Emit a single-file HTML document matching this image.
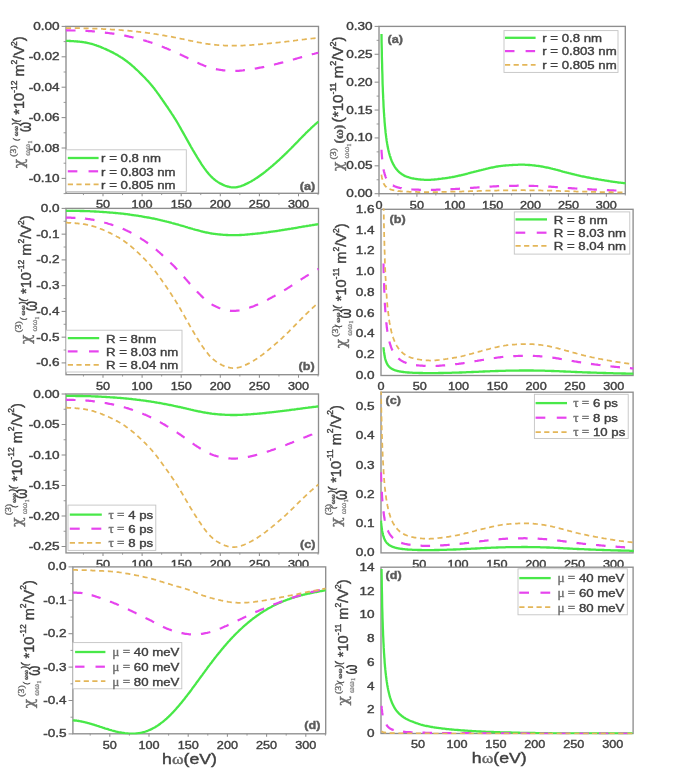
<!DOCTYPE html>
<html lang="en"><head><meta charset="utf-8"><title>Third-order susceptibility plots</title>
<style>html,body{margin:0;padding:0;background:#fff}body{width:685px;height:773px;overflow:hidden}svg{display:block;filter:blur(0.55px)}text{white-space:pre;stroke-width:.4px}</style></head>
<body>
<svg width="685" height="773" viewBox="0 0 685 773">
<rect width="685" height="773" fill="#fff"/>
<g>
<rect x="66" y="26.4" width="252.5" height="166.9" fill="#fff"/>
<clipPath id="c1"><rect x="65.3" y="25.7" width="253.9" height="168.3"/></clipPath>
<rect x="66" y="26.4" width="252.5" height="166.9" fill="none" stroke="#8e8e8e" stroke-width="1.35"/>
<g clip-path="url(#c1)" fill="none" stroke-linejoin="round">
<path d="M66.0 40.7 L66.1 40.8 L66.3 40.8 L66.4 40.8 L66.6 40.8 L66.7 40.8 L66.9 40.8 L67.0 40.8 L67.2 40.8 L67.3 40.8 L67.5 40.9 L67.6 40.9 L67.8 40.9 L67.9 40.9 L68.1 40.9 L68.2 40.9 L68.4 40.9 L68.5 40.9 L68.7 40.9 L68.8 40.9 L69.0 40.9 L69.1 41.0 L69.2 41.0 L69.4 41.0 L69.5 41.0 L69.7 41.0 L69.8 41.0 L70.0 41.0 L70.1 41.0 L70.3 41.0 L70.4 41.0 L70.6 41.0 L70.7 41.1 L70.9 41.1 L71.0 41.1 L71.2 41.1 L71.3 41.1 L71.5 41.1 L71.6 41.1 L71.8 41.1 L71.9 41.1 L72.0 41.1 L72.2 41.1 L72.3 41.2 L72.5 41.2 L72.6 41.2 L72.8 41.2 L72.9 41.2 L73.1 41.2 L73.2 41.2 L73.4 41.2 L73.5 41.2 L73.7 41.2 L73.8 41.2 L74.0 41.3 L74.1 41.3 L74.3 41.3 L74.4 41.3 L74.6 41.3 L74.7 41.3 L74.9 41.3 L75.0 41.3 L75.1 41.3 L75.3 41.3 L75.4 41.4 L75.6 41.4 L75.7 41.4 L75.9 41.4 L76.0 41.4 L76.2 41.4 L76.3 41.4 L76.5 41.4 L76.6 41.4 L76.8 41.5 L76.9 41.5 L77.1 41.5 L77.2 41.5 L77.4 41.5 L77.5 41.5 L77.7 41.5 L77.8 41.5 L78.0 41.6 L78.1 41.6 L78.2 41.6 L78.4 41.6 L78.5 41.6 L78.7 41.6 L78.8 41.6 L79.0 41.7 L79.1 41.7 L79.3 41.7 L79.4 41.7 L79.6 41.7 L79.7 41.7 L79.9 41.7 L80.0 41.8 L80.2 41.8 L80.3 41.8 L80.5 41.8 L80.6 41.8 L80.8 41.8 L80.9 41.9 L81.0 41.9 L81.2 41.9 L81.3 41.9 L81.5 41.9 L81.6 41.9 L81.8 42.0 L81.9 42.0 L82.1 42.0 L82.2 42.0 L82.4 42.0 L82.5 42.1 L82.7 42.1 L82.8 42.1 L83.0 42.1 L83.1 42.1 L83.3 42.2 L83.4 42.2 L83.6 42.2 L83.7 42.2 L83.9 42.3 L84.0 42.3 L84.1 42.3 L84.3 42.3 L84.4 42.4 L84.6 42.4 L84.7 42.4 L84.9 42.4 L85.0 42.5 L85.2 42.5 L85.3 42.5 L85.5 42.5 L85.6 42.6 L85.8 42.6 L85.9 42.6 L86.1 42.6 L86.2 42.7 L86.4 42.7 L86.5 42.7 L86.7 42.8 L86.8 42.8 L87.0 42.8 L87.1 42.9 L87.2 42.9 L87.4 42.9 L87.5 42.9 L87.7 43.0 L87.8 43.0 L88.0 43.0 L88.1 43.1 L88.3 43.1 L88.4 43.1 L88.6 43.2 L88.7 43.2 L88.9 43.2 L89.0 43.3 L89.2 43.3 L89.3 43.3 L89.5 43.4 L90.5 43.6 L91.6 43.9 L92.6 44.2 L93.6 44.5 L94.7 44.9 L95.7 45.2 L96.8 45.6 L97.8 45.9 L98.9 46.3 L99.9 46.7 L101.0 47.1 L102.0 47.6 L103.0 48.0 L104.1 48.5 L105.1 48.9 L106.2 49.4 L107.2 49.9 L108.3 50.4 L109.3 50.8 L110.4 51.4 L111.4 51.9 L112.5 52.4 L113.5 52.9 L114.5 53.5 L115.6 54.1 L116.6 54.6 L117.7 55.2 L118.7 55.9 L119.8 56.5 L120.8 57.2 L121.9 57.8 L122.9 58.5 L124.0 59.3 L125.0 60.0 L126.0 60.7 L127.1 61.5 L128.1 62.3 L129.2 63.2 L130.2 64.0 L131.3 64.9 L132.3 65.8 L133.4 66.7 L134.4 67.6 L135.4 68.6 L136.5 69.6 L137.5 70.5 L138.6 71.5 L139.6 72.6 L140.7 73.6 L141.7 74.6 L142.8 75.7 L143.8 76.7 L144.9 77.8 L145.9 78.9 L146.9 80.0 L148.0 81.1 L149.0 82.3 L150.1 83.5 L151.1 84.7 L152.2 86.0 L153.2 87.3 L154.3 88.6 L155.3 90.0 L156.4 91.4 L157.4 92.8 L158.4 94.2 L159.5 95.7 L160.5 97.2 L161.6 98.7 L162.6 100.2 L163.7 101.7 L164.7 103.3 L165.8 104.8 L166.8 106.3 L167.9 107.8 L168.9 109.4 L169.9 110.9 L171.0 112.5 L172.0 114.1 L173.1 115.7 L174.1 117.4 L175.2 119.0 L176.2 120.7 L177.3 122.5 L178.3 124.2 L179.3 126.0 L180.4 127.9 L181.4 129.7 L182.5 131.6 L183.5 133.4 L184.6 135.3 L185.6 137.2 L186.7 139.1 L187.7 140.9 L188.8 142.8 L189.8 144.6 L190.8 146.5 L191.9 148.3 L192.9 150.1 L194.0 151.9 L195.0 153.6 L196.1 155.4 L197.1 157.1 L198.2 158.8 L199.2 160.5 L200.3 162.1 L201.3 163.8 L202.3 165.3 L203.4 166.9 L204.4 168.4 L205.5 169.8 L206.5 171.2 L207.6 172.5 L208.6 173.8 L209.7 175.0 L210.7 176.1 L211.8 177.1 L212.8 178.1 L213.8 179.0 L214.9 179.9 L215.9 180.7 L217.0 181.4 L218.0 182.1 L219.1 182.8 L220.1 183.4 L221.2 183.9 L222.2 184.4 L223.2 184.9 L224.3 185.4 L225.3 185.8 L226.4 186.1 L227.4 186.5 L228.5 186.7 L229.5 187.0 L230.6 187.2 L231.6 187.3 L232.7 187.4 L233.7 187.4 L234.7 187.4 L235.8 187.3 L236.8 187.1 L237.9 187.0 L238.9 186.7 L240.0 186.4 L241.0 186.1 L242.1 185.7 L243.1 185.3 L244.2 184.9 L245.2 184.4 L246.2 183.9 L247.3 183.4 L248.3 182.9 L249.4 182.3 L250.4 181.8 L251.5 181.2 L252.5 180.6 L253.6 179.9 L254.6 179.3 L255.6 178.6 L256.7 178.0 L257.7 177.3 L258.8 176.5 L259.8 175.8 L260.9 175.0 L261.9 174.3 L263.0 173.5 L264.0 172.7 L265.1 171.9 L266.1 171.0 L267.1 170.2 L268.2 169.3 L269.2 168.4 L270.3 167.6 L271.3 166.7 L272.4 165.8 L273.4 164.9 L274.5 164.0 L275.5 163.1 L276.6 162.1 L277.6 161.2 L278.6 160.3 L279.7 159.3 L280.7 158.3 L281.8 157.4 L282.8 156.4 L283.9 155.4 L284.9 154.4 L286.0 153.4 L287.0 152.4 L288.1 151.3 L289.1 150.3 L290.1 149.3 L291.2 148.2 L292.2 147.1 L293.3 146.1 L294.3 145.0 L295.4 143.9 L296.4 142.8 L297.5 141.8 L298.5 140.7 L299.5 139.6 L300.6 138.5 L301.6 137.5 L302.7 136.4 L303.7 135.3 L304.8 134.3 L305.8 133.2 L306.9 132.2 L307.9 131.2 L309.0 130.2 L310.0 129.2 L311.0 128.2 L312.1 127.2 L313.1 126.2 L314.2 125.3 L315.2 124.3 L316.3 123.4 L317.3 122.5 L318.4 121.5" stroke="#48e848" stroke-width="2.3"/>
<path d="M66.0 30.4 L66.1 30.4 L66.3 30.4 L66.4 30.4 L66.6 30.4 L66.7 30.4 L66.9 30.4 L67.0 30.4 L67.2 30.4 L67.3 30.4 L67.5 30.4 L67.6 30.4 L67.8 30.4 L67.9 30.4 L68.1 30.4 L68.2 30.4 L68.4 30.4 L68.5 30.4 L68.7 30.4 L68.8 30.4 L69.0 30.4 L69.1 30.4 L69.2 30.4 L69.4 30.4 L69.5 30.4 L69.7 30.4 L69.8 30.4 L70.0 30.4 L70.1 30.4 L70.3 30.4 L70.4 30.5 L70.6 30.5 L70.7 30.5 L70.9 30.5 L71.0 30.5 L71.2 30.5 L71.3 30.5 L71.5 30.5 L71.6 30.5 L71.8 30.5 L71.9 30.5 L72.0 30.5 L72.2 30.5 L72.3 30.5 L72.5 30.5 L72.6 30.5 L72.8 30.5 L72.9 30.5 L73.1 30.5 L73.2 30.5 L73.4 30.5 L73.5 30.5 L73.7 30.5 L73.8 30.5 L74.0 30.5 L74.1 30.5 L74.3 30.5 L74.4 30.5 L74.6 30.5 L74.7 30.5 L74.9 30.5 L75.0 30.5 L75.1 30.5 L75.3 30.5 L75.4 30.5 L75.6 30.5 L75.7 30.5 L75.9 30.5 L76.0 30.6 L76.2 30.6 L76.3 30.6 L76.5 30.6 L76.6 30.6 L76.8 30.6 L76.9 30.6 L77.1 30.6 L77.2 30.6 L77.4 30.6 L77.5 30.6 L77.7 30.6 L77.8 30.6 L78.0 30.6 L78.1 30.6 L78.2 30.6 L78.4 30.6 L78.5 30.6 L78.7 30.6 L78.8 30.6 L79.0 30.6 L79.1 30.6 L79.3 30.6 L79.4 30.6 L79.6 30.6 L79.7 30.6 L79.9 30.6 L80.0 30.6 L80.2 30.7 L80.3 30.7 L80.5 30.7 L80.6 30.7 L80.8 30.7 L80.9 30.7 L81.0 30.7 L81.2 30.7 L81.3 30.7 L81.5 30.7 L81.6 30.7 L81.8 30.7 L81.9 30.7 L82.1 30.7 L82.2 30.7 L82.4 30.7 L82.5 30.7 L82.7 30.7 L82.8 30.7 L83.0 30.8 L83.1 30.8 L83.3 30.8 L83.4 30.8 L83.6 30.8 L83.7 30.8 L83.9 30.8 L84.0 30.8 L84.1 30.8 L84.3 30.8 L84.4 30.8 L84.6 30.8 L84.7 30.8 L84.9 30.8 L85.0 30.8 L85.2 30.8 L85.3 30.9 L85.5 30.9 L85.6 30.9 L85.8 30.9 L85.9 30.9 L86.1 30.9 L86.2 30.9 L86.4 30.9 L86.5 30.9 L86.7 30.9 L86.8 30.9 L87.0 30.9 L87.1 31.0 L87.2 31.0 L87.4 31.0 L87.5 31.0 L87.7 31.0 L87.8 31.0 L88.0 31.0 L88.1 31.0 L88.3 31.0 L88.4 31.0 L88.6 31.0 L88.7 31.1 L88.9 31.1 L89.0 31.1 L89.2 31.1 L89.3 31.1 L89.5 31.1 L90.5 31.2 L91.6 31.2 L92.6 31.3 L93.6 31.4 L94.7 31.5 L95.7 31.6 L96.8 31.7 L97.8 31.8 L98.9 31.9 L99.9 32.0 L101.0 32.1 L102.0 32.3 L103.0 32.4 L104.1 32.5 L105.1 32.6 L106.2 32.8 L107.2 32.9 L108.3 33.0 L109.3 33.2 L110.4 33.3 L111.4 33.4 L112.5 33.6 L113.5 33.7 L114.5 33.9 L115.6 34.1 L116.6 34.2 L117.7 34.4 L118.7 34.6 L119.8 34.7 L120.8 34.9 L121.9 35.1 L122.9 35.3 L124.0 35.5 L125.0 35.7 L126.0 35.9 L127.1 36.1 L128.1 36.3 L129.2 36.6 L130.2 36.8 L131.3 37.0 L132.3 37.3 L133.4 37.5 L134.4 37.8 L135.4 38.1 L136.5 38.3 L137.5 38.6 L138.6 38.9 L139.6 39.2 L140.7 39.5 L141.7 39.7 L142.8 40.0 L143.8 40.3 L144.9 40.6 L145.9 40.9 L146.9 41.2 L148.0 41.5 L149.0 41.9 L150.1 42.2 L151.1 42.5 L152.2 42.9 L153.2 43.2 L154.3 43.6 L155.3 44.0 L156.4 44.4 L157.4 44.8 L158.4 45.2 L159.5 45.6 L160.5 46.0 L161.6 46.4 L162.6 46.8 L163.7 47.2 L164.7 47.7 L165.8 48.1 L166.8 48.5 L167.9 48.9 L168.9 49.4 L169.9 49.8 L171.0 50.2 L172.0 50.7 L173.1 51.1 L174.1 51.6 L175.2 52.0 L176.2 52.5 L177.3 53.0 L178.3 53.5 L179.3 54.0 L180.4 54.5 L181.4 55.0 L182.5 55.5 L183.5 56.0 L184.6 56.5 L185.6 57.1 L186.7 57.6 L187.7 58.1 L188.8 58.6 L189.8 59.1 L190.8 59.6 L191.9 60.1 L192.9 60.6 L194.0 61.1 L195.0 61.6 L196.1 62.1 L197.1 62.6 L198.2 63.0 L199.2 63.5 L200.3 64.0 L201.3 64.4 L202.3 64.8 L203.4 65.3 L204.4 65.7 L205.5 66.1 L206.5 66.5 L207.6 66.8 L208.6 67.2 L209.7 67.5 L210.7 67.8 L211.8 68.1 L212.8 68.4 L213.8 68.6 L214.9 68.9 L215.9 69.1 L217.0 69.3 L218.0 69.5 L219.1 69.7 L220.1 69.8 L221.2 70.0 L222.2 70.1 L223.2 70.3 L224.3 70.4 L225.3 70.5 L226.4 70.6 L227.4 70.7 L228.5 70.8 L229.5 70.8 L230.6 70.9 L231.6 70.9 L232.7 70.9 L233.7 70.9 L234.7 70.9 L235.8 70.9 L236.8 70.9 L237.9 70.8 L238.9 70.8 L240.0 70.7 L241.0 70.6 L242.1 70.5 L243.1 70.4 L244.2 70.2 L245.2 70.1 L246.2 70.0 L247.3 69.8 L248.3 69.7 L249.4 69.5 L250.4 69.4 L251.5 69.2 L252.5 69.1 L253.6 68.9 L254.6 68.7 L255.6 68.5 L256.7 68.3 L257.7 68.1 L258.8 67.9 L259.8 67.7 L260.9 67.5 L261.9 67.3 L263.0 67.1 L264.0 66.9 L265.1 66.6 L266.1 66.4 L267.1 66.2 L268.2 65.9 L269.2 65.7 L270.3 65.5 L271.3 65.2 L272.4 65.0 L273.4 64.7 L274.5 64.5 L275.5 64.2 L276.6 64.0 L277.6 63.7 L278.6 63.4 L279.7 63.2 L280.7 62.9 L281.8 62.6 L282.8 62.4 L283.9 62.1 L284.9 61.8 L286.0 61.5 L287.0 61.3 L288.1 61.0 L289.1 60.7 L290.1 60.4 L291.2 60.1 L292.2 59.8 L293.3 59.5 L294.3 59.2 L295.4 58.9 L296.4 58.6 L297.5 58.3 L298.5 58.0 L299.5 57.7 L300.6 57.4 L301.6 57.1 L302.7 56.8 L303.7 56.5 L304.8 56.2 L305.8 56.0 L306.9 55.7 L307.9 55.4 L309.0 55.1 L310.0 54.8 L311.0 54.6 L312.1 54.3 L313.1 54.0 L314.2 53.8 L315.2 53.5 L316.3 53.2 L317.3 53.0 L318.4 52.7" stroke="#e644ee" stroke-width="2.2" stroke-dasharray="9.6 10"/>
<path d="M66.0 28.1 L66.1 28.1 L66.3 28.1 L66.4 28.1 L66.6 28.1 L66.7 28.1 L66.9 28.1 L67.0 28.1 L67.2 28.1 L67.3 28.1 L67.5 28.1 L67.6 28.1 L67.8 28.1 L67.9 28.1 L68.1 28.1 L68.2 28.1 L68.4 28.1 L68.5 28.1 L68.7 28.1 L68.8 28.1 L69.0 28.1 L69.1 28.1 L69.2 28.1 L69.4 28.1 L69.5 28.1 L69.7 28.2 L69.8 28.2 L70.0 28.2 L70.1 28.2 L70.3 28.2 L70.4 28.2 L70.6 28.2 L70.7 28.2 L70.9 28.2 L71.0 28.2 L71.2 28.2 L71.3 28.2 L71.5 28.2 L71.6 28.2 L71.8 28.2 L71.9 28.2 L72.0 28.2 L72.2 28.2 L72.3 28.2 L72.5 28.2 L72.6 28.2 L72.8 28.2 L72.9 28.2 L73.1 28.2 L73.2 28.2 L73.4 28.2 L73.5 28.2 L73.7 28.2 L73.8 28.2 L74.0 28.2 L74.1 28.2 L74.3 28.2 L74.4 28.2 L74.6 28.2 L74.7 28.2 L74.9 28.2 L75.0 28.2 L75.1 28.2 L75.3 28.2 L75.4 28.2 L75.6 28.2 L75.7 28.2 L75.9 28.2 L76.0 28.2 L76.2 28.2 L76.3 28.2 L76.5 28.2 L76.6 28.2 L76.8 28.2 L76.9 28.2 L77.1 28.2 L77.2 28.2 L77.4 28.2 L77.5 28.2 L77.7 28.2 L77.8 28.2 L78.0 28.2 L78.1 28.2 L78.2 28.2 L78.4 28.2 L78.5 28.2 L78.7 28.2 L78.8 28.2 L79.0 28.2 L79.1 28.2 L79.3 28.2 L79.4 28.2 L79.6 28.2 L79.7 28.2 L79.9 28.2 L80.0 28.2 L80.2 28.2 L80.3 28.2 L80.5 28.2 L80.6 28.2 L80.8 28.3 L80.9 28.3 L81.0 28.3 L81.2 28.3 L81.3 28.3 L81.5 28.3 L81.6 28.3 L81.8 28.3 L81.9 28.3 L82.1 28.3 L82.2 28.3 L82.4 28.3 L82.5 28.3 L82.7 28.3 L82.8 28.3 L83.0 28.3 L83.1 28.3 L83.3 28.3 L83.4 28.3 L83.6 28.3 L83.7 28.3 L83.9 28.3 L84.0 28.3 L84.1 28.3 L84.3 28.3 L84.4 28.3 L84.6 28.3 L84.7 28.3 L84.9 28.3 L85.0 28.3 L85.2 28.3 L85.3 28.3 L85.5 28.3 L85.6 28.3 L85.8 28.3 L85.9 28.3 L86.1 28.3 L86.2 28.4 L86.4 28.4 L86.5 28.4 L86.7 28.4 L86.8 28.4 L87.0 28.4 L87.1 28.4 L87.2 28.4 L87.4 28.4 L87.5 28.4 L87.7 28.4 L87.8 28.4 L88.0 28.4 L88.1 28.4 L88.3 28.4 L88.4 28.4 L88.6 28.4 L88.7 28.4 L88.9 28.4 L89.0 28.4 L89.2 28.4 L89.3 28.4 L89.5 28.4 L90.5 28.5 L91.6 28.5 L92.6 28.5 L93.6 28.6 L94.7 28.6 L95.7 28.7 L96.8 28.7 L97.8 28.7 L98.9 28.8 L99.9 28.8 L101.0 28.9 L102.0 28.9 L103.0 29.0 L104.1 29.0 L105.1 29.1 L106.2 29.2 L107.2 29.2 L108.3 29.3 L109.3 29.3 L110.4 29.4 L111.4 29.5 L112.5 29.5 L113.5 29.6 L114.5 29.6 L115.6 29.7 L116.6 29.8 L117.7 29.9 L118.7 29.9 L119.8 30.0 L120.8 30.1 L121.9 30.2 L122.9 30.3 L124.0 30.3 L125.0 30.4 L126.0 30.5 L127.1 30.6 L128.1 30.7 L129.2 30.8 L130.2 30.9 L131.3 31.0 L132.3 31.1 L133.4 31.2 L134.4 31.3 L135.4 31.5 L136.5 31.6 L137.5 31.7 L138.6 31.8 L139.6 31.9 L140.7 32.1 L141.7 32.2 L142.8 32.3 L143.8 32.4 L144.9 32.6 L145.9 32.7 L146.9 32.8 L148.0 33.0 L149.0 33.1 L150.1 33.2 L151.1 33.4 L152.2 33.5 L153.2 33.7 L154.3 33.9 L155.3 34.0 L156.4 34.2 L157.4 34.4 L158.4 34.5 L159.5 34.7 L160.5 34.9 L161.6 35.1 L162.6 35.3 L163.7 35.4 L164.7 35.6 L165.8 35.8 L166.8 36.0 L167.9 36.2 L168.9 36.4 L169.9 36.5 L171.0 36.7 L172.0 36.9 L173.1 37.1 L174.1 37.3 L175.2 37.5 L176.2 37.7 L177.3 37.9 L178.3 38.1 L179.3 38.3 L180.4 38.6 L181.4 38.8 L182.5 39.0 L183.5 39.2 L184.6 39.5 L185.6 39.7 L186.7 39.9 L187.7 40.1 L188.8 40.4 L189.8 40.6 L190.8 40.8 L191.9 41.0 L192.9 41.2 L194.0 41.4 L195.0 41.7 L196.1 41.9 L197.1 42.1 L198.2 42.3 L199.2 42.5 L200.3 42.7 L201.3 42.9 L202.3 43.1 L203.4 43.2 L204.4 43.4 L205.5 43.6 L206.5 43.8 L207.6 43.9 L208.6 44.1 L209.7 44.2 L210.7 44.4 L211.8 44.5 L212.8 44.6 L213.8 44.7 L214.9 44.8 L215.9 44.9 L217.0 45.0 L218.0 45.1 L219.1 45.2 L220.1 45.2 L221.2 45.3 L222.2 45.4 L223.2 45.4 L224.3 45.5 L225.3 45.5 L226.4 45.6 L227.4 45.6 L228.5 45.6 L229.5 45.7 L230.6 45.7 L231.6 45.7 L232.7 45.7 L233.7 45.7 L234.7 45.7 L235.8 45.7 L236.8 45.7 L237.9 45.7 L238.9 45.6 L240.0 45.6 L241.0 45.6 L242.1 45.5 L243.1 45.5 L244.2 45.4 L245.2 45.4 L246.2 45.3 L247.3 45.2 L248.3 45.2 L249.4 45.1 L250.4 45.0 L251.5 45.0 L252.5 44.9 L253.6 44.8 L254.6 44.7 L255.6 44.7 L256.7 44.6 L257.7 44.5 L258.8 44.4 L259.8 44.3 L260.9 44.2 L261.9 44.1 L263.0 44.0 L264.0 43.9 L265.1 43.8 L266.1 43.7 L267.1 43.6 L268.2 43.5 L269.2 43.4 L270.3 43.3 L271.3 43.2 L272.4 43.1 L273.4 43.0 L274.5 42.9 L275.5 42.8 L276.6 42.7 L277.6 42.6 L278.6 42.5 L279.7 42.3 L280.7 42.2 L281.8 42.1 L282.8 42.0 L283.9 41.9 L284.9 41.8 L286.0 41.6 L287.0 41.5 L288.1 41.4 L289.1 41.3 L290.1 41.1 L291.2 41.0 L292.2 40.9 L293.3 40.8 L294.3 40.6 L295.4 40.5 L296.4 40.4 L297.5 40.2 L298.5 40.1 L299.5 40.0 L300.6 39.8 L301.6 39.7 L302.7 39.6 L303.7 39.5 L304.8 39.3 L305.8 39.2 L306.9 39.1 L307.9 39.0 L309.0 38.8 L310.0 38.7 L311.0 38.6 L312.1 38.5 L313.1 38.4 L314.2 38.3 L315.2 38.1 L316.3 38.0 L317.3 37.9 L318.4 37.8" stroke="#e4b658" stroke-width="1.75" stroke-dasharray="5.1 3.7"/>
</g>
<rect x="66" y="149.8" width="120.3" height="41.7" fill="#fff" stroke="#c4c4c4" stroke-width="0.9"/>
<line x1="67.8" y1="158" x2="98.6" y2="158" stroke="#48e848" stroke-width="2.3"/>
<text x="0" y="0" transform="translate(101.1 162.3) scale(1.13 1)" font-family="'Liberation Sans', Arial, Helvetica, sans-serif" font-size="11.7" text-anchor="start" fill="#404040" stroke="#404040">r = 0.8 nm</text>
<line x1="67.8" y1="171.3" x2="77.35" y2="171.3" stroke="#e644ee" stroke-width="2.2"/>
<line x1="88.55" y1="171.3" x2="98.1" y2="171.3" stroke="#e644ee" stroke-width="2.2"/>
<text x="0" y="0" transform="translate(101.1 175.6) scale(1.13 1)" font-family="'Liberation Sans', Arial, Helvetica, sans-serif" font-size="11.7" text-anchor="start" fill="#404040" stroke="#404040">r = 0.803 nm</text>
<line x1="67.8" y1="184.4" x2="98.6" y2="184.4" stroke="#e4b658" stroke-width="1.75" stroke-dasharray="5.2 3.4"/>
<text x="0" y="0" transform="translate(101.1 188.7) scale(1.13 1)" font-family="'Liberation Sans', Arial, Helvetica, sans-serif" font-size="11.7" text-anchor="start" fill="#404040" stroke="#404040">r = 0.805 nm</text>
<line x1="103" y1="193.3" x2="103" y2="196.3" stroke="#8e8e8e" stroke-width="1.05"/>
<text x="0" y="0" transform="translate(103 208.1) scale(1.1 1)" font-family="'Liberation Sans', Arial, Helvetica, sans-serif" font-size="11.5" text-anchor="middle" fill="#404040" stroke="#404040">50</text>
<line x1="142.1" y1="193.3" x2="142.1" y2="196.3" stroke="#8e8e8e" stroke-width="1.05"/>
<text x="0" y="0" transform="translate(142.1 208.1) scale(1.1 1)" font-family="'Liberation Sans', Arial, Helvetica, sans-serif" font-size="11.5" text-anchor="middle" fill="#404040" stroke="#404040">100</text>
<line x1="181.2" y1="193.3" x2="181.2" y2="196.3" stroke="#8e8e8e" stroke-width="1.05"/>
<text x="0" y="0" transform="translate(181.2 208.1) scale(1.1 1)" font-family="'Liberation Sans', Arial, Helvetica, sans-serif" font-size="11.5" text-anchor="middle" fill="#404040" stroke="#404040">150</text>
<line x1="220.3" y1="193.3" x2="220.3" y2="196.3" stroke="#8e8e8e" stroke-width="1.05"/>
<text x="0" y="0" transform="translate(220.3 208.1) scale(1.1 1)" font-family="'Liberation Sans', Arial, Helvetica, sans-serif" font-size="11.5" text-anchor="middle" fill="#404040" stroke="#404040">200</text>
<line x1="259.4" y1="193.3" x2="259.4" y2="196.3" stroke="#8e8e8e" stroke-width="1.05"/>
<text x="0" y="0" transform="translate(259.4 208.1) scale(1.1 1)" font-family="'Liberation Sans', Arial, Helvetica, sans-serif" font-size="11.5" text-anchor="middle" fill="#404040" stroke="#404040">250</text>
<line x1="298.5" y1="193.3" x2="298.5" y2="196.3" stroke="#8e8e8e" stroke-width="1.05"/>
<text x="0" y="0" transform="translate(298.5 208.1) scale(1.1 1)" font-family="'Liberation Sans', Arial, Helvetica, sans-serif" font-size="11.5" text-anchor="middle" fill="#404040" stroke="#404040">300</text>
<line x1="83.45" y1="193.3" x2="83.45" y2="195.1" stroke="#8e8e8e" stroke-width="0.9"/>
<line x1="122.55" y1="193.3" x2="122.55" y2="195.1" stroke="#8e8e8e" stroke-width="0.9"/>
<line x1="161.65" y1="193.3" x2="161.65" y2="195.1" stroke="#8e8e8e" stroke-width="0.9"/>
<line x1="200.75" y1="193.3" x2="200.75" y2="195.1" stroke="#8e8e8e" stroke-width="0.9"/>
<line x1="239.85" y1="193.3" x2="239.85" y2="195.1" stroke="#8e8e8e" stroke-width="0.9"/>
<line x1="278.95" y1="193.3" x2="278.95" y2="195.1" stroke="#8e8e8e" stroke-width="0.9"/>
<line x1="318.05" y1="193.3" x2="318.05" y2="195.1" stroke="#8e8e8e" stroke-width="0.9"/>
<line x1="61.6" y1="26.4" x2="66" y2="26.4" stroke="#8e8e8e" stroke-width="1.05"/>
<text x="0" y="0" transform="translate(59.6 29.9) scale(1.18 1)" font-family="'Liberation Sans', Arial, Helvetica, sans-serif" font-size="11.5" text-anchor="end" fill="#404040" stroke="#404040">0.00</text>
<line x1="61.6" y1="56.8" x2="66" y2="56.8" stroke="#8e8e8e" stroke-width="1.05"/>
<text x="0" y="0" transform="translate(59.6 60.3) scale(1.18 1)" font-family="'Liberation Sans', Arial, Helvetica, sans-serif" font-size="11.5" text-anchor="end" fill="#404040" stroke="#404040">-0.02</text>
<line x1="61.6" y1="87.2" x2="66" y2="87.2" stroke="#8e8e8e" stroke-width="1.05"/>
<text x="0" y="0" transform="translate(59.6 90.7) scale(1.18 1)" font-family="'Liberation Sans', Arial, Helvetica, sans-serif" font-size="11.5" text-anchor="end" fill="#404040" stroke="#404040">-0.04</text>
<line x1="61.6" y1="117.6" x2="66" y2="117.6" stroke="#8e8e8e" stroke-width="1.05"/>
<text x="0" y="0" transform="translate(59.6 121.1) scale(1.18 1)" font-family="'Liberation Sans', Arial, Helvetica, sans-serif" font-size="11.5" text-anchor="end" fill="#404040" stroke="#404040">-0.06</text>
<line x1="61.6" y1="148" x2="66" y2="148" stroke="#8e8e8e" stroke-width="1.05"/>
<text x="0" y="0" transform="translate(59.6 151.5) scale(1.18 1)" font-family="'Liberation Sans', Arial, Helvetica, sans-serif" font-size="11.5" text-anchor="end" fill="#404040" stroke="#404040">-0.08</text>
<line x1="61.6" y1="178.4" x2="66" y2="178.4" stroke="#8e8e8e" stroke-width="1.05"/>
<text x="0" y="0" transform="translate(59.6 181.9) scale(1.18 1)" font-family="'Liberation Sans', Arial, Helvetica, sans-serif" font-size="11.5" text-anchor="end" fill="#404040" stroke="#404040">-0.10</text>
<line x1="63.6" y1="41.6" x2="66" y2="41.6" stroke="#8e8e8e" stroke-width="0.9"/>
<line x1="63.6" y1="72" x2="66" y2="72" stroke="#8e8e8e" stroke-width="0.9"/>
<line x1="63.6" y1="102.4" x2="66" y2="102.4" stroke="#8e8e8e" stroke-width="0.9"/>
<line x1="63.6" y1="132.8" x2="66" y2="132.8" stroke="#8e8e8e" stroke-width="0.9"/>
<line x1="63.6" y1="163.2" x2="66" y2="163.2" stroke="#8e8e8e" stroke-width="0.9"/>
<line x1="63.6" y1="193.6" x2="66" y2="193.6" stroke="#8e8e8e" stroke-width="0.9"/>
<text x="0" y="0" transform="translate(307.4 189.6) scale(1.1 1)" font-family="'Liberation Sans', Arial, Helvetica, sans-serif" font-size="11.5" text-anchor="middle" fill="#5c5c5c" stroke="#5c5c5c" font-weight="bold">(a)</text>
<g transform="translate(24.2 168.2) rotate(-90)">
<text x="0" y="0" font-family="'DejaVu Serif', 'Liberation Serif', serif" font-size="15.5" fill="#6e6e6e" stroke="#6e6e6e">χ</text>
<text transform="translate(11.5 -8.5) scale(1.08 1)" font-family="'Liberation Serif', 'Times New Roman', serif" font-size="9" fill="#6e6e6e" stroke="#6e6e6e">(3)</text>
<text transform="translate(12.5 5.8)" font-family="'Liberation Serif', 'Times New Roman', serif" font-size="9" fill="#909090" stroke="#909090">ωω<tspan font-size="6.5" dy="1.5">1</tspan></text>
<text x="27.5" y="-6" font-family="'Liberation Sans', Arial, Helvetica, sans-serif" font-size="6.5" font-style="italic" fill="#555" stroke="#555">(</text>
<text x="32" y="-6" font-family="'Liberation Serif', 'Times New Roman', serif" font-size="7" fill="#555" stroke="#555" font-weight="bold">ωω</text>
<text x="43" y="-5.6" font-family="'Liberation Sans', Arial, Helvetica, sans-serif" font-size="9" font-style="italic" fill="#444" stroke="#444">)(</text>
<text transform="translate(36.3 7) scale(0.64 1)" font-family="'Liberation Sans', Arial, Helvetica, sans-serif" font-size="20" fill="#383838" stroke="#383838">ω</text>
<text transform="translate(53.5 0) scale(0.95 1)" x="0" y="0" font-family="'Liberation Sans', Arial, Helvetica, sans-serif" font-size="15.3" fill="#404040" stroke="#404040">*10<tspan font-size="9" dy="-7.2">-12</tspan><tspan dy="7.2"> m</tspan><tspan font-size="9" dy="-7.2">2</tspan><tspan dy="7.2">/V</tspan><tspan font-size="9" dy="-7.2">2</tspan><tspan dy="7.2">)</tspan></text>
</g>
</g>
<g>
<rect x="66" y="208.4" width="252.5" height="166.3" fill="#fff"/>
<clipPath id="c2"><rect x="65.3" y="207.7" width="253.9" height="167.7"/></clipPath>
<rect x="66" y="208.4" width="252.5" height="166.3" fill="none" stroke="#8e8e8e" stroke-width="1.35"/>
<g clip-path="url(#c2)" fill="none" stroke-linejoin="round">
<path d="M66.0 210.8 L66.1 210.8 L66.3 210.8 L66.4 210.8 L66.6 210.8 L66.7 210.8 L66.9 210.8 L67.0 210.8 L67.2 210.8 L67.3 210.8 L67.5 210.8 L67.6 210.8 L67.8 210.8 L67.9 210.8 L68.1 210.8 L68.2 210.8 L68.4 210.8 L68.5 210.8 L68.7 210.8 L68.8 210.8 L69.0 210.8 L69.1 210.8 L69.2 210.8 L69.4 210.8 L69.5 210.8 L69.7 210.8 L69.8 210.8 L70.0 210.8 L70.1 210.8 L70.3 210.8 L70.4 210.8 L70.6 210.8 L70.7 210.8 L70.9 210.8 L71.0 210.8 L71.2 210.8 L71.3 210.8 L71.5 210.8 L71.6 210.8 L71.8 210.8 L71.9 210.9 L72.0 210.9 L72.2 210.9 L72.3 210.9 L72.5 210.9 L72.6 210.9 L72.8 210.9 L72.9 210.9 L73.1 210.9 L73.2 210.9 L73.4 210.9 L73.5 210.9 L73.7 210.9 L73.8 210.9 L74.0 210.9 L74.1 210.9 L74.3 210.9 L74.4 210.9 L74.6 210.9 L74.7 210.9 L74.9 210.9 L75.0 210.9 L75.1 210.9 L75.3 210.9 L75.4 210.9 L75.6 210.9 L75.7 210.9 L75.9 210.9 L76.0 210.9 L76.2 210.9 L76.3 210.9 L76.5 210.9 L76.6 210.9 L76.8 210.9 L76.9 210.9 L77.1 210.9 L77.2 210.9 L77.4 210.9 L77.5 210.9 L77.7 210.9 L77.8 210.9 L78.0 210.9 L78.1 210.9 L78.2 210.9 L78.4 210.9 L78.5 210.9 L78.7 210.9 L78.8 210.9 L79.0 210.9 L79.1 210.9 L79.3 210.9 L79.4 210.9 L79.6 210.9 L79.7 210.9 L79.9 211.0 L80.0 211.0 L80.2 211.0 L80.3 211.0 L80.5 211.0 L80.6 211.0 L80.8 211.0 L80.9 211.0 L81.0 211.0 L81.2 211.0 L81.3 211.0 L81.5 211.0 L81.6 211.0 L81.8 211.0 L81.9 211.0 L82.1 211.0 L82.2 211.0 L82.4 211.0 L82.5 211.0 L82.7 211.0 L82.8 211.0 L83.0 211.0 L83.1 211.0 L83.3 211.0 L83.4 211.0 L83.6 211.0 L83.7 211.0 L83.9 211.0 L84.0 211.0 L84.1 211.0 L84.3 211.1 L84.4 211.1 L84.6 211.1 L84.7 211.1 L84.9 211.1 L85.0 211.1 L85.2 211.1 L85.3 211.1 L85.5 211.1 L85.6 211.1 L85.8 211.1 L85.9 211.1 L86.1 211.1 L86.2 211.1 L86.4 211.1 L86.5 211.1 L86.7 211.1 L86.8 211.1 L87.0 211.1 L87.1 211.1 L87.2 211.1 L87.4 211.1 L87.5 211.2 L87.7 211.2 L87.8 211.2 L88.0 211.2 L88.1 211.2 L88.3 211.2 L88.4 211.2 L88.6 211.2 L88.7 211.2 L88.9 211.2 L89.0 211.2 L89.2 211.2 L89.3 211.2 L89.5 211.2 L90.5 211.3 L91.6 211.3 L92.6 211.4 L93.6 211.4 L94.7 211.5 L95.7 211.5 L96.8 211.6 L97.8 211.6 L98.9 211.7 L99.9 211.8 L101.0 211.9 L102.0 211.9 L103.0 212.0 L104.1 212.1 L105.1 212.1 L106.2 212.2 L107.2 212.3 L108.3 212.4 L109.3 212.5 L110.4 212.6 L111.4 212.6 L112.5 212.7 L113.5 212.8 L114.5 212.9 L115.6 213.0 L116.6 213.1 L117.7 213.2 L118.7 213.3 L119.8 213.4 L120.8 213.5 L121.9 213.6 L122.9 213.7 L124.0 213.9 L125.0 214.0 L126.0 214.1 L127.1 214.2 L128.1 214.4 L129.2 214.5 L130.2 214.7 L131.3 214.8 L132.3 215.0 L133.4 215.1 L134.4 215.3 L135.4 215.4 L136.5 215.6 L137.5 215.7 L138.6 215.9 L139.6 216.1 L140.7 216.2 L141.7 216.4 L142.8 216.6 L143.8 216.8 L144.9 217.0 L145.9 217.1 L146.9 217.3 L148.0 217.5 L149.0 217.7 L150.1 217.9 L151.1 218.1 L152.2 218.3 L153.2 218.5 L154.3 218.7 L155.3 219.0 L156.4 219.2 L157.4 219.4 L158.4 219.7 L159.5 219.9 L160.5 220.2 L161.6 220.4 L162.6 220.7 L163.7 220.9 L164.7 221.2 L165.8 221.4 L166.8 221.7 L167.9 221.9 L168.9 222.2 L169.9 222.5 L171.0 222.7 L172.0 223.0 L173.1 223.3 L174.1 223.5 L175.2 223.8 L176.2 224.1 L177.3 224.4 L178.3 224.7 L179.3 225.0 L180.4 225.3 L181.4 225.6 L182.5 225.9 L183.5 226.2 L184.6 226.5 L185.6 226.8 L186.7 227.1 L187.7 227.5 L188.8 227.8 L189.8 228.1 L190.8 228.4 L191.9 228.7 L192.9 229.0 L194.0 229.3 L195.0 229.6 L196.1 229.9 L197.1 230.1 L198.2 230.4 L199.2 230.7 L200.3 231.0 L201.3 231.3 L202.3 231.5 L203.4 231.8 L204.4 232.0 L205.5 232.3 L206.5 232.5 L207.6 232.7 L208.6 232.9 L209.7 233.1 L210.7 233.3 L211.8 233.5 L212.8 233.6 L213.8 233.8 L214.9 233.9 L215.9 234.1 L217.0 234.2 L218.0 234.3 L219.1 234.4 L220.1 234.5 L221.2 234.6 L222.2 234.7 L223.2 234.8 L224.3 234.8 L225.3 234.9 L226.4 235.0 L227.4 235.0 L228.5 235.1 L229.5 235.1 L230.6 235.1 L231.6 235.2 L232.7 235.2 L233.7 235.2 L234.7 235.2 L235.8 235.2 L236.8 235.1 L237.9 235.1 L238.9 235.1 L240.0 235.0 L241.0 235.0 L242.1 234.9 L243.1 234.8 L244.2 234.8 L245.2 234.7 L246.2 234.6 L247.3 234.5 L248.3 234.4 L249.4 234.3 L250.4 234.2 L251.5 234.2 L252.5 234.0 L253.6 233.9 L254.6 233.8 L255.6 233.7 L256.7 233.6 L257.7 233.5 L258.8 233.4 L259.8 233.3 L260.9 233.1 L261.9 233.0 L263.0 232.9 L264.0 232.7 L265.1 232.6 L266.1 232.5 L267.1 232.3 L268.2 232.2 L269.2 232.0 L270.3 231.9 L271.3 231.7 L272.4 231.6 L273.4 231.4 L274.5 231.3 L275.5 231.1 L276.6 231.0 L277.6 230.8 L278.6 230.7 L279.7 230.5 L280.7 230.4 L281.8 230.2 L282.8 230.0 L283.9 229.9 L284.9 229.7 L286.0 229.5 L287.0 229.4 L288.1 229.2 L289.1 229.0 L290.1 228.8 L291.2 228.7 L292.2 228.5 L293.3 228.3 L294.3 228.1 L295.4 228.0 L296.4 227.8 L297.5 227.6 L298.5 227.4 L299.5 227.2 L300.6 227.1 L301.6 226.9 L302.7 226.7 L303.7 226.5 L304.8 226.3 L305.8 226.2 L306.9 226.0 L307.9 225.8 L309.0 225.7 L310.0 225.5 L311.0 225.3 L312.1 225.2 L313.1 225.0 L314.2 224.9 L315.2 224.7 L316.3 224.5 L317.3 224.4 L318.4 224.2" stroke="#48e848" stroke-width="2.3"/>
<path d="M66.0 217.5 L66.1 217.5 L66.3 217.5 L66.4 217.6 L66.6 217.6 L66.7 217.6 L66.9 217.6 L67.0 217.6 L67.2 217.6 L67.3 217.6 L67.5 217.6 L67.6 217.6 L67.8 217.6 L67.9 217.6 L68.1 217.6 L68.2 217.6 L68.4 217.6 L68.5 217.6 L68.7 217.7 L68.8 217.7 L69.0 217.7 L69.1 217.7 L69.2 217.7 L69.4 217.7 L69.5 217.7 L69.7 217.7 L69.8 217.7 L70.0 217.7 L70.1 217.7 L70.3 217.7 L70.4 217.7 L70.6 217.7 L70.7 217.7 L70.9 217.7 L71.0 217.7 L71.2 217.7 L71.3 217.8 L71.5 217.8 L71.6 217.8 L71.8 217.8 L71.9 217.8 L72.0 217.8 L72.2 217.8 L72.3 217.8 L72.5 217.8 L72.6 217.8 L72.8 217.8 L72.9 217.8 L73.1 217.8 L73.2 217.8 L73.4 217.8 L73.5 217.8 L73.7 217.8 L73.8 217.9 L74.0 217.9 L74.1 217.9 L74.3 217.9 L74.4 217.9 L74.6 217.9 L74.7 217.9 L74.9 217.9 L75.0 217.9 L75.1 217.9 L75.3 217.9 L75.4 217.9 L75.6 217.9 L75.7 217.9 L75.9 217.9 L76.0 218.0 L76.2 218.0 L76.3 218.0 L76.5 218.0 L76.6 218.0 L76.8 218.0 L76.9 218.0 L77.1 218.0 L77.2 218.0 L77.4 218.0 L77.5 218.0 L77.7 218.0 L77.8 218.0 L78.0 218.0 L78.1 218.1 L78.2 218.1 L78.4 218.1 L78.5 218.1 L78.7 218.1 L78.8 218.1 L79.0 218.1 L79.1 218.1 L79.3 218.1 L79.4 218.1 L79.6 218.1 L79.7 218.2 L79.9 218.2 L80.0 218.2 L80.2 218.2 L80.3 218.2 L80.5 218.2 L80.6 218.2 L80.8 218.2 L80.9 218.2 L81.0 218.3 L81.2 218.3 L81.3 218.3 L81.5 218.3 L81.6 218.3 L81.8 218.3 L81.9 218.3 L82.1 218.3 L82.2 218.3 L82.4 218.4 L82.5 218.4 L82.7 218.4 L82.8 218.4 L83.0 218.4 L83.1 218.4 L83.3 218.4 L83.4 218.5 L83.6 218.5 L83.7 218.5 L83.9 218.5 L84.0 218.5 L84.1 218.5 L84.3 218.5 L84.4 218.6 L84.6 218.6 L84.7 218.6 L84.9 218.6 L85.0 218.6 L85.2 218.6 L85.3 218.7 L85.5 218.7 L85.6 218.7 L85.8 218.7 L85.9 218.7 L86.1 218.7 L86.2 218.8 L86.4 218.8 L86.5 218.8 L86.7 218.8 L86.8 218.8 L87.0 218.9 L87.1 218.9 L87.2 218.9 L87.4 218.9 L87.5 218.9 L87.7 219.0 L87.8 219.0 L88.0 219.0 L88.1 219.0 L88.3 219.0 L88.4 219.1 L88.6 219.1 L88.7 219.1 L88.9 219.1 L89.0 219.1 L89.2 219.2 L89.3 219.2 L89.5 219.2 L90.5 219.4 L91.6 219.6 L92.6 219.7 L93.6 219.9 L94.7 220.1 L95.7 220.4 L96.8 220.6 L97.8 220.8 L98.9 221.1 L99.9 221.3 L101.0 221.6 L102.0 221.9 L103.0 222.2 L104.1 222.4 L105.1 222.7 L106.2 223.0 L107.2 223.3 L108.3 223.7 L109.3 224.0 L110.4 224.3 L111.4 224.6 L112.5 225.0 L113.5 225.3 L114.5 225.6 L115.6 226.0 L116.6 226.4 L117.7 226.8 L118.7 227.2 L119.8 227.6 L120.8 228.0 L121.9 228.4 L122.9 228.9 L124.0 229.3 L125.0 229.8 L126.0 230.3 L127.1 230.8 L128.1 231.3 L129.2 231.8 L130.2 232.3 L131.3 232.9 L132.3 233.5 L133.4 234.1 L134.4 234.6 L135.4 235.3 L136.5 235.9 L137.5 236.5 L138.6 237.1 L139.6 237.8 L140.7 238.4 L141.7 239.1 L142.8 239.8 L143.8 240.4 L144.9 241.1 L145.9 241.8 L146.9 242.5 L148.0 243.3 L149.0 244.0 L150.1 244.7 L151.1 245.5 L152.2 246.3 L153.2 247.2 L154.3 248.0 L155.3 248.9 L156.4 249.8 L157.4 250.7 L158.4 251.6 L159.5 252.5 L160.5 253.5 L161.6 254.4 L162.6 255.4 L163.7 256.4 L164.7 257.3 L165.8 258.3 L166.8 259.3 L167.9 260.2 L168.9 261.2 L169.9 262.2 L171.0 263.2 L172.0 264.2 L173.1 265.3 L174.1 266.3 L175.2 267.4 L176.2 268.5 L177.3 269.6 L178.3 270.7 L179.3 271.8 L180.4 273.0 L181.4 274.2 L182.5 275.4 L183.5 276.5 L184.6 277.7 L185.6 278.9 L186.7 280.1 L187.7 281.3 L188.8 282.5 L189.8 283.7 L190.8 284.8 L191.9 286.0 L192.9 287.1 L194.0 288.3 L195.0 289.4 L196.1 290.5 L197.1 291.6 L198.2 292.7 L199.2 293.8 L200.3 294.8 L201.3 295.9 L202.3 296.9 L203.4 297.8 L204.4 298.8 L205.5 299.7 L206.5 300.6 L207.6 301.4 L208.6 302.2 L209.7 303.0 L210.7 303.7 L211.8 304.4 L212.8 305.0 L213.8 305.6 L214.9 306.1 L215.9 306.6 L217.0 307.1 L218.0 307.5 L219.1 308.0 L220.1 308.3 L221.2 308.7 L222.2 309.0 L223.2 309.3 L224.3 309.6 L225.3 309.9 L226.4 310.1 L227.4 310.3 L228.5 310.5 L229.5 310.6 L230.6 310.8 L231.6 310.8 L232.7 310.9 L233.7 310.9 L234.7 310.9 L235.8 310.8 L236.8 310.7 L237.9 310.6 L238.9 310.5 L240.0 310.3 L241.0 310.1 L242.1 309.8 L243.1 309.6 L244.2 309.3 L245.2 309.0 L246.2 308.7 L247.3 308.4 L248.3 308.0 L249.4 307.7 L250.4 307.3 L251.5 306.9 L252.5 306.6 L253.6 306.2 L254.6 305.8 L255.6 305.3 L256.7 304.9 L257.7 304.5 L258.8 304.0 L259.8 303.5 L260.9 303.0 L261.9 302.5 L263.0 302.0 L264.0 301.5 L265.1 301.0 L266.1 300.5 L267.1 299.9 L268.2 299.4 L269.2 298.8 L270.3 298.3 L271.3 297.7 L272.4 297.1 L273.4 296.6 L274.5 296.0 L275.5 295.4 L276.6 294.8 L277.6 294.2 L278.6 293.6 L279.7 293.0 L280.7 292.4 L281.8 291.8 L282.8 291.2 L283.9 290.5 L284.9 289.9 L286.0 289.3 L287.0 288.6 L288.1 287.9 L289.1 287.3 L290.1 286.6 L291.2 285.9 L292.2 285.3 L293.3 284.6 L294.3 283.9 L295.4 283.2 L296.4 282.5 L297.5 281.8 L298.5 281.2 L299.5 280.5 L300.6 279.8 L301.6 279.1 L302.7 278.4 L303.7 277.8 L304.8 277.1 L305.8 276.4 L306.9 275.8 L307.9 275.1 L309.0 274.5 L310.0 273.8 L311.0 273.2 L312.1 272.6 L313.1 272.0 L314.2 271.4 L315.2 270.8 L316.3 270.2 L317.3 269.6 L318.4 269.0" stroke="#e644ee" stroke-width="2.2" stroke-dasharray="9.6 10"/>
<path d="M66.0 222.6 L66.1 222.6 L66.3 222.6 L66.4 222.7 L66.6 222.7 L66.7 222.7 L66.9 222.7 L67.0 222.7 L67.2 222.7 L67.3 222.7 L67.5 222.7 L67.6 222.7 L67.8 222.8 L67.9 222.8 L68.1 222.8 L68.2 222.8 L68.4 222.8 L68.5 222.8 L68.7 222.8 L68.8 222.8 L69.0 222.8 L69.1 222.8 L69.2 222.8 L69.4 222.9 L69.5 222.9 L69.7 222.9 L69.8 222.9 L70.0 222.9 L70.1 222.9 L70.3 222.9 L70.4 222.9 L70.6 222.9 L70.7 222.9 L70.9 222.9 L71.0 223.0 L71.2 223.0 L71.3 223.0 L71.5 223.0 L71.6 223.0 L71.8 223.0 L71.9 223.0 L72.0 223.0 L72.2 223.0 L72.3 223.0 L72.5 223.0 L72.6 223.1 L72.8 223.1 L72.9 223.1 L73.1 223.1 L73.2 223.1 L73.4 223.1 L73.5 223.1 L73.7 223.1 L73.8 223.1 L74.0 223.1 L74.1 223.1 L74.3 223.2 L74.4 223.2 L74.6 223.2 L74.7 223.2 L74.9 223.2 L75.0 223.2 L75.1 223.2 L75.3 223.2 L75.4 223.2 L75.6 223.2 L75.7 223.3 L75.9 223.3 L76.0 223.3 L76.2 223.3 L76.3 223.3 L76.5 223.3 L76.6 223.3 L76.8 223.3 L76.9 223.3 L77.1 223.4 L77.2 223.4 L77.4 223.4 L77.5 223.4 L77.7 223.4 L77.8 223.4 L78.0 223.4 L78.1 223.4 L78.2 223.5 L78.4 223.5 L78.5 223.5 L78.7 223.5 L78.8 223.5 L79.0 223.5 L79.1 223.5 L79.3 223.6 L79.4 223.6 L79.6 223.6 L79.7 223.6 L79.9 223.6 L80.0 223.6 L80.2 223.6 L80.3 223.7 L80.5 223.7 L80.6 223.7 L80.8 223.7 L80.9 223.7 L81.0 223.7 L81.2 223.8 L81.3 223.8 L81.5 223.8 L81.6 223.8 L81.8 223.8 L81.9 223.9 L82.1 223.9 L82.2 223.9 L82.4 223.9 L82.5 223.9 L82.7 224.0 L82.8 224.0 L83.0 224.0 L83.1 224.0 L83.3 224.0 L83.4 224.1 L83.6 224.1 L83.7 224.1 L83.9 224.1 L84.0 224.2 L84.1 224.2 L84.3 224.2 L84.4 224.2 L84.6 224.3 L84.7 224.3 L84.9 224.3 L85.0 224.3 L85.2 224.4 L85.3 224.4 L85.5 224.4 L85.6 224.4 L85.8 224.5 L85.9 224.5 L86.1 224.5 L86.2 224.5 L86.4 224.6 L86.5 224.6 L86.7 224.6 L86.8 224.7 L87.0 224.7 L87.1 224.7 L87.2 224.7 L87.4 224.8 L87.5 224.8 L87.7 224.8 L87.8 224.9 L88.0 224.9 L88.1 224.9 L88.3 225.0 L88.4 225.0 L88.6 225.0 L88.7 225.1 L88.9 225.1 L89.0 225.1 L89.2 225.2 L89.3 225.2 L89.5 225.2 L90.5 225.5 L91.6 225.8 L92.6 226.1 L93.6 226.4 L94.7 226.7 L95.7 227.0 L96.8 227.4 L97.8 227.8 L98.9 228.2 L99.9 228.6 L101.0 229.0 L102.0 229.4 L103.0 229.8 L104.1 230.3 L105.1 230.7 L106.2 231.2 L107.2 231.7 L108.3 232.2 L109.3 232.6 L110.4 233.1 L111.4 233.7 L112.5 234.2 L113.5 234.7 L114.5 235.3 L115.6 235.8 L116.6 236.4 L117.7 237.0 L118.7 237.6 L119.8 238.3 L120.8 238.9 L121.9 239.6 L122.9 240.3 L124.0 241.0 L125.0 241.7 L126.0 242.5 L127.1 243.2 L128.1 244.0 L129.2 244.9 L130.2 245.7 L131.3 246.6 L132.3 247.5 L133.4 248.4 L134.4 249.3 L135.4 250.2 L136.5 251.2 L137.5 252.2 L138.6 253.2 L139.6 254.2 L140.7 255.2 L141.7 256.2 L142.8 257.3 L143.8 258.3 L144.9 259.4 L145.9 260.5 L146.9 261.6 L148.0 262.7 L149.0 263.8 L150.1 265.0 L151.1 266.2 L152.2 267.5 L153.2 268.8 L154.3 270.1 L155.3 271.4 L156.4 272.8 L157.4 274.2 L158.4 275.7 L159.5 277.1 L160.5 278.6 L161.6 280.1 L162.6 281.6 L163.7 283.1 L164.7 284.6 L165.8 286.1 L166.8 287.6 L167.9 289.2 L168.9 290.7 L169.9 292.2 L171.0 293.8 L172.0 295.4 L173.1 297.0 L174.1 298.6 L175.2 300.3 L176.2 302.0 L177.3 303.7 L178.3 305.4 L179.3 307.2 L180.4 309.0 L181.4 310.9 L182.5 312.7 L183.5 314.6 L184.6 316.4 L185.6 318.3 L186.7 320.1 L187.7 322.0 L188.8 323.8 L189.8 325.7 L190.8 327.5 L191.9 329.3 L192.9 331.1 L194.0 332.8 L195.0 334.6 L196.1 336.3 L197.1 338.0 L198.2 339.7 L199.2 341.4 L200.3 343.0 L201.3 344.6 L202.3 346.2 L203.4 347.7 L204.4 349.2 L205.5 350.6 L206.5 352.0 L207.6 353.3 L208.6 354.6 L209.7 355.8 L210.7 356.9 L211.8 357.9 L212.8 358.9 L213.8 359.8 L214.9 360.6 L215.9 361.4 L217.0 362.2 L218.0 362.9 L219.1 363.5 L220.1 364.1 L221.2 364.6 L222.2 365.2 L223.2 365.6 L224.3 366.1 L225.3 366.5 L226.4 366.8 L227.4 367.2 L228.5 367.4 L229.5 367.7 L230.6 367.8 L231.6 368.0 L232.7 368.1 L233.7 368.1 L234.7 368.1 L235.8 368.0 L236.8 367.8 L237.9 367.6 L238.9 367.4 L240.0 367.1 L241.0 366.8 L242.1 366.4 L243.1 366.0 L244.2 365.6 L245.2 365.1 L246.2 364.6 L247.3 364.1 L248.3 363.6 L249.4 363.1 L250.4 362.5 L251.5 361.9 L252.5 361.3 L253.6 360.7 L254.6 360.1 L255.6 359.4 L256.7 358.7 L257.7 358.0 L258.8 357.3 L259.8 356.6 L260.9 355.8 L261.9 355.1 L263.0 354.3 L264.0 353.5 L265.1 352.7 L266.1 351.8 L267.1 351.0 L268.2 350.1 L269.2 349.3 L270.3 348.4 L271.3 347.5 L272.4 346.6 L273.4 345.7 L274.5 344.8 L275.5 343.9 L276.6 343.0 L277.6 342.1 L278.6 341.2 L279.7 340.2 L280.7 339.3 L281.8 338.3 L282.8 337.3 L283.9 336.4 L284.9 335.4 L286.0 334.4 L287.0 333.3 L288.1 332.3 L289.1 331.3 L290.1 330.2 L291.2 329.2 L292.2 328.1 L293.3 327.1 L294.3 326.0 L295.4 325.0 L296.4 323.9 L297.5 322.8 L298.5 321.7 L299.5 320.7 L300.6 319.6 L301.6 318.5 L302.7 317.5 L303.7 316.4 L304.8 315.4 L305.8 314.4 L306.9 313.3 L307.9 312.3 L309.0 311.3 L310.0 310.3 L311.0 309.3 L312.1 308.4 L313.1 307.4 L314.2 306.5 L315.2 305.5 L316.3 304.6 L317.3 303.7 L318.4 302.7" stroke="#e4b658" stroke-width="1.75" stroke-dasharray="5.1 3.7"/>
</g>
<rect x="66" y="330.2" width="116" height="41.8" fill="#fff" stroke="#c4c4c4" stroke-width="0.9"/>
<line x1="67.8" y1="338.2" x2="99.2" y2="338.2" stroke="#48e848" stroke-width="2.3"/>
<text x="0" y="0" transform="translate(106 342.5) scale(1.13 1)" font-family="'Liberation Sans', Arial, Helvetica, sans-serif" font-size="11.7" text-anchor="start" fill="#404040" stroke="#404040">R = 8nm</text>
<line x1="67.8" y1="351.4" x2="77.53" y2="351.4" stroke="#e644ee" stroke-width="2.2"/>
<line x1="88.97" y1="351.4" x2="98.7" y2="351.4" stroke="#e644ee" stroke-width="2.2"/>
<text x="0" y="0" transform="translate(106 355.7) scale(1.13 1)" font-family="'Liberation Sans', Arial, Helvetica, sans-serif" font-size="11.7" text-anchor="start" fill="#404040" stroke="#404040">R = 8.03 nm</text>
<line x1="67.8" y1="364.9" x2="99.2" y2="364.9" stroke="#e4b658" stroke-width="1.75" stroke-dasharray="5.2 3.4"/>
<text x="0" y="0" transform="translate(106 369.2) scale(1.13 1)" font-family="'Liberation Sans', Arial, Helvetica, sans-serif" font-size="11.7" text-anchor="start" fill="#404040" stroke="#404040">R = 8.04 nm</text>
<line x1="103" y1="374.7" x2="103" y2="377.7" stroke="#8e8e8e" stroke-width="1.05"/>
<text x="0" y="0" transform="translate(103 389.5) scale(1.1 1)" font-family="'Liberation Sans', Arial, Helvetica, sans-serif" font-size="11.5" text-anchor="middle" fill="#404040" stroke="#404040">50</text>
<line x1="142.1" y1="374.7" x2="142.1" y2="377.7" stroke="#8e8e8e" stroke-width="1.05"/>
<text x="0" y="0" transform="translate(142.1 389.5) scale(1.1 1)" font-family="'Liberation Sans', Arial, Helvetica, sans-serif" font-size="11.5" text-anchor="middle" fill="#404040" stroke="#404040">100</text>
<line x1="181.2" y1="374.7" x2="181.2" y2="377.7" stroke="#8e8e8e" stroke-width="1.05"/>
<text x="0" y="0" transform="translate(181.2 389.5) scale(1.1 1)" font-family="'Liberation Sans', Arial, Helvetica, sans-serif" font-size="11.5" text-anchor="middle" fill="#404040" stroke="#404040">150</text>
<line x1="220.3" y1="374.7" x2="220.3" y2="377.7" stroke="#8e8e8e" stroke-width="1.05"/>
<text x="0" y="0" transform="translate(220.3 389.5) scale(1.1 1)" font-family="'Liberation Sans', Arial, Helvetica, sans-serif" font-size="11.5" text-anchor="middle" fill="#404040" stroke="#404040">200</text>
<line x1="259.4" y1="374.7" x2="259.4" y2="377.7" stroke="#8e8e8e" stroke-width="1.05"/>
<text x="0" y="0" transform="translate(259.4 389.5) scale(1.1 1)" font-family="'Liberation Sans', Arial, Helvetica, sans-serif" font-size="11.5" text-anchor="middle" fill="#404040" stroke="#404040">250</text>
<line x1="298.5" y1="374.7" x2="298.5" y2="377.7" stroke="#8e8e8e" stroke-width="1.05"/>
<text x="0" y="0" transform="translate(298.5 389.5) scale(1.1 1)" font-family="'Liberation Sans', Arial, Helvetica, sans-serif" font-size="11.5" text-anchor="middle" fill="#404040" stroke="#404040">300</text>
<line x1="83.45" y1="374.7" x2="83.45" y2="376.5" stroke="#8e8e8e" stroke-width="0.9"/>
<line x1="122.55" y1="374.7" x2="122.55" y2="376.5" stroke="#8e8e8e" stroke-width="0.9"/>
<line x1="161.65" y1="374.7" x2="161.65" y2="376.5" stroke="#8e8e8e" stroke-width="0.9"/>
<line x1="200.75" y1="374.7" x2="200.75" y2="376.5" stroke="#8e8e8e" stroke-width="0.9"/>
<line x1="239.85" y1="374.7" x2="239.85" y2="376.5" stroke="#8e8e8e" stroke-width="0.9"/>
<line x1="278.95" y1="374.7" x2="278.95" y2="376.5" stroke="#8e8e8e" stroke-width="0.9"/>
<line x1="318.05" y1="374.7" x2="318.05" y2="376.5" stroke="#8e8e8e" stroke-width="0.9"/>
<line x1="61.6" y1="208.4" x2="66" y2="208.4" stroke="#8e8e8e" stroke-width="1.05"/>
<text x="0" y="0" transform="translate(59.6 211.9) scale(1.18 1)" font-family="'Liberation Sans', Arial, Helvetica, sans-serif" font-size="11.5" text-anchor="end" fill="#404040" stroke="#404040">0.0</text>
<line x1="61.6" y1="234.15" x2="66" y2="234.15" stroke="#8e8e8e" stroke-width="1.05"/>
<text x="0" y="0" transform="translate(59.6 237.65) scale(1.18 1)" font-family="'Liberation Sans', Arial, Helvetica, sans-serif" font-size="11.5" text-anchor="end" fill="#404040" stroke="#404040">-0.1</text>
<line x1="61.6" y1="259.9" x2="66" y2="259.9" stroke="#8e8e8e" stroke-width="1.05"/>
<text x="0" y="0" transform="translate(59.6 263.4) scale(1.18 1)" font-family="'Liberation Sans', Arial, Helvetica, sans-serif" font-size="11.5" text-anchor="end" fill="#404040" stroke="#404040">-0.2</text>
<line x1="61.6" y1="285.65" x2="66" y2="285.65" stroke="#8e8e8e" stroke-width="1.05"/>
<text x="0" y="0" transform="translate(59.6 289.15) scale(1.18 1)" font-family="'Liberation Sans', Arial, Helvetica, sans-serif" font-size="11.5" text-anchor="end" fill="#404040" stroke="#404040">-0.3</text>
<line x1="61.6" y1="311.4" x2="66" y2="311.4" stroke="#8e8e8e" stroke-width="1.05"/>
<text x="0" y="0" transform="translate(59.6 314.9) scale(1.18 1)" font-family="'Liberation Sans', Arial, Helvetica, sans-serif" font-size="11.5" text-anchor="end" fill="#404040" stroke="#404040">-0.4</text>
<line x1="61.6" y1="337.15" x2="66" y2="337.15" stroke="#8e8e8e" stroke-width="1.05"/>
<text x="0" y="0" transform="translate(59.6 340.65) scale(1.18 1)" font-family="'Liberation Sans', Arial, Helvetica, sans-serif" font-size="11.5" text-anchor="end" fill="#404040" stroke="#404040">-0.5</text>
<line x1="61.6" y1="362.9" x2="66" y2="362.9" stroke="#8e8e8e" stroke-width="1.05"/>
<text x="0" y="0" transform="translate(59.6 366.4) scale(1.18 1)" font-family="'Liberation Sans', Arial, Helvetica, sans-serif" font-size="11.5" text-anchor="end" fill="#404040" stroke="#404040">-0.6</text>
<line x1="63.6" y1="221.28" x2="66" y2="221.28" stroke="#8e8e8e" stroke-width="0.9"/>
<line x1="63.6" y1="247.03" x2="66" y2="247.03" stroke="#8e8e8e" stroke-width="0.9"/>
<line x1="63.6" y1="272.77" x2="66" y2="272.77" stroke="#8e8e8e" stroke-width="0.9"/>
<line x1="63.6" y1="298.52" x2="66" y2="298.52" stroke="#8e8e8e" stroke-width="0.9"/>
<line x1="63.6" y1="324.27" x2="66" y2="324.27" stroke="#8e8e8e" stroke-width="0.9"/>
<line x1="63.6" y1="350.02" x2="66" y2="350.02" stroke="#8e8e8e" stroke-width="0.9"/>
<text x="0" y="0" transform="translate(306.6 370) scale(1.1 1)" font-family="'Liberation Sans', Arial, Helvetica, sans-serif" font-size="11.5" text-anchor="middle" fill="#5c5c5c" stroke="#5c5c5c" font-weight="bold">(b)</text>
<g transform="translate(31.3 344) rotate(-90)">
<text x="0" y="0" font-family="'DejaVu Serif', 'Liberation Serif', serif" font-size="15.5" fill="#6e6e6e" stroke="#6e6e6e">χ</text>
<text transform="translate(11.5 -10.5) scale(1.08 1)" font-family="'Liberation Serif', 'Times New Roman', serif" font-size="9" fill="#6e6e6e" stroke="#6e6e6e">(3)</text>
<text transform="translate(12.5 5.8)" font-family="'Liberation Serif', 'Times New Roman', serif" font-size="9" fill="#909090" stroke="#909090">ωω<tspan font-size="6.5" dy="1.5">1</tspan></text>
<text x="24.1" y="-6" font-family="'Liberation Sans', Arial, Helvetica, sans-serif" font-size="6.5" font-style="italic" fill="#555" stroke="#555">(</text>
<text x="28.6" y="-6" font-family="'Liberation Serif', 'Times New Roman', serif" font-size="7" fill="#555" stroke="#555" font-weight="bold">ωω</text>
<text x="39.6" y="-5.6" font-family="'Liberation Sans', Arial, Helvetica, sans-serif" font-size="9" font-style="italic" fill="#444" stroke="#444">)(</text>
<text transform="translate(32.9 5.7) scale(0.64 1)" font-family="'Liberation Sans', Arial, Helvetica, sans-serif" font-size="20" fill="#383838" stroke="#383838">ω</text>
<text transform="translate(50.1 0) scale(0.95 1)" x="0" y="0" font-family="'Liberation Sans', Arial, Helvetica, sans-serif" font-size="15.3" fill="#404040" stroke="#404040">*10<tspan font-size="9" dy="-7.2">-12</tspan><tspan dy="7.2"> m</tspan><tspan font-size="9" dy="-7.2">2</tspan><tspan dy="7.2">/V</tspan><tspan font-size="9" dy="-7.2">2</tspan><tspan dy="7.2">)</tspan></text>
</g>
</g>
<g>
<rect x="66" y="394" width="252.5" height="158.9" fill="#fff"/>
<clipPath id="c3"><rect x="65.3" y="393.3" width="253.9" height="160.3"/></clipPath>
<rect x="66" y="394" width="252.5" height="158.9" fill="none" stroke="#8e8e8e" stroke-width="1.35"/>
<g clip-path="url(#c3)" fill="none" stroke-linejoin="round">
<path d="M66.0 395.9 L66.1 395.9 L66.3 395.9 L66.4 395.9 L66.6 395.9 L66.7 395.9 L66.9 395.9 L67.0 395.9 L67.2 395.9 L67.3 395.9 L67.5 395.9 L67.6 395.9 L67.8 395.9 L67.9 395.9 L68.1 395.9 L68.2 395.9 L68.4 395.9 L68.5 395.9 L68.7 395.9 L68.8 395.9 L69.0 395.9 L69.1 395.9 L69.2 395.9 L69.4 395.9 L69.5 395.9 L69.7 395.9 L69.8 395.9 L70.0 395.9 L70.1 395.9 L70.3 395.9 L70.4 395.9 L70.6 395.9 L70.7 395.9 L70.9 395.9 L71.0 395.9 L71.2 395.9 L71.3 395.9 L71.5 395.9 L71.6 395.9 L71.8 395.9 L71.9 395.9 L72.0 395.9 L72.2 395.9 L72.3 395.9 L72.5 395.9 L72.6 395.9 L72.8 395.9 L72.9 395.9 L73.1 395.9 L73.2 395.9 L73.4 395.9 L73.5 395.9 L73.7 395.9 L73.8 395.9 L74.0 395.9 L74.1 395.9 L74.3 395.9 L74.4 395.9 L74.6 395.9 L74.7 395.9 L74.9 395.9 L75.0 395.9 L75.1 395.9 L75.3 395.9 L75.4 395.9 L75.6 396.0 L75.7 396.0 L75.9 396.0 L76.0 396.0 L76.2 396.0 L76.3 396.0 L76.5 396.0 L76.6 396.0 L76.8 396.0 L76.9 396.0 L77.1 396.0 L77.2 396.0 L77.4 396.0 L77.5 396.0 L77.7 396.0 L77.8 396.0 L78.0 396.0 L78.1 396.0 L78.2 396.0 L78.4 396.0 L78.5 396.0 L78.7 396.0 L78.8 396.0 L79.0 396.0 L79.1 396.0 L79.3 396.0 L79.4 396.0 L79.6 396.0 L79.7 396.0 L79.9 396.0 L80.0 396.0 L80.2 396.0 L80.3 396.0 L80.5 396.0 L80.6 396.0 L80.8 396.0 L80.9 396.0 L81.0 396.0 L81.2 396.0 L81.3 396.0 L81.5 396.0 L81.6 396.0 L81.8 396.0 L81.9 396.0 L82.1 396.0 L82.2 396.0 L82.4 396.0 L82.5 396.0 L82.7 396.0 L82.8 396.0 L83.0 396.1 L83.1 396.1 L83.3 396.1 L83.4 396.1 L83.6 396.1 L83.7 396.1 L83.9 396.1 L84.0 396.1 L84.1 396.1 L84.3 396.1 L84.4 396.1 L84.6 396.1 L84.7 396.1 L84.9 396.1 L85.0 396.1 L85.2 396.1 L85.3 396.1 L85.5 396.1 L85.6 396.1 L85.8 396.1 L85.9 396.1 L86.1 396.1 L86.2 396.1 L86.4 396.1 L86.5 396.1 L86.7 396.1 L86.8 396.1 L87.0 396.1 L87.1 396.1 L87.2 396.1 L87.4 396.2 L87.5 396.2 L87.7 396.2 L87.8 396.2 L88.0 396.2 L88.1 396.2 L88.3 396.2 L88.4 396.2 L88.6 396.2 L88.7 396.2 L88.9 396.2 L89.0 396.2 L89.2 396.2 L89.3 396.2 L89.5 396.2 L90.5 396.2 L91.6 396.3 L92.6 396.3 L93.6 396.4 L94.7 396.4 L95.7 396.5 L96.8 396.5 L97.8 396.5 L98.9 396.6 L99.9 396.6 L101.0 396.7 L102.0 396.8 L103.0 396.8 L104.1 396.9 L105.1 396.9 L106.2 397.0 L107.2 397.1 L108.3 397.1 L109.3 397.2 L110.4 397.3 L111.4 397.3 L112.5 397.4 L113.5 397.5 L114.5 397.5 L115.6 397.6 L116.6 397.7 L117.7 397.8 L118.7 397.8 L119.8 397.9 L120.8 398.0 L121.9 398.1 L122.9 398.2 L124.0 398.3 L125.0 398.4 L126.0 398.5 L127.1 398.6 L128.1 398.7 L129.2 398.8 L130.2 398.9 L131.3 399.0 L132.3 399.1 L133.4 399.3 L134.4 399.4 L135.4 399.5 L136.5 399.6 L137.5 399.8 L138.6 399.9 L139.6 400.0 L140.7 400.2 L141.7 400.3 L142.8 400.4 L143.8 400.6 L144.9 400.7 L145.9 400.8 L146.9 401.0 L148.0 401.1 L149.0 401.3 L150.1 401.4 L151.1 401.6 L152.2 401.8 L153.2 401.9 L154.3 402.1 L155.3 402.3 L156.4 402.5 L157.4 402.7 L158.4 402.8 L159.5 403.0 L160.5 403.2 L161.6 403.4 L162.6 403.6 L163.7 403.8 L164.7 404.0 L165.8 404.2 L166.8 404.4 L167.9 404.6 L168.9 404.8 L169.9 405.0 L171.0 405.2 L172.0 405.4 L173.1 405.6 L174.1 405.9 L175.2 406.1 L176.2 406.3 L177.3 406.5 L178.3 406.8 L179.3 407.0 L180.4 407.2 L181.4 407.5 L182.5 407.7 L183.5 408.0 L184.6 408.2 L185.6 408.4 L186.7 408.7 L187.7 408.9 L188.8 409.2 L189.8 409.4 L190.8 409.7 L191.9 409.9 L192.9 410.1 L194.0 410.4 L195.0 410.6 L196.1 410.8 L197.1 411.0 L198.2 411.3 L199.2 411.5 L200.3 411.7 L201.3 411.9 L202.3 412.1 L203.4 412.3 L204.4 412.5 L205.5 412.7 L206.5 412.9 L207.6 413.0 L208.6 413.2 L209.7 413.4 L210.7 413.5 L211.8 413.7 L212.8 413.8 L213.8 413.9 L214.9 414.0 L215.9 414.1 L217.0 414.2 L218.0 414.3 L219.1 414.4 L220.1 414.5 L221.2 414.5 L222.2 414.6 L223.2 414.7 L224.3 414.7 L225.3 414.8 L226.4 414.8 L227.4 414.9 L228.5 414.9 L229.5 414.9 L230.6 415.0 L231.6 415.0 L232.7 415.0 L233.7 415.0 L234.7 415.0 L235.8 415.0 L236.8 415.0 L237.9 414.9 L238.9 414.9 L240.0 414.9 L241.0 414.8 L242.1 414.8 L243.1 414.7 L244.2 414.7 L245.2 414.6 L246.2 414.5 L247.3 414.5 L248.3 414.4 L249.4 414.3 L250.4 414.3 L251.5 414.2 L252.5 414.1 L253.6 414.0 L254.6 413.9 L255.6 413.8 L256.7 413.8 L257.7 413.7 L258.8 413.6 L259.8 413.5 L260.9 413.4 L261.9 413.3 L263.0 413.2 L264.0 413.1 L265.1 413.0 L266.1 412.9 L267.1 412.7 L268.2 412.6 L269.2 412.5 L270.3 412.4 L271.3 412.3 L272.4 412.2 L273.4 412.1 L274.5 411.9 L275.5 411.8 L276.6 411.7 L277.6 411.6 L278.6 411.4 L279.7 411.3 L280.7 411.2 L281.8 411.1 L282.8 410.9 L283.9 410.8 L284.9 410.7 L286.0 410.6 L287.0 410.4 L288.1 410.3 L289.1 410.2 L290.1 410.0 L291.2 409.9 L292.2 409.7 L293.3 409.6 L294.3 409.5 L295.4 409.3 L296.4 409.2 L297.5 409.0 L298.5 408.9 L299.5 408.8 L300.6 408.6 L301.6 408.5 L302.7 408.3 L303.7 408.2 L304.8 408.1 L305.8 407.9 L306.9 407.8 L307.9 407.7 L309.0 407.5 L310.0 407.4 L311.0 407.3 L312.1 407.1 L313.1 407.0 L314.2 406.9 L315.2 406.8 L316.3 406.6 L317.3 406.5 L318.4 406.4" stroke="#48e848" stroke-width="2.3"/>
<path d="M66.0 399.8 L66.1 399.8 L66.3 399.8 L66.4 399.8 L66.6 399.8 L66.7 399.8 L66.9 399.8 L67.0 399.8 L67.2 399.8 L67.3 399.8 L67.5 399.8 L67.6 399.8 L67.8 399.8 L67.9 399.8 L68.1 399.8 L68.2 399.8 L68.4 399.8 L68.5 399.8 L68.7 399.8 L68.8 399.8 L69.0 399.8 L69.1 399.8 L69.2 399.8 L69.4 399.8 L69.5 399.9 L69.7 399.9 L69.8 399.9 L70.0 399.9 L70.1 399.9 L70.3 399.9 L70.4 399.9 L70.6 399.9 L70.7 399.9 L70.9 399.9 L71.0 399.9 L71.2 399.9 L71.3 399.9 L71.5 399.9 L71.6 399.9 L71.8 399.9 L71.9 399.9 L72.0 399.9 L72.2 399.9 L72.3 399.9 L72.5 399.9 L72.6 399.9 L72.8 399.9 L72.9 399.9 L73.1 399.9 L73.2 399.9 L73.4 399.9 L73.5 400.0 L73.7 400.0 L73.8 400.0 L74.0 400.0 L74.1 400.0 L74.3 400.0 L74.4 400.0 L74.6 400.0 L74.7 400.0 L74.9 400.0 L75.0 400.0 L75.1 400.0 L75.3 400.0 L75.4 400.0 L75.6 400.0 L75.7 400.0 L75.9 400.0 L76.0 400.0 L76.2 400.0 L76.3 400.0 L76.5 400.0 L76.6 400.0 L76.8 400.0 L76.9 400.0 L77.1 400.1 L77.2 400.1 L77.4 400.1 L77.5 400.1 L77.7 400.1 L77.8 400.1 L78.0 400.1 L78.1 400.1 L78.2 400.1 L78.4 400.1 L78.5 400.1 L78.7 400.1 L78.8 400.1 L79.0 400.1 L79.1 400.1 L79.3 400.1 L79.4 400.1 L79.6 400.1 L79.7 400.2 L79.9 400.2 L80.0 400.2 L80.2 400.2 L80.3 400.2 L80.5 400.2 L80.6 400.2 L80.8 400.2 L80.9 400.2 L81.0 400.2 L81.2 400.2 L81.3 400.2 L81.5 400.2 L81.6 400.2 L81.8 400.2 L81.9 400.3 L82.1 400.3 L82.2 400.3 L82.4 400.3 L82.5 400.3 L82.7 400.3 L82.8 400.3 L83.0 400.3 L83.1 400.3 L83.3 400.3 L83.4 400.3 L83.6 400.3 L83.7 400.4 L83.9 400.4 L84.0 400.4 L84.1 400.4 L84.3 400.4 L84.4 400.4 L84.6 400.4 L84.7 400.4 L84.9 400.4 L85.0 400.4 L85.2 400.5 L85.3 400.5 L85.5 400.5 L85.6 400.5 L85.8 400.5 L85.9 400.5 L86.1 400.5 L86.2 400.5 L86.4 400.5 L86.5 400.6 L86.7 400.6 L86.8 400.6 L87.0 400.6 L87.1 400.6 L87.2 400.6 L87.4 400.6 L87.5 400.6 L87.7 400.7 L87.8 400.7 L88.0 400.7 L88.1 400.7 L88.3 400.7 L88.4 400.7 L88.6 400.7 L88.7 400.7 L88.9 400.8 L89.0 400.8 L89.2 400.8 L89.3 400.8 L89.5 400.8 L90.5 400.9 L91.6 401.0 L92.6 401.1 L93.6 401.3 L94.7 401.4 L95.7 401.5 L96.8 401.7 L97.8 401.8 L98.9 402.0 L99.9 402.2 L101.0 402.3 L102.0 402.5 L103.0 402.7 L104.1 402.9 L105.1 403.0 L106.2 403.2 L107.2 403.4 L108.3 403.6 L109.3 403.8 L110.4 404.0 L111.4 404.2 L112.5 404.4 L113.5 404.6 L114.5 404.9 L115.6 405.1 L116.6 405.3 L117.7 405.6 L118.7 405.8 L119.8 406.1 L120.8 406.3 L121.9 406.6 L122.9 406.9 L124.0 407.2 L125.0 407.5 L126.0 407.8 L127.1 408.1 L128.1 408.4 L129.2 408.8 L130.2 409.1 L131.3 409.4 L132.3 409.8 L133.4 410.2 L134.4 410.5 L135.4 410.9 L136.5 411.3 L137.5 411.7 L138.6 412.1 L139.6 412.5 L140.7 412.9 L141.7 413.3 L142.8 413.8 L143.8 414.2 L144.9 414.6 L145.9 415.1 L146.9 415.5 L148.0 416.0 L149.0 416.4 L150.1 416.9 L151.1 417.4 L152.2 417.9 L153.2 418.4 L154.3 419.0 L155.3 419.5 L156.4 420.1 L157.4 420.6 L158.4 421.2 L159.5 421.8 L160.5 422.4 L161.6 423.0 L162.6 423.6 L163.7 424.2 L164.7 424.8 L165.8 425.5 L166.8 426.1 L167.9 426.7 L168.9 427.3 L169.9 427.9 L171.0 428.6 L172.0 429.2 L173.1 429.8 L174.1 430.5 L175.2 431.2 L176.2 431.9 L177.3 432.6 L178.3 433.3 L179.3 434.0 L180.4 434.7 L181.4 435.5 L182.5 436.2 L183.5 437.0 L184.6 437.7 L185.6 438.5 L186.7 439.2 L187.7 440.0 L188.8 440.7 L189.8 441.4 L190.8 442.2 L191.9 442.9 L192.9 443.6 L194.0 444.4 L195.0 445.1 L196.1 445.8 L197.1 446.5 L198.2 447.1 L199.2 447.8 L200.3 448.5 L201.3 449.1 L202.3 449.8 L203.4 450.4 L204.4 451.0 L205.5 451.6 L206.5 452.1 L207.6 452.6 L208.6 453.1 L209.7 453.6 L210.7 454.1 L211.8 454.5 L212.8 454.9 L213.8 455.3 L214.9 455.6 L215.9 455.9 L217.0 456.2 L218.0 456.5 L219.1 456.8 L220.1 457.0 L221.2 457.2 L222.2 457.4 L223.2 457.6 L224.3 457.8 L225.3 458.0 L226.4 458.1 L227.4 458.2 L228.5 458.4 L229.5 458.4 L230.6 458.5 L231.6 458.6 L232.7 458.6 L233.7 458.6 L234.7 458.6 L235.8 458.6 L236.8 458.5 L237.9 458.4 L238.9 458.3 L240.0 458.2 L241.0 458.1 L242.1 457.9 L243.1 457.8 L244.2 457.6 L245.2 457.4 L246.2 457.2 L247.3 457.0 L248.3 456.8 L249.4 456.6 L250.4 456.4 L251.5 456.1 L252.5 455.9 L253.6 455.6 L254.6 455.4 L255.6 455.1 L256.7 454.8 L257.7 454.5 L258.8 454.3 L259.8 454.0 L260.9 453.7 L261.9 453.3 L263.0 453.0 L264.0 452.7 L265.1 452.4 L266.1 452.0 L267.1 451.7 L268.2 451.4 L269.2 451.0 L270.3 450.7 L271.3 450.3 L272.4 449.9 L273.4 449.6 L274.5 449.2 L275.5 448.8 L276.6 448.5 L277.6 448.1 L278.6 447.7 L279.7 447.3 L280.7 447.0 L281.8 446.6 L282.8 446.2 L283.9 445.8 L284.9 445.4 L286.0 445.0 L287.0 444.6 L288.1 444.1 L289.1 443.7 L290.1 443.3 L291.2 442.9 L292.2 442.5 L293.3 442.0 L294.3 441.6 L295.4 441.2 L296.4 440.7 L297.5 440.3 L298.5 439.9 L299.5 439.4 L300.6 439.0 L301.6 438.6 L302.7 438.1 L303.7 437.7 L304.8 437.3 L305.8 436.9 L306.9 436.5 L307.9 436.0 L309.0 435.6 L310.0 435.2 L311.0 434.8 L312.1 434.5 L313.1 434.1 L314.2 433.7 L315.2 433.3 L316.3 432.9 L317.3 432.5 L318.4 432.2" stroke="#e644ee" stroke-width="2.2" stroke-dasharray="9.6 10"/>
<path d="M66.0 407.6 L66.1 407.7 L66.3 407.7 L66.4 407.7 L66.6 407.7 L66.7 407.7 L66.9 407.7 L67.0 407.7 L67.2 407.7 L67.3 407.7 L67.5 407.7 L67.6 407.8 L67.8 407.8 L67.9 407.8 L68.1 407.8 L68.2 407.8 L68.4 407.8 L68.5 407.8 L68.7 407.8 L68.8 407.8 L69.0 407.8 L69.1 407.8 L69.2 407.9 L69.4 407.9 L69.5 407.9 L69.7 407.9 L69.8 407.9 L70.0 407.9 L70.1 407.9 L70.3 407.9 L70.4 407.9 L70.6 407.9 L70.7 407.9 L70.9 408.0 L71.0 408.0 L71.2 408.0 L71.3 408.0 L71.5 408.0 L71.6 408.0 L71.8 408.0 L71.9 408.0 L72.0 408.0 L72.2 408.0 L72.3 408.0 L72.5 408.0 L72.6 408.1 L72.8 408.1 L72.9 408.1 L73.1 408.1 L73.2 408.1 L73.4 408.1 L73.5 408.1 L73.7 408.1 L73.8 408.1 L74.0 408.1 L74.1 408.1 L74.3 408.2 L74.4 408.2 L74.6 408.2 L74.7 408.2 L74.9 408.2 L75.0 408.2 L75.1 408.2 L75.3 408.2 L75.4 408.2 L75.6 408.2 L75.7 408.2 L75.9 408.3 L76.0 408.3 L76.2 408.3 L76.3 408.3 L76.5 408.3 L76.6 408.3 L76.8 408.3 L76.9 408.3 L77.1 408.3 L77.2 408.4 L77.4 408.4 L77.5 408.4 L77.7 408.4 L77.8 408.4 L78.0 408.4 L78.1 408.4 L78.2 408.4 L78.4 408.5 L78.5 408.5 L78.7 408.5 L78.8 408.5 L79.0 408.5 L79.1 408.5 L79.3 408.5 L79.4 408.5 L79.6 408.6 L79.7 408.6 L79.9 408.6 L80.0 408.6 L80.2 408.6 L80.3 408.6 L80.5 408.7 L80.6 408.7 L80.8 408.7 L80.9 408.7 L81.0 408.7 L81.2 408.7 L81.3 408.8 L81.5 408.8 L81.6 408.8 L81.8 408.8 L81.9 408.8 L82.1 408.8 L82.2 408.9 L82.4 408.9 L82.5 408.9 L82.7 408.9 L82.8 408.9 L83.0 409.0 L83.1 409.0 L83.3 409.0 L83.4 409.0 L83.6 409.0 L83.7 409.1 L83.9 409.1 L84.0 409.1 L84.1 409.1 L84.3 409.2 L84.4 409.2 L84.6 409.2 L84.7 409.2 L84.9 409.2 L85.0 409.3 L85.2 409.3 L85.3 409.3 L85.5 409.3 L85.6 409.4 L85.8 409.4 L85.9 409.4 L86.1 409.5 L86.2 409.5 L86.4 409.5 L86.5 409.5 L86.7 409.6 L86.8 409.6 L87.0 409.6 L87.1 409.6 L87.2 409.7 L87.4 409.7 L87.5 409.7 L87.7 409.8 L87.8 409.8 L88.0 409.8 L88.1 409.9 L88.3 409.9 L88.4 409.9 L88.6 410.0 L88.7 410.0 L88.9 410.0 L89.0 410.1 L89.2 410.1 L89.3 410.1 L89.5 410.2 L90.5 410.4 L91.6 410.7 L92.6 410.9 L93.6 411.2 L94.7 411.6 L95.7 411.9 L96.8 412.2 L97.8 412.6 L98.9 413.0 L99.9 413.3 L101.0 413.7 L102.0 414.1 L103.0 414.6 L104.1 415.0 L105.1 415.4 L106.2 415.9 L107.2 416.3 L108.3 416.8 L109.3 417.3 L110.4 417.7 L111.4 418.2 L112.5 418.7 L113.5 419.2 L114.5 419.8 L115.6 420.3 L116.6 420.9 L117.7 421.4 L118.7 422.0 L119.8 422.6 L120.8 423.3 L121.9 423.9 L122.9 424.6 L124.0 425.2 L125.0 425.9 L126.0 426.7 L127.1 427.4 L128.1 428.2 L129.2 429.0 L130.2 429.8 L131.3 430.6 L132.3 431.5 L133.4 432.3 L134.4 433.2 L135.4 434.1 L136.5 435.0 L137.5 436.0 L138.6 436.9 L139.6 437.9 L140.7 438.9 L141.7 439.9 L142.8 440.9 L143.8 441.9 L144.9 442.9 L145.9 443.9 L146.9 445.0 L148.0 446.1 L149.0 447.2 L150.1 448.3 L151.1 449.5 L152.2 450.7 L153.2 451.9 L154.3 453.2 L155.3 454.5 L156.4 455.8 L157.4 457.1 L158.4 458.5 L159.5 459.9 L160.5 461.3 L161.6 462.8 L162.6 464.2 L163.7 465.7 L164.7 467.1 L165.8 468.6 L166.8 470.0 L167.9 471.5 L168.9 472.9 L169.9 474.4 L171.0 475.9 L172.0 477.4 L173.1 479.0 L174.1 480.5 L175.2 482.1 L176.2 483.7 L177.3 485.4 L178.3 487.1 L179.3 488.8 L180.4 490.5 L181.4 492.3 L182.5 494.0 L183.5 495.8 L184.6 497.6 L185.6 499.4 L186.7 501.2 L187.7 502.9 L188.8 504.7 L189.8 506.5 L190.8 508.2 L191.9 509.9 L192.9 511.6 L194.0 513.3 L195.0 515.0 L196.1 516.7 L197.1 518.3 L198.2 519.9 L199.2 521.5 L200.3 523.1 L201.3 524.6 L202.3 526.2 L203.4 527.6 L204.4 529.0 L205.5 530.4 L206.5 531.7 L207.6 533.0 L208.6 534.2 L209.7 535.3 L210.7 536.4 L211.8 537.4 L212.8 538.3 L213.8 539.2 L214.9 540.0 L215.9 540.8 L217.0 541.5 L218.0 542.1 L219.1 542.7 L220.1 543.3 L221.2 543.8 L222.2 544.3 L223.2 544.8 L224.3 545.2 L225.3 545.6 L226.4 545.9 L227.4 546.3 L228.5 546.5 L229.5 546.7 L230.6 546.9 L231.6 547.0 L232.7 547.1 L233.7 547.1 L234.7 547.1 L235.8 547.0 L236.8 546.9 L237.9 546.7 L238.9 546.5 L240.0 546.2 L241.0 545.9 L242.1 545.5 L243.1 545.2 L244.2 544.7 L245.2 544.3 L246.2 543.8 L247.3 543.4 L248.3 542.8 L249.4 542.3 L250.4 541.8 L251.5 541.2 L252.5 540.6 L253.6 540.1 L254.6 539.4 L255.6 538.8 L256.7 538.2 L257.7 537.5 L258.8 536.8 L259.8 536.1 L260.9 535.4 L261.9 534.7 L263.0 533.9 L264.0 533.1 L265.1 532.4 L266.1 531.6 L267.1 530.8 L268.2 529.9 L269.2 529.1 L270.3 528.3 L271.3 527.4 L272.4 526.6 L273.4 525.7 L274.5 524.9 L275.5 524.0 L276.6 523.1 L277.6 522.2 L278.6 521.3 L279.7 520.4 L280.7 519.5 L281.8 518.6 L282.8 517.7 L283.9 516.7 L284.9 515.8 L286.0 514.8 L287.0 513.8 L288.1 512.8 L289.1 511.9 L290.1 510.9 L291.2 509.8 L292.2 508.8 L293.3 507.8 L294.3 506.8 L295.4 505.8 L296.4 504.8 L297.5 503.7 L298.5 502.7 L299.5 501.7 L300.6 500.7 L301.6 499.6 L302.7 498.6 L303.7 497.6 L304.8 496.6 L305.8 495.6 L306.9 494.6 L307.9 493.7 L309.0 492.7 L310.0 491.7 L311.0 490.8 L312.1 489.9 L313.1 489.0 L314.2 488.1 L315.2 487.2 L316.3 486.3 L317.3 485.4 L318.4 484.5" stroke="#e4b658" stroke-width="1.75" stroke-dasharray="5.1 3.7"/>
</g>
<rect x="68" y="505.1" width="87.8" height="45.3" fill="#fff" stroke="#c4c4c4" stroke-width="0.9"/>
<line x1="69.8" y1="514.7" x2="101.8" y2="514.7" stroke="#48e848" stroke-width="2.3"/>
<text x="0" y="0" transform="translate(108.5 519) scale(1.13 1)" font-family="'Liberation Sans', Arial, Helvetica, sans-serif" font-size="11.7" text-anchor="start" fill="#404040" stroke="#404040"><tspan font-family="'Liberation Serif', 'Times New Roman', serif" fill="#707070" stroke="#707070">τ =</tspan> 4 ps</text>
<line x1="69.8" y1="528.7" x2="79.72" y2="528.7" stroke="#e644ee" stroke-width="2.2"/>
<line x1="91.38" y1="528.7" x2="101.3" y2="528.7" stroke="#e644ee" stroke-width="2.2"/>
<text x="0" y="0" transform="translate(108.5 533) scale(1.13 1)" font-family="'Liberation Sans', Arial, Helvetica, sans-serif" font-size="11.7" text-anchor="start" fill="#404040" stroke="#404040"><tspan font-family="'Liberation Serif', 'Times New Roman', serif" fill="#707070" stroke="#707070">τ =</tspan> 6 ps</text>
<line x1="69.8" y1="542.8" x2="101.8" y2="542.8" stroke="#e4b658" stroke-width="1.75" stroke-dasharray="5.2 3.4"/>
<text x="0" y="0" transform="translate(108.5 547.1) scale(1.13 1)" font-family="'Liberation Sans', Arial, Helvetica, sans-serif" font-size="11.7" text-anchor="start" fill="#404040" stroke="#404040"><tspan font-family="'Liberation Serif', 'Times New Roman', serif" fill="#707070" stroke="#707070">τ =</tspan> 8 ps</text>
<line x1="103" y1="552.9" x2="103" y2="555.9" stroke="#8e8e8e" stroke-width="1.05"/>
<text x="0" y="0" transform="translate(103 567.7) scale(1.1 1)" font-family="'Liberation Sans', Arial, Helvetica, sans-serif" font-size="11.5" text-anchor="middle" fill="#404040" stroke="#404040">50</text>
<line x1="142.1" y1="552.9" x2="142.1" y2="555.9" stroke="#8e8e8e" stroke-width="1.05"/>
<text x="0" y="0" transform="translate(142.1 567.7) scale(1.1 1)" font-family="'Liberation Sans', Arial, Helvetica, sans-serif" font-size="11.5" text-anchor="middle" fill="#404040" stroke="#404040">100</text>
<line x1="181.2" y1="552.9" x2="181.2" y2="555.9" stroke="#8e8e8e" stroke-width="1.05"/>
<text x="0" y="0" transform="translate(181.2 567.7) scale(1.1 1)" font-family="'Liberation Sans', Arial, Helvetica, sans-serif" font-size="11.5" text-anchor="middle" fill="#404040" stroke="#404040">150</text>
<line x1="220.3" y1="552.9" x2="220.3" y2="555.9" stroke="#8e8e8e" stroke-width="1.05"/>
<text x="0" y="0" transform="translate(220.3 567.7) scale(1.1 1)" font-family="'Liberation Sans', Arial, Helvetica, sans-serif" font-size="11.5" text-anchor="middle" fill="#404040" stroke="#404040">200</text>
<line x1="259.4" y1="552.9" x2="259.4" y2="555.9" stroke="#8e8e8e" stroke-width="1.05"/>
<text x="0" y="0" transform="translate(259.4 567.7) scale(1.1 1)" font-family="'Liberation Sans', Arial, Helvetica, sans-serif" font-size="11.5" text-anchor="middle" fill="#404040" stroke="#404040">250</text>
<line x1="298.5" y1="552.9" x2="298.5" y2="555.9" stroke="#8e8e8e" stroke-width="1.05"/>
<text x="0" y="0" transform="translate(298.5 567.7) scale(1.1 1)" font-family="'Liberation Sans', Arial, Helvetica, sans-serif" font-size="11.5" text-anchor="middle" fill="#404040" stroke="#404040">300</text>
<line x1="83.45" y1="552.9" x2="83.45" y2="554.7" stroke="#8e8e8e" stroke-width="0.9"/>
<line x1="122.55" y1="552.9" x2="122.55" y2="554.7" stroke="#8e8e8e" stroke-width="0.9"/>
<line x1="161.65" y1="552.9" x2="161.65" y2="554.7" stroke="#8e8e8e" stroke-width="0.9"/>
<line x1="200.75" y1="552.9" x2="200.75" y2="554.7" stroke="#8e8e8e" stroke-width="0.9"/>
<line x1="239.85" y1="552.9" x2="239.85" y2="554.7" stroke="#8e8e8e" stroke-width="0.9"/>
<line x1="278.95" y1="552.9" x2="278.95" y2="554.7" stroke="#8e8e8e" stroke-width="0.9"/>
<line x1="318.05" y1="552.9" x2="318.05" y2="554.7" stroke="#8e8e8e" stroke-width="0.9"/>
<line x1="61.6" y1="394" x2="66" y2="394" stroke="#8e8e8e" stroke-width="1.05"/>
<text x="0" y="0" transform="translate(59.6 397.5) scale(1.18 1)" font-family="'Liberation Sans', Arial, Helvetica, sans-serif" font-size="11.5" text-anchor="end" fill="#404040" stroke="#404040">0.00</text>
<line x1="61.6" y1="424.5" x2="66" y2="424.5" stroke="#8e8e8e" stroke-width="1.05"/>
<text x="0" y="0" transform="translate(59.6 428) scale(1.18 1)" font-family="'Liberation Sans', Arial, Helvetica, sans-serif" font-size="11.5" text-anchor="end" fill="#404040" stroke="#404040">-0.05</text>
<line x1="61.6" y1="455" x2="66" y2="455" stroke="#8e8e8e" stroke-width="1.05"/>
<text x="0" y="0" transform="translate(59.6 458.5) scale(1.18 1)" font-family="'Liberation Sans', Arial, Helvetica, sans-serif" font-size="11.5" text-anchor="end" fill="#404040" stroke="#404040">-0.10</text>
<line x1="61.6" y1="485.5" x2="66" y2="485.5" stroke="#8e8e8e" stroke-width="1.05"/>
<text x="0" y="0" transform="translate(59.6 489) scale(1.18 1)" font-family="'Liberation Sans', Arial, Helvetica, sans-serif" font-size="11.5" text-anchor="end" fill="#404040" stroke="#404040">-0.15</text>
<line x1="61.6" y1="516" x2="66" y2="516" stroke="#8e8e8e" stroke-width="1.05"/>
<text x="0" y="0" transform="translate(59.6 519.5) scale(1.18 1)" font-family="'Liberation Sans', Arial, Helvetica, sans-serif" font-size="11.5" text-anchor="end" fill="#404040" stroke="#404040">-0.20</text>
<line x1="61.6" y1="546.5" x2="66" y2="546.5" stroke="#8e8e8e" stroke-width="1.05"/>
<text x="0" y="0" transform="translate(59.6 550) scale(1.18 1)" font-family="'Liberation Sans', Arial, Helvetica, sans-serif" font-size="11.5" text-anchor="end" fill="#404040" stroke="#404040">-0.25</text>
<line x1="63.6" y1="409.25" x2="66" y2="409.25" stroke="#8e8e8e" stroke-width="0.9"/>
<line x1="63.6" y1="439.75" x2="66" y2="439.75" stroke="#8e8e8e" stroke-width="0.9"/>
<line x1="63.6" y1="470.25" x2="66" y2="470.25" stroke="#8e8e8e" stroke-width="0.9"/>
<line x1="63.6" y1="500.75" x2="66" y2="500.75" stroke="#8e8e8e" stroke-width="0.9"/>
<line x1="63.6" y1="531.25" x2="66" y2="531.25" stroke="#8e8e8e" stroke-width="0.9"/>
<text x="0" y="0" transform="translate(307.8 548.4) scale(1.1 1)" font-family="'Liberation Sans', Arial, Helvetica, sans-serif" font-size="11.5" text-anchor="middle" fill="#5c5c5c" stroke="#5c5c5c" font-weight="bold">(c)</text>
<g transform="translate(21.5 526.8) rotate(-90)">
<text x="0" y="0" font-family="'DejaVu Serif', 'Liberation Serif', serif" font-size="15.5" fill="#6e6e6e" stroke="#6e6e6e">χ</text>
<text transform="translate(11.5 -10.5) scale(1.08 1)" font-family="'Liberation Serif', 'Times New Roman', serif" font-size="9" fill="#6e6e6e" stroke="#6e6e6e">(3)</text>
<text transform="translate(12.5 5.8)" font-family="'Liberation Serif', 'Times New Roman', serif" font-size="9" fill="#909090" stroke="#909090">ωω<tspan font-size="6.5" dy="1.5">1</tspan></text>
<text x="19.3" y="-6" font-family="'Liberation Sans', Arial, Helvetica, sans-serif" font-size="6.5" font-style="italic" fill="#555" stroke="#555">(</text>
<text x="23.8" y="-6" font-family="'Liberation Serif', 'Times New Roman', serif" font-size="7" fill="#555" stroke="#555" font-weight="bold">ωω</text>
<text x="34.8" y="-5.6" font-family="'Liberation Sans', Arial, Helvetica, sans-serif" font-size="9" font-style="italic" fill="#444" stroke="#444">)(</text>
<text transform="translate(28.1 5.5) scale(0.64 1)" font-family="'Liberation Sans', Arial, Helvetica, sans-serif" font-size="20" fill="#383838" stroke="#383838">ω</text>
<text transform="translate(45.3 0) scale(0.95 1)" x="0" y="0" font-family="'Liberation Sans', Arial, Helvetica, sans-serif" font-size="15.3" fill="#404040" stroke="#404040">*10<tspan font-size="9" dy="-7.2">-12</tspan><tspan dy="7.2"> m</tspan><tspan font-size="9" dy="-7.2">2</tspan><tspan dy="7.2">/V</tspan><tspan font-size="9" dy="-7.2">2</tspan><tspan dy="7.2">)</tspan></text>
</g>
</g>
<g>
<rect x="72.9" y="566.9" width="252.8" height="166.9" fill="#fff"/>
<clipPath id="c4"><rect x="72.2" y="566.2" width="254.2" height="168.3"/></clipPath>
<rect x="72.9" y="566.9" width="252.8" height="166.9" fill="none" stroke="#8e8e8e" stroke-width="1.35"/>
<g clip-path="url(#c4)" fill="none" stroke-linejoin="round">
<path d="M72.9 720.3 L73.0 720.4 L73.2 720.4 L73.3 720.4 L73.5 720.4 L73.6 720.4 L73.8 720.4 L73.9 720.4 L74.1 720.4 L74.2 720.4 L74.4 720.5 L74.5 720.5 L74.7 720.5 L74.8 720.5 L75.0 720.5 L75.1 720.5 L75.3 720.5 L75.4 720.6 L75.6 720.6 L75.7 720.6 L75.9 720.6 L76.0 720.6 L76.2 720.6 L76.3 720.7 L76.5 720.7 L76.6 720.7 L76.7 720.7 L76.9 720.7 L77.0 720.7 L77.2 720.8 L77.3 720.8 L77.5 720.8 L77.6 720.8 L77.8 720.9 L77.9 720.9 L78.1 720.9 L78.2 720.9 L78.4 720.9 L78.5 721.0 L78.7 721.0 L78.8 721.0 L79.0 721.0 L79.1 721.1 L79.3 721.1 L79.4 721.1 L79.6 721.1 L79.7 721.2 L79.9 721.2 L80.0 721.2 L80.1 721.2 L80.3 721.3 L80.4 721.3 L80.6 721.3 L80.7 721.3 L80.9 721.4 L81.0 721.4 L81.2 721.4 L81.3 721.5 L81.5 721.5 L81.6 721.5 L81.8 721.5 L81.9 721.6 L82.1 721.6 L82.2 721.6 L82.4 721.7 L82.5 721.7 L82.7 721.7 L82.8 721.8 L83.0 721.8 L83.1 721.8 L83.3 721.9 L83.4 721.9 L83.6 721.9 L83.7 722.0 L83.8 722.0 L84.0 722.0 L84.1 722.1 L84.3 722.1 L84.4 722.1 L84.6 722.2 L84.7 722.2 L84.9 722.2 L85.0 722.3 L85.2 722.3 L85.3 722.3 L85.5 722.4 L85.6 722.4 L85.8 722.5 L85.9 722.5 L86.1 722.5 L86.2 722.6 L86.4 722.6 L86.5 722.6 L86.7 722.7 L86.8 722.7 L87.0 722.8 L87.1 722.8 L87.2 722.8 L87.4 722.9 L87.5 722.9 L87.7 723.0 L87.8 723.0 L88.0 723.0 L88.1 723.1 L88.3 723.1 L88.4 723.2 L88.6 723.2 L88.7 723.2 L88.9 723.3 L89.0 723.3 L89.2 723.4 L89.3 723.4 L89.5 723.4 L89.6 723.5 L89.8 723.5 L89.9 723.6 L90.1 723.6 L90.2 723.7 L90.4 723.7 L90.5 723.7 L90.7 723.8 L90.8 723.8 L90.9 723.9 L91.1 723.9 L91.2 724.0 L91.4 724.0 L91.5 724.0 L91.7 724.1 L91.8 724.1 L92.0 724.2 L92.1 724.2 L92.3 724.3 L92.4 724.3 L92.6 724.4 L92.7 724.4 L92.9 724.4 L93.0 724.5 L93.2 724.5 L93.3 724.6 L93.5 724.6 L93.6 724.7 L93.8 724.7 L93.9 724.8 L94.1 724.8 L94.2 724.8 L94.3 724.9 L94.5 724.9 L94.6 725.0 L94.8 725.0 L94.9 725.1 L95.1 725.1 L95.2 725.2 L95.4 725.2 L95.5 725.3 L95.7 725.3 L95.8 725.4 L96.0 725.4 L96.1 725.5 L96.3 725.5 L96.4 725.5 L97.5 725.9 L98.5 726.2 L99.6 726.6 L100.6 726.9 L101.7 727.2 L102.7 727.6 L103.7 727.9 L104.8 728.3 L105.8 728.6 L106.9 728.9 L107.9 729.2 L109.0 729.6 L110.0 729.9 L111.1 730.2 L112.1 730.5 L113.2 730.8 L114.2 731.0 L115.3 731.3 L116.3 731.6 L117.4 731.8 L118.4 732.1 L119.5 732.3 L120.5 732.5 L121.5 732.7 L122.6 732.9 L123.6 733.0 L124.7 733.2 L125.7 733.3 L126.8 733.4 L127.8 733.5 L128.9 733.6 L129.9 733.6 L131.0 733.7 L132.0 733.7 L133.1 733.7 L134.1 733.6 L135.2 733.6 L136.2 733.5 L137.3 733.4 L138.3 733.2 L139.3 733.1 L140.4 732.9 L141.4 732.7 L142.5 732.4 L143.5 732.1 L144.6 731.8 L145.6 731.5 L146.7 731.1 L147.7 730.8 L148.8 730.3 L149.8 729.9 L150.9 729.4 L151.9 728.9 L153.0 728.3 L154.0 727.8 L155.1 727.2 L156.1 726.5 L157.1 725.9 L158.2 725.2 L159.2 724.5 L160.3 723.7 L161.3 722.9 L162.4 722.1 L163.4 721.3 L164.5 720.4 L165.5 719.5 L166.6 718.6 L167.6 717.6 L168.7 716.6 L169.7 715.6 L170.8 714.6 L171.8 713.5 L172.9 712.4 L173.9 711.3 L174.9 710.2 L176.0 709.0 L177.0 707.8 L178.1 706.6 L179.1 705.4 L180.2 704.1 L181.2 702.9 L182.3 701.6 L183.3 700.3 L184.4 699.0 L185.4 697.6 L186.5 696.3 L187.5 694.9 L188.6 693.5 L189.6 692.2 L190.7 690.8 L191.7 689.4 L192.7 687.9 L193.8 686.5 L194.8 685.1 L195.9 683.7 L196.9 682.2 L198.0 680.8 L199.0 679.4 L200.1 677.9 L201.1 676.5 L202.2 675.1 L203.2 673.6 L204.3 672.2 L205.3 670.8 L206.4 669.4 L207.4 667.9 L208.4 666.5 L209.5 665.1 L210.5 663.7 L211.6 662.4 L212.6 661.0 L213.7 659.6 L214.7 658.3 L215.8 656.9 L216.8 655.6 L217.9 654.3 L218.9 653.0 L220.0 651.7 L221.0 650.4 L222.1 649.1 L223.1 647.9 L224.2 646.6 L225.2 645.4 L226.2 644.2 L227.3 643.0 L228.3 641.8 L229.4 640.7 L230.4 639.5 L231.5 638.4 L232.5 637.3 L233.6 636.2 L234.6 635.1 L235.7 634.0 L236.7 633.0 L237.8 632.0 L238.8 630.9 L239.9 629.9 L240.9 629.0 L242.0 628.0 L243.0 627.0 L244.0 626.1 L245.1 625.2 L246.1 624.3 L247.2 623.4 L248.2 622.5 L249.3 621.6 L250.3 620.8 L251.4 620.0 L252.4 619.1 L253.5 618.3 L254.5 617.6 L255.6 616.8 L256.6 616.0 L257.7 615.3 L258.7 614.6 L259.8 613.8 L260.8 613.1 L261.8 612.5 L262.9 611.8 L263.9 611.1 L265.0 610.5 L266.0 609.9 L267.1 609.2 L268.1 608.6 L269.2 608.0 L270.2 607.5 L271.3 606.9 L272.3 606.3 L273.4 605.8 L274.4 605.3 L275.5 604.8 L276.5 604.3 L277.6 603.8 L278.6 603.3 L279.6 602.8 L280.7 602.4 L281.7 601.9 L282.8 601.5 L283.8 601.0 L284.9 600.6 L285.9 600.2 L287.0 599.8 L288.0 599.4 L289.1 599.1 L290.1 598.7 L291.2 598.3 L292.2 598.0 L293.3 597.7 L294.3 597.3 L295.4 597.0 L296.4 596.7 L297.4 596.4 L298.5 596.1 L299.5 595.8 L300.6 595.5 L301.6 595.2 L302.7 595.0 L303.7 594.7 L304.8 594.5 L305.8 594.2 L306.9 594.0 L307.9 593.7 L309.0 593.5 L310.0 593.3 L311.1 593.0 L312.1 592.8 L313.1 592.6 L314.2 592.4 L315.2 592.2 L316.3 592.0 L317.3 591.8 L318.4 591.6 L319.4 591.4 L320.5 591.2 L321.5 591.0 L322.6 590.8 L323.6 590.6 L324.7 590.4 L325.7 590.2" stroke="#48e848" stroke-width="2.3"/>
<path d="M72.9 592.7 L73.0 592.7 L73.2 592.7 L73.3 592.7 L73.5 592.7 L73.6 592.7 L73.8 592.7 L73.9 592.7 L74.1 592.7 L74.2 592.7 L74.4 592.7 L74.5 592.7 L74.7 592.7 L74.8 592.7 L75.0 592.7 L75.1 592.7 L75.3 592.7 L75.4 592.7 L75.6 592.7 L75.7 592.7 L75.9 592.7 L76.0 592.7 L76.2 592.7 L76.3 592.7 L76.5 592.7 L76.6 592.7 L76.7 592.7 L76.9 592.7 L77.0 592.8 L77.2 592.8 L77.3 592.8 L77.5 592.8 L77.6 592.8 L77.8 592.8 L77.9 592.8 L78.1 592.8 L78.2 592.8 L78.4 592.8 L78.5 592.8 L78.7 592.8 L78.8 592.8 L79.0 592.8 L79.1 592.8 L79.3 592.8 L79.4 592.8 L79.6 592.8 L79.7 592.8 L79.9 592.9 L80.0 592.9 L80.1 592.9 L80.3 592.9 L80.4 592.9 L80.6 592.9 L80.7 592.9 L80.9 592.9 L81.0 592.9 L81.2 593.0 L81.3 593.0 L81.5 593.0 L81.6 593.0 L81.8 593.0 L81.9 593.0 L82.1 593.0 L82.2 593.1 L82.4 593.1 L82.5 593.1 L82.7 593.1 L82.8 593.1 L83.0 593.1 L83.1 593.2 L83.3 593.2 L83.4 593.2 L83.6 593.2 L83.7 593.2 L83.8 593.3 L84.0 593.3 L84.1 593.3 L84.3 593.3 L84.4 593.4 L84.6 593.4 L84.7 593.4 L84.9 593.4 L85.0 593.5 L85.2 593.5 L85.3 593.5 L85.5 593.6 L85.6 593.6 L85.8 593.6 L85.9 593.6 L86.1 593.7 L86.2 593.7 L86.4 593.7 L86.5 593.8 L86.7 593.8 L86.8 593.8 L87.0 593.9 L87.1 593.9 L87.2 593.9 L87.4 594.0 L87.5 594.0 L87.7 594.1 L87.8 594.1 L88.0 594.1 L88.1 594.2 L88.3 594.2 L88.4 594.2 L88.6 594.3 L88.7 594.3 L88.9 594.4 L89.0 594.4 L89.2 594.4 L89.3 594.5 L89.5 594.5 L89.6 594.6 L89.8 594.6 L89.9 594.6 L90.1 594.7 L90.2 594.7 L90.4 594.8 L90.5 594.8 L90.7 594.9 L90.8 594.9 L90.9 594.9 L91.1 595.0 L91.2 595.0 L91.4 595.1 L91.5 595.1 L91.7 595.2 L91.8 595.2 L92.0 595.3 L92.1 595.3 L92.3 595.4 L92.4 595.4 L92.6 595.4 L92.7 595.5 L92.9 595.5 L93.0 595.6 L93.2 595.6 L93.3 595.7 L93.5 595.7 L93.6 595.8 L93.8 595.8 L93.9 595.9 L94.1 595.9 L94.2 596.0 L94.3 596.0 L94.5 596.1 L94.6 596.1 L94.8 596.2 L94.9 596.2 L95.1 596.3 L95.2 596.3 L95.4 596.3 L95.5 596.4 L95.7 596.4 L95.8 596.5 L96.0 596.5 L96.1 596.6 L96.3 596.6 L96.4 596.7 L97.5 597.0 L98.5 597.4 L99.6 597.7 L100.6 598.1 L101.7 598.4 L102.7 598.8 L103.7 599.2 L104.8 599.6 L105.8 599.9 L106.9 600.3 L107.9 600.7 L109.0 601.1 L110.0 601.5 L111.1 601.9 L112.1 602.3 L113.2 602.7 L114.2 603.2 L115.3 603.6 L116.3 604.0 L117.4 604.5 L118.4 604.9 L119.5 605.4 L120.5 605.8 L121.5 606.3 L122.6 606.8 L123.6 607.2 L124.7 607.7 L125.7 608.2 L126.8 608.7 L127.8 609.2 L128.9 609.7 L129.9 610.2 L131.0 610.7 L132.0 611.2 L133.1 611.8 L134.1 612.3 L135.2 612.8 L136.2 613.4 L137.3 613.9 L138.3 614.4 L139.3 614.9 L140.4 615.5 L141.4 616.0 L142.5 616.5 L143.5 617.0 L144.6 617.5 L145.6 618.0 L146.7 618.5 L147.7 619.1 L148.8 619.6 L149.8 620.1 L150.9 620.6 L151.9 621.1 L153.0 621.7 L154.0 622.2 L155.1 622.8 L156.1 623.3 L157.1 623.9 L158.2 624.4 L159.2 625.0 L160.3 625.5 L161.3 626.0 L162.4 626.5 L163.4 627.0 L164.5 627.5 L165.5 628.0 L166.6 628.4 L167.6 628.9 L168.7 629.3 L169.7 629.6 L170.8 630.0 L171.8 630.4 L172.9 630.7 L173.9 631.0 L174.9 631.4 L176.0 631.7 L177.0 631.9 L178.1 632.2 L179.1 632.5 L180.2 632.7 L181.2 633.0 L182.3 633.2 L183.3 633.4 L184.4 633.6 L185.4 633.8 L186.5 633.9 L187.5 634.0 L188.6 634.2 L189.6 634.3 L190.7 634.3 L191.7 634.4 L192.7 634.4 L193.8 634.4 L194.8 634.4 L195.9 634.4 L196.9 634.3 L198.0 634.3 L199.0 634.2 L200.1 634.1 L201.1 633.9 L202.2 633.8 L203.2 633.6 L204.3 633.4 L205.3 633.2 L206.4 633.0 L207.4 632.8 L208.4 632.5 L209.5 632.2 L210.5 631.9 L211.6 631.6 L212.6 631.3 L213.7 631.0 L214.7 630.6 L215.8 630.2 L216.8 629.8 L217.9 629.4 L218.9 629.0 L220.0 628.6 L221.0 628.2 L222.1 627.7 L223.1 627.3 L224.2 626.8 L225.2 626.3 L226.2 625.9 L227.3 625.4 L228.3 624.9 L229.4 624.5 L230.4 624.0 L231.5 623.5 L232.5 623.0 L233.6 622.5 L234.6 622.0 L235.7 621.5 L236.7 621.0 L237.8 620.5 L238.8 620.0 L239.9 619.5 L240.9 619.0 L242.0 618.5 L243.0 618.0 L244.0 617.5 L245.1 617.0 L246.1 616.5 L247.2 616.0 L248.2 615.5 L249.3 615.0 L250.3 614.5 L251.4 614.0 L252.4 613.5 L253.5 613.0 L254.5 612.6 L255.6 612.1 L256.6 611.6 L257.7 611.2 L258.7 610.7 L259.8 610.3 L260.8 609.8 L261.8 609.4 L262.9 609.0 L263.9 608.5 L265.0 608.1 L266.0 607.7 L267.1 607.3 L268.1 606.8 L269.2 606.4 L270.2 606.0 L271.3 605.6 L272.3 605.2 L273.4 604.8 L274.4 604.3 L275.5 603.9 L276.5 603.5 L277.6 603.1 L278.6 602.7 L279.6 602.3 L280.7 601.9 L281.7 601.5 L282.8 601.1 L283.8 600.7 L284.9 600.3 L285.9 599.9 L287.0 599.5 L288.0 599.2 L289.1 598.8 L290.1 598.4 L291.2 598.1 L292.2 597.7 L293.3 597.4 L294.3 597.1 L295.4 596.7 L296.4 596.4 L297.4 596.1 L298.5 595.7 L299.5 595.4 L300.6 595.1 L301.6 594.8 L302.7 594.5 L303.7 594.2 L304.8 593.9 L305.8 593.6 L306.9 593.3 L307.9 593.0 L309.0 592.7 L310.0 592.4 L311.1 592.1 L312.1 591.8 L313.1 591.6 L314.2 591.3 L315.2 591.1 L316.3 590.8 L317.3 590.6 L318.4 590.4 L319.4 590.1 L320.5 589.9 L321.5 589.7 L322.6 589.5 L323.6 589.4 L324.7 589.2 L325.7 589.0" stroke="#e644ee" stroke-width="2.2" stroke-dasharray="9.6 10"/>
<path d="M72.9 569.9 L73.0 569.9 L73.2 569.9 L73.3 569.9 L73.5 569.9 L73.6 569.9 L73.8 569.9 L73.9 569.9 L74.1 569.9 L74.2 569.9 L74.4 569.9 L74.5 569.9 L74.7 569.9 L74.8 569.9 L75.0 569.9 L75.1 569.9 L75.3 569.9 L75.4 569.9 L75.6 569.9 L75.7 569.9 L75.9 569.9 L76.0 569.9 L76.2 569.9 L76.3 569.9 L76.5 569.9 L76.6 569.9 L76.7 569.9 L76.9 570.0 L77.0 570.0 L77.2 570.0 L77.3 570.0 L77.5 570.0 L77.6 570.0 L77.8 570.0 L77.9 570.0 L78.1 570.0 L78.2 570.0 L78.4 570.0 L78.5 570.0 L78.7 570.0 L78.8 570.0 L79.0 570.0 L79.1 570.0 L79.3 570.0 L79.4 570.0 L79.6 570.0 L79.7 570.0 L79.9 570.0 L80.0 570.0 L80.1 570.0 L80.3 570.0 L80.4 570.0 L80.6 570.0 L80.7 570.0 L80.9 570.0 L81.0 570.0 L81.2 570.1 L81.3 570.1 L81.5 570.1 L81.6 570.1 L81.8 570.1 L81.9 570.1 L82.1 570.1 L82.2 570.1 L82.4 570.1 L82.5 570.1 L82.7 570.1 L82.8 570.1 L83.0 570.1 L83.1 570.1 L83.3 570.1 L83.4 570.1 L83.6 570.1 L83.7 570.1 L83.8 570.1 L84.0 570.1 L84.1 570.1 L84.3 570.2 L84.4 570.2 L84.6 570.2 L84.7 570.2 L84.9 570.2 L85.0 570.2 L85.2 570.2 L85.3 570.2 L85.5 570.2 L85.6 570.2 L85.8 570.2 L85.9 570.2 L86.1 570.2 L86.2 570.2 L86.4 570.2 L86.5 570.2 L86.7 570.2 L86.8 570.2 L87.0 570.2 L87.1 570.3 L87.2 570.3 L87.4 570.3 L87.5 570.3 L87.7 570.3 L87.8 570.3 L88.0 570.3 L88.1 570.3 L88.3 570.3 L88.4 570.3 L88.6 570.3 L88.7 570.3 L88.9 570.3 L89.0 570.3 L89.2 570.3 L89.3 570.3 L89.5 570.3 L89.6 570.4 L89.8 570.4 L89.9 570.4 L90.1 570.4 L90.2 570.4 L90.4 570.4 L90.5 570.4 L90.7 570.4 L90.8 570.4 L90.9 570.4 L91.1 570.4 L91.2 570.4 L91.4 570.4 L91.5 570.4 L91.7 570.4 L91.8 570.4 L92.0 570.5 L92.1 570.5 L92.3 570.5 L92.4 570.5 L92.6 570.5 L92.7 570.5 L92.9 570.5 L93.0 570.5 L93.2 570.5 L93.3 570.5 L93.5 570.5 L93.6 570.5 L93.8 570.5 L93.9 570.5 L94.1 570.5 L94.2 570.5 L94.3 570.6 L94.5 570.6 L94.6 570.6 L94.8 570.6 L94.9 570.6 L95.1 570.6 L95.2 570.6 L95.4 570.6 L95.5 570.6 L95.7 570.6 L95.8 570.6 L96.0 570.6 L96.1 570.6 L96.3 570.6 L96.4 570.6 L97.5 570.7 L98.5 570.7 L99.6 570.8 L100.6 570.8 L101.7 570.9 L102.7 570.9 L103.7 571.0 L104.8 571.0 L105.8 571.1 L106.9 571.2 L107.9 571.2 L109.0 571.3 L110.0 571.4 L111.1 571.5 L112.1 571.6 L113.2 571.7 L114.2 571.8 L115.3 571.9 L116.3 572.0 L117.4 572.1 L118.4 572.2 L119.5 572.4 L120.5 572.5 L121.5 572.7 L122.6 572.9 L123.6 573.0 L124.7 573.2 L125.7 573.4 L126.8 573.6 L127.8 573.7 L128.9 573.9 L129.9 574.1 L131.0 574.3 L132.0 574.5 L133.1 574.7 L134.1 574.9 L135.2 575.1 L136.2 575.3 L137.3 575.5 L138.3 575.7 L139.3 575.9 L140.4 576.2 L141.4 576.4 L142.5 576.6 L143.5 576.8 L144.6 577.1 L145.6 577.3 L146.7 577.5 L147.7 577.8 L148.8 578.0 L149.8 578.3 L150.9 578.6 L151.9 578.8 L153.0 579.1 L154.0 579.4 L155.1 579.7 L156.1 580.0 L157.1 580.3 L158.2 580.6 L159.2 581.0 L160.3 581.3 L161.3 581.6 L162.4 581.9 L163.4 582.3 L164.5 582.6 L165.5 582.9 L166.6 583.2 L167.6 583.6 L168.7 583.9 L169.7 584.2 L170.8 584.5 L171.8 584.8 L172.9 585.1 L173.9 585.5 L174.9 585.8 L176.0 586.1 L177.0 586.4 L178.1 586.6 L179.1 586.9 L180.2 587.2 L181.2 587.5 L182.3 587.8 L183.3 588.1 L184.4 588.4 L185.4 588.7 L186.5 589.1 L187.5 589.4 L188.6 589.8 L189.6 590.1 L190.7 590.5 L191.7 591.0 L192.7 591.4 L193.8 591.8 L194.8 592.3 L195.9 592.7 L196.9 593.1 L198.0 593.6 L199.0 594.0 L200.1 594.4 L201.1 594.8 L202.2 595.2 L203.2 595.6 L204.3 595.9 L205.3 596.2 L206.4 596.6 L207.4 596.9 L208.4 597.2 L209.5 597.5 L210.5 597.8 L211.6 598.0 L212.6 598.3 L213.7 598.6 L214.7 598.9 L215.8 599.2 L216.8 599.4 L217.9 599.7 L218.9 600.0 L220.0 600.2 L221.0 600.5 L222.1 600.7 L223.1 600.9 L224.2 601.2 L225.2 601.4 L226.2 601.6 L227.3 601.7 L228.3 601.9 L229.4 602.0 L230.4 602.2 L231.5 602.3 L232.5 602.4 L233.6 602.5 L234.6 602.6 L235.7 602.7 L236.7 602.7 L237.8 602.8 L238.8 602.8 L239.9 602.8 L240.9 602.8 L242.0 602.8 L243.0 602.8 L244.0 602.7 L245.1 602.7 L246.1 602.6 L247.2 602.6 L248.2 602.5 L249.3 602.4 L250.3 602.3 L251.4 602.2 L252.4 602.1 L253.5 602.0 L254.5 601.9 L255.6 601.7 L256.6 601.6 L257.7 601.4 L258.7 601.3 L259.8 601.1 L260.8 601.0 L261.8 600.8 L262.9 600.7 L263.9 600.5 L265.0 600.3 L266.0 600.1 L267.1 600.0 L268.1 599.8 L269.2 599.6 L270.2 599.4 L271.3 599.2 L272.3 599.0 L273.4 598.8 L274.4 598.6 L275.5 598.4 L276.5 598.2 L277.6 598.0 L278.6 597.8 L279.6 597.6 L280.7 597.4 L281.7 597.2 L282.8 597.0 L283.8 596.8 L284.9 596.6 L285.9 596.4 L287.0 596.1 L288.0 595.9 L289.1 595.7 L290.1 595.5 L291.2 595.3 L292.2 595.1 L293.3 594.9 L294.3 594.7 L295.4 594.5 L296.4 594.3 L297.4 594.1 L298.5 593.8 L299.5 593.6 L300.6 593.4 L301.6 593.2 L302.7 593.0 L303.7 592.8 L304.8 592.5 L305.8 592.3 L306.9 592.1 L307.9 591.9 L309.0 591.7 L310.0 591.5 L311.1 591.3 L312.1 591.1 L313.1 590.9 L314.2 590.7 L315.2 590.5 L316.3 590.3 L317.3 590.1 L318.4 589.9 L319.4 589.7 L320.5 589.5 L321.5 589.3 L322.6 589.1 L323.6 588.9 L324.7 588.7 L325.7 588.5" stroke="#e4b658" stroke-width="1.75" stroke-dasharray="5.1 3.7"/>
</g>
<rect x="72.9" y="642.6" width="108.9" height="46.2" fill="#fff" stroke="#c4c4c4" stroke-width="0.9"/>
<line x1="75.1" y1="652" x2="105.4" y2="652" stroke="#48e848" stroke-width="2.3"/>
<text x="0" y="0" transform="translate(112.3 656.3) scale(1.13 1)" font-family="'Liberation Sans', Arial, Helvetica, sans-serif" font-size="11.7" text-anchor="start" fill="#404040" stroke="#404040"><tspan font-family="'Liberation Serif', 'Times New Roman', serif" fill="#707070" stroke="#707070">μ =</tspan> 40 meV</text>
<line x1="75.1" y1="666.7" x2="84.49" y2="666.7" stroke="#e644ee" stroke-width="2.2"/>
<line x1="95.51" y1="666.7" x2="104.9" y2="666.7" stroke="#e644ee" stroke-width="2.2"/>
<text x="0" y="0" transform="translate(112.3 671) scale(1.13 1)" font-family="'Liberation Sans', Arial, Helvetica, sans-serif" font-size="11.7" text-anchor="start" fill="#404040" stroke="#404040"><tspan font-family="'Liberation Serif', 'Times New Roman', serif" fill="#707070" stroke="#707070">μ =</tspan> 60 meV</text>
<line x1="75.1" y1="681.2" x2="105.4" y2="681.2" stroke="#e4b658" stroke-width="1.75" stroke-dasharray="5.2 3.4"/>
<text x="0" y="0" transform="translate(112.3 685.5) scale(1.13 1)" font-family="'Liberation Sans', Arial, Helvetica, sans-serif" font-size="11.7" text-anchor="start" fill="#404040" stroke="#404040"><tspan font-family="'Liberation Serif', 'Times New Roman', serif" fill="#707070" stroke="#707070">μ =</tspan> 80 meV</text>
<line x1="109.8" y1="733.8" x2="109.8" y2="736.8" stroke="#8e8e8e" stroke-width="1.05"/>
<text x="0" y="0" transform="translate(109.8 748.6) scale(1.1 1)" font-family="'Liberation Sans', Arial, Helvetica, sans-serif" font-size="11.5" text-anchor="middle" fill="#404040" stroke="#404040">50</text>
<line x1="149" y1="733.8" x2="149" y2="736.8" stroke="#8e8e8e" stroke-width="1.05"/>
<text x="0" y="0" transform="translate(149 748.6) scale(1.1 1)" font-family="'Liberation Sans', Arial, Helvetica, sans-serif" font-size="11.5" text-anchor="middle" fill="#404040" stroke="#404040">100</text>
<line x1="188.2" y1="733.8" x2="188.2" y2="736.8" stroke="#8e8e8e" stroke-width="1.05"/>
<text x="0" y="0" transform="translate(188.2 748.6) scale(1.1 1)" font-family="'Liberation Sans', Arial, Helvetica, sans-serif" font-size="11.5" text-anchor="middle" fill="#404040" stroke="#404040">150</text>
<line x1="227.4" y1="733.8" x2="227.4" y2="736.8" stroke="#8e8e8e" stroke-width="1.05"/>
<text x="0" y="0" transform="translate(227.4 748.6) scale(1.1 1)" font-family="'Liberation Sans', Arial, Helvetica, sans-serif" font-size="11.5" text-anchor="middle" fill="#404040" stroke="#404040">200</text>
<line x1="266.6" y1="733.8" x2="266.6" y2="736.8" stroke="#8e8e8e" stroke-width="1.05"/>
<text x="0" y="0" transform="translate(266.6 748.6) scale(1.1 1)" font-family="'Liberation Sans', Arial, Helvetica, sans-serif" font-size="11.5" text-anchor="middle" fill="#404040" stroke="#404040">250</text>
<line x1="305.8" y1="733.8" x2="305.8" y2="736.8" stroke="#8e8e8e" stroke-width="1.05"/>
<text x="0" y="0" transform="translate(305.8 748.6) scale(1.1 1)" font-family="'Liberation Sans', Arial, Helvetica, sans-serif" font-size="11.5" text-anchor="middle" fill="#404040" stroke="#404040">300</text>
<line x1="90.2" y1="733.8" x2="90.2" y2="735.6" stroke="#8e8e8e" stroke-width="0.9"/>
<line x1="129.4" y1="733.8" x2="129.4" y2="735.6" stroke="#8e8e8e" stroke-width="0.9"/>
<line x1="168.6" y1="733.8" x2="168.6" y2="735.6" stroke="#8e8e8e" stroke-width="0.9"/>
<line x1="207.8" y1="733.8" x2="207.8" y2="735.6" stroke="#8e8e8e" stroke-width="0.9"/>
<line x1="247" y1="733.8" x2="247" y2="735.6" stroke="#8e8e8e" stroke-width="0.9"/>
<line x1="286.2" y1="733.8" x2="286.2" y2="735.6" stroke="#8e8e8e" stroke-width="0.9"/>
<line x1="325.4" y1="733.8" x2="325.4" y2="735.6" stroke="#8e8e8e" stroke-width="0.9"/>
<line x1="68.5" y1="566.9" x2="72.9" y2="566.9" stroke="#8e8e8e" stroke-width="1.05"/>
<text x="0" y="0" transform="translate(66.5 570.4) scale(1.18 1)" font-family="'Liberation Sans', Arial, Helvetica, sans-serif" font-size="11.5" text-anchor="end" fill="#404040" stroke="#404040">0.0</text>
<line x1="68.5" y1="600.3" x2="72.9" y2="600.3" stroke="#8e8e8e" stroke-width="1.05"/>
<text x="0" y="0" transform="translate(66.5 603.8) scale(1.18 1)" font-family="'Liberation Sans', Arial, Helvetica, sans-serif" font-size="11.5" text-anchor="end" fill="#404040" stroke="#404040">-0.1</text>
<line x1="68.5" y1="633.7" x2="72.9" y2="633.7" stroke="#8e8e8e" stroke-width="1.05"/>
<text x="0" y="0" transform="translate(66.5 637.2) scale(1.18 1)" font-family="'Liberation Sans', Arial, Helvetica, sans-serif" font-size="11.5" text-anchor="end" fill="#404040" stroke="#404040">-0.2</text>
<line x1="68.5" y1="667.1" x2="72.9" y2="667.1" stroke="#8e8e8e" stroke-width="1.05"/>
<text x="0" y="0" transform="translate(66.5 670.6) scale(1.18 1)" font-family="'Liberation Sans', Arial, Helvetica, sans-serif" font-size="11.5" text-anchor="end" fill="#404040" stroke="#404040">-0.3</text>
<line x1="68.5" y1="700.5" x2="72.9" y2="700.5" stroke="#8e8e8e" stroke-width="1.05"/>
<text x="0" y="0" transform="translate(66.5 704) scale(1.18 1)" font-family="'Liberation Sans', Arial, Helvetica, sans-serif" font-size="11.5" text-anchor="end" fill="#404040" stroke="#404040">-0.4</text>
<line x1="68.5" y1="733.9" x2="72.9" y2="733.9" stroke="#8e8e8e" stroke-width="1.05"/>
<text x="0" y="0" transform="translate(66.5 737.4) scale(1.18 1)" font-family="'Liberation Sans', Arial, Helvetica, sans-serif" font-size="11.5" text-anchor="end" fill="#404040" stroke="#404040">-0.5</text>
<line x1="70.5" y1="583.6" x2="72.9" y2="583.6" stroke="#8e8e8e" stroke-width="0.9"/>
<line x1="70.5" y1="617" x2="72.9" y2="617" stroke="#8e8e8e" stroke-width="0.9"/>
<line x1="70.5" y1="650.4" x2="72.9" y2="650.4" stroke="#8e8e8e" stroke-width="0.9"/>
<line x1="70.5" y1="683.8" x2="72.9" y2="683.8" stroke="#8e8e8e" stroke-width="0.9"/>
<line x1="70.5" y1="717.2" x2="72.9" y2="717.2" stroke="#8e8e8e" stroke-width="0.9"/>
<text x="0" y="0" transform="translate(312.3 728.8) scale(1.1 1)" font-family="'Liberation Sans', Arial, Helvetica, sans-serif" font-size="11.5" text-anchor="middle" fill="#5c5c5c" stroke="#5c5c5c" font-weight="bold">(d)</text>
<g transform="translate(33.5 708.2) rotate(-90)">
<text x="0" y="0" font-family="'DejaVu Serif', 'Liberation Serif', serif" font-size="15.5" fill="#6e6e6e" stroke="#6e6e6e">χ</text>
<text transform="translate(11.5 -9.3) scale(1.08 1)" font-family="'Liberation Serif', 'Times New Roman', serif" font-size="9" fill="#6e6e6e" stroke="#6e6e6e">(3)</text>
<text transform="translate(12.5 5.8)" font-family="'Liberation Serif', 'Times New Roman', serif" font-size="9" fill="#909090" stroke="#909090">ωω<tspan font-size="6.5" dy="1.5">1</tspan></text>
<text x="23.7" y="-6" font-family="'Liberation Sans', Arial, Helvetica, sans-serif" font-size="6.5" font-style="italic" fill="#555" stroke="#555">(</text>
<text x="28.2" y="-6" font-family="'Liberation Serif', 'Times New Roman', serif" font-size="7" fill="#555" stroke="#555" font-weight="bold">ωω</text>
<text x="39.2" y="-5.6" font-family="'Liberation Sans', Arial, Helvetica, sans-serif" font-size="9" font-style="italic" fill="#444" stroke="#444">)(</text>
<text transform="translate(32.5 6.5) scale(0.64 1)" font-family="'Liberation Sans', Arial, Helvetica, sans-serif" font-size="20" fill="#383838" stroke="#383838">ω</text>
<text transform="translate(49.7 0) scale(0.95 1)" x="0" y="0" font-family="'Liberation Sans', Arial, Helvetica, sans-serif" font-size="15.3" fill="#404040" stroke="#404040">*10<tspan font-size="9" dy="-7.2">-12</tspan><tspan dy="7.2"> m</tspan><tspan font-size="9" dy="-7.2">2</tspan><tspan dy="7.2">/V</tspan><tspan font-size="9" dy="-7.2">2</tspan><tspan dy="7.2">)</tspan></text>
</g>
<text transform="translate(189.5 763.6) scale(1.22 1)" x="0" y="0" text-anchor="middle" font-family="'Liberation Sans', Arial, Helvetica, sans-serif" font-size="14.5" fill="#404040" stroke="#404040">h<tspan font-family="'Liberation Serif', 'Times New Roman', serif" fill="#666" stroke="#666">ω</tspan>(eV)</text>
</g>
<g>
<rect x="379" y="26.4" width="246.3" height="167.3" fill="#fff"/>
<clipPath id="c5"><rect x="378.3" y="25.7" width="247.7" height="168.7"/></clipPath>
<rect x="379" y="26.4" width="246.3" height="167.3" fill="none" stroke="#8e8e8e" stroke-width="1.35"/>
<g clip-path="url(#c5)" fill="none" stroke-linejoin="round">
<path d="M381.5 34.0 L381.6 42.6 L381.8 50.3 L381.9 57.2 L382.1 63.5 L382.2 69.2 L382.4 74.4 L382.5 79.2 L382.6 83.7 L382.8 87.8 L382.9 91.6 L383.1 95.1 L383.2 98.4 L383.4 101.5 L383.5 104.4 L383.6 107.1 L383.8 109.6 L383.9 112.0 L384.1 114.2 L384.2 116.4 L384.4 118.4 L384.5 120.3 L384.6 122.1 L384.8 123.9 L384.9 125.5 L385.1 127.1 L385.2 128.6 L385.4 130.0 L385.5 131.4 L385.6 132.7 L385.8 133.9 L385.9 135.1 L386.1 136.3 L386.2 137.4 L386.4 138.4 L386.5 139.5 L386.6 140.4 L386.8 141.4 L386.9 142.3 L387.1 143.2 L387.2 144.0 L387.4 144.9 L387.5 145.6 L387.6 146.4 L387.8 147.2 L387.9 147.9 L388.1 148.6 L388.2 149.2 L388.4 149.9 L388.5 150.5 L388.6 151.1 L388.8 151.7 L388.9 152.3 L389.1 152.9 L389.2 153.4 L389.4 153.9 L389.5 154.5 L389.7 155.0 L389.8 155.5 L389.9 155.9 L390.1 156.4 L390.2 156.8 L390.4 157.3 L390.5 157.7 L390.7 158.1 L390.8 158.5 L390.9 158.9 L391.1 159.3 L391.2 159.7 L391.4 160.1 L391.5 160.4 L391.7 160.8 L391.8 161.1 L391.9 161.5 L392.1 161.8 L392.2 162.1 L392.4 162.4 L392.5 162.7 L392.7 163.0 L392.8 163.3 L392.9 163.6 L393.1 163.9 L393.2 164.2 L393.4 164.5 L393.5 164.7 L393.7 165.0 L393.8 165.2 L393.9 165.5 L394.1 165.7 L394.2 166.0 L394.4 166.2 L394.5 166.4 L394.7 166.7 L394.8 166.9 L394.9 167.1 L395.1 167.3 L395.2 167.5 L395.4 167.7 L395.5 167.9 L395.7 168.1 L395.8 168.3 L395.9 168.5 L396.1 168.7 L396.2 168.9 L396.4 169.1 L396.5 169.3 L396.7 169.4 L396.8 169.6 L396.9 169.8 L397.1 169.9 L397.2 170.1 L397.4 170.3 L397.5 170.4 L397.7 170.6 L397.8 170.7 L397.9 170.9 L398.1 171.0 L398.2 171.2 L398.4 171.3 L398.5 171.5 L398.7 171.6 L398.8 171.7 L398.9 171.9 L399.1 172.0 L399.2 172.1 L399.4 172.2 L399.5 172.4 L399.7 172.5 L399.8 172.6 L399.9 172.7 L400.1 172.9 L400.2 173.0 L400.4 173.1 L400.5 173.2 L400.7 173.3 L400.8 173.4 L400.9 173.5 L401.1 173.6 L401.2 173.7 L401.4 173.8 L401.5 173.9 L401.7 174.0 L401.8 174.1 L401.9 174.2 L402.1 174.3 L402.2 174.4 L402.4 174.5 L402.5 174.6 L402.7 174.7 L402.8 174.8 L402.9 174.8 L403.1 174.9 L403.2 175.0 L403.4 175.1 L403.5 175.2 L403.7 175.3 L403.8 175.3 L403.9 175.4 L404.1 175.5 L404.2 175.6 L405.2 176.1 L406.3 176.5 L407.3 176.9 L408.3 177.2 L409.3 177.5 L410.3 177.8 L411.3 178.1 L412.3 178.3 L413.3 178.5 L414.3 178.7 L415.4 178.8 L416.4 179.0 L417.4 179.1 L418.4 179.3 L419.4 179.4 L420.4 179.5 L421.4 179.6 L422.4 179.7 L423.4 179.7 L424.4 179.8 L425.5 179.8 L426.5 179.9 L427.5 179.9 L428.5 179.9 L429.5 179.8 L430.5 179.8 L431.5 179.7 L432.5 179.7 L433.5 179.6 L434.6 179.5 L435.6 179.4 L436.6 179.3 L437.6 179.2 L438.6 179.0 L439.6 178.9 L440.6 178.8 L441.6 178.7 L442.6 178.5 L443.7 178.4 L444.7 178.3 L445.7 178.1 L446.7 178.0 L447.7 177.8 L448.7 177.7 L449.7 177.5 L450.7 177.3 L451.7 177.2 L452.8 177.0 L453.8 176.8 L454.8 176.6 L455.8 176.4 L456.8 176.2 L457.8 176.0 L458.8 175.7 L459.8 175.5 L460.8 175.3 L461.8 175.0 L462.9 174.8 L463.9 174.5 L464.9 174.3 L465.9 174.0 L466.9 173.8 L467.9 173.5 L468.9 173.2 L469.9 173.0 L470.9 172.7 L472.0 172.4 L473.0 172.2 L474.0 171.9 L475.0 171.6 L476.0 171.4 L477.0 171.1 L478.0 170.9 L479.0 170.6 L480.0 170.3 L481.1 170.1 L482.1 169.8 L483.1 169.6 L484.1 169.3 L485.1 169.1 L486.1 168.8 L487.1 168.6 L488.1 168.4 L489.1 168.1 L490.1 167.9 L491.2 167.7 L492.2 167.5 L493.2 167.3 L494.2 167.1 L495.2 166.9 L496.2 166.7 L497.2 166.5 L498.2 166.4 L499.2 166.2 L500.3 166.1 L501.3 165.9 L502.3 165.8 L503.3 165.7 L504.3 165.6 L505.3 165.5 L506.3 165.4 L507.3 165.3 L508.3 165.3 L509.4 165.2 L510.4 165.1 L511.4 165.1 L512.4 165.0 L513.4 164.9 L514.4 164.9 L515.4 164.8 L516.4 164.8 L517.4 164.8 L518.4 164.7 L519.5 164.7 L520.5 164.7 L521.5 164.7 L522.5 164.7 L523.5 164.7 L524.5 164.7 L525.5 164.8 L526.5 164.8 L527.5 164.9 L528.6 165.0 L529.6 165.0 L530.6 165.1 L531.6 165.2 L532.6 165.3 L533.6 165.4 L534.6 165.5 L535.6 165.6 L536.6 165.8 L537.7 165.9 L538.7 166.0 L539.7 166.2 L540.7 166.4 L541.7 166.5 L542.7 166.7 L543.7 166.9 L544.7 167.1 L545.7 167.3 L546.7 167.5 L547.8 167.7 L548.8 167.9 L549.8 168.1 L550.8 168.4 L551.8 168.6 L552.8 168.9 L553.8 169.1 L554.8 169.4 L555.8 169.7 L556.9 169.9 L557.9 170.2 L558.9 170.5 L559.9 170.7 L560.9 171.0 L561.9 171.3 L562.9 171.6 L563.9 171.8 L564.9 172.1 L566.0 172.4 L567.0 172.7 L568.0 172.9 L569.0 173.2 L570.0 173.4 L571.0 173.7 L572.0 174.0 L573.0 174.2 L574.0 174.4 L575.1 174.7 L576.1 174.9 L577.1 175.2 L578.1 175.4 L579.1 175.6 L580.1 175.8 L581.1 176.1 L582.1 176.3 L583.1 176.5 L584.1 176.7 L585.2 176.9 L586.2 177.1 L587.2 177.3 L588.2 177.5 L589.2 177.7 L590.2 177.9 L591.2 178.1 L592.2 178.3 L593.2 178.5 L594.3 178.7 L595.3 178.8 L596.3 179.0 L597.3 179.2 L598.3 179.4 L599.3 179.6 L600.3 179.7 L601.3 179.9 L602.3 180.1 L603.4 180.2 L604.4 180.4 L605.4 180.6 L606.4 180.7 L607.4 180.9 L608.4 181.0 L609.4 181.2 L610.4 181.3 L611.4 181.5 L612.4 181.6 L613.5 181.8 L614.5 181.9 L615.5 182.1 L616.5 182.2 L617.5 182.3 L618.5 182.5 L619.5 182.6 L620.5 182.7 L621.5 182.8 L622.6 182.9 L623.6 183.1 L624.6 183.2 L625.6 183.3" stroke="#48e848" stroke-width="2.3"/>
<path d="M381.5 149.8 L381.6 152.1 L381.8 154.3 L381.9 156.2 L382.1 157.9 L382.2 159.5 L382.4 160.9 L382.5 162.2 L382.6 163.4 L382.8 164.6 L382.9 165.6 L383.1 166.6 L383.2 167.5 L383.4 168.3 L383.5 169.1 L383.6 169.9 L383.8 170.6 L383.9 171.2 L384.1 171.9 L384.2 172.4 L384.4 173.0 L384.5 173.5 L384.6 174.0 L384.8 174.5 L384.9 174.9 L385.1 175.4 L385.2 175.8 L385.4 176.2 L385.5 176.6 L385.6 176.9 L385.8 177.3 L385.9 177.6 L386.1 177.9 L386.2 178.2 L386.4 178.5 L386.5 178.8 L386.6 179.1 L386.8 179.3 L386.9 179.6 L387.1 179.8 L387.2 180.0 L387.4 180.3 L387.5 180.5 L387.6 180.7 L387.8 180.9 L387.9 181.1 L388.1 181.3 L388.2 181.5 L388.4 181.7 L388.5 181.8 L388.6 182.0 L388.8 182.2 L388.9 182.3 L389.1 182.5 L389.2 182.6 L389.4 182.8 L389.5 182.9 L389.7 183.0 L389.8 183.2 L389.9 183.3 L390.1 183.4 L390.2 183.6 L390.4 183.7 L390.5 183.8 L390.7 183.9 L390.8 184.0 L390.9 184.1 L391.1 184.2 L391.2 184.4 L391.4 184.5 L391.5 184.6 L391.7 184.6 L391.8 184.7 L391.9 184.8 L392.1 184.9 L392.2 185.0 L392.4 185.1 L392.5 185.2 L392.7 185.3 L392.8 185.4 L392.9 185.4 L393.1 185.5 L393.2 185.6 L393.4 185.7 L393.5 185.7 L393.7 185.8 L393.8 185.9 L393.9 185.9 L394.1 186.0 L394.2 186.1 L394.4 186.1 L394.5 186.2 L394.7 186.3 L394.8 186.3 L394.9 186.4 L395.1 186.4 L395.2 186.5 L395.4 186.6 L395.5 186.6 L395.7 186.7 L395.8 186.7 L395.9 186.8 L396.1 186.8 L396.2 186.9 L396.4 186.9 L396.5 187.0 L396.7 187.0 L396.8 187.1 L396.9 187.1 L397.1 187.2 L397.2 187.2 L397.4 187.3 L397.5 187.3 L397.7 187.3 L397.8 187.4 L397.9 187.4 L398.1 187.5 L398.2 187.5 L398.4 187.5 L398.5 187.6 L398.7 187.6 L398.8 187.7 L398.9 187.7 L399.1 187.7 L399.2 187.8 L399.4 187.8 L399.5 187.8 L399.7 187.9 L399.8 187.9 L399.9 187.9 L400.1 188.0 L400.2 188.0 L400.4 188.0 L400.5 188.1 L400.7 188.1 L400.8 188.1 L400.9 188.2 L401.1 188.2 L401.2 188.2 L401.4 188.2 L401.5 188.3 L401.7 188.3 L401.8 188.3 L401.9 188.3 L402.1 188.4 L402.2 188.4 L402.4 188.4 L402.5 188.4 L402.7 188.5 L402.8 188.5 L402.9 188.5 L403.1 188.5 L403.2 188.6 L403.4 188.6 L403.5 188.6 L403.7 188.6 L403.8 188.6 L403.9 188.7 L404.1 188.7 L404.2 188.7 L405.2 188.8 L406.3 189.0 L407.3 189.1 L408.3 189.2 L409.3 189.3 L410.3 189.3 L411.3 189.4 L412.3 189.5 L413.3 189.5 L414.3 189.6 L415.4 189.6 L416.4 189.7 L417.4 189.7 L418.4 189.7 L419.4 189.8 L420.4 189.8 L421.4 189.8 L422.4 189.8 L423.4 189.9 L424.4 189.9 L425.5 189.9 L426.5 189.9 L427.5 189.9 L428.5 189.9 L429.5 189.9 L430.5 189.9 L431.5 189.9 L432.5 189.8 L433.5 189.8 L434.6 189.8 L435.6 189.8 L436.6 189.7 L437.6 189.7 L438.6 189.7 L439.6 189.6 L440.6 189.6 L441.6 189.6 L442.6 189.5 L443.7 189.5 L444.7 189.5 L445.7 189.4 L446.7 189.4 L447.7 189.3 L448.7 189.3 L449.7 189.2 L450.7 189.2 L451.7 189.2 L452.8 189.1 L453.8 189.0 L454.8 189.0 L455.8 188.9 L456.8 188.9 L457.8 188.8 L458.8 188.8 L459.8 188.7 L460.8 188.6 L461.8 188.6 L462.9 188.5 L463.9 188.4 L464.9 188.4 L465.9 188.3 L466.9 188.2 L467.9 188.1 L468.9 188.1 L469.9 188.0 L470.9 187.9 L472.0 187.9 L473.0 187.8 L474.0 187.7 L475.0 187.6 L476.0 187.6 L477.0 187.5 L478.0 187.4 L479.0 187.3 L480.0 187.3 L481.1 187.2 L482.1 187.1 L483.1 187.1 L484.1 187.0 L485.1 186.9 L486.1 186.9 L487.1 186.8 L488.1 186.7 L489.1 186.7 L490.1 186.6 L491.2 186.6 L492.2 186.5 L493.2 186.4 L494.2 186.4 L495.2 186.3 L496.2 186.3 L497.2 186.2 L498.2 186.2 L499.2 186.1 L500.3 186.1 L501.3 186.1 L502.3 186.0 L503.3 186.0 L504.3 186.0 L505.3 185.9 L506.3 185.9 L507.3 185.9 L508.3 185.9 L509.4 185.9 L510.4 185.8 L511.4 185.8 L512.4 185.8 L513.4 185.8 L514.4 185.8 L515.4 185.8 L516.4 185.8 L517.4 185.7 L518.4 185.7 L519.5 185.7 L520.5 185.7 L521.5 185.7 L522.5 185.7 L523.5 185.7 L524.5 185.7 L525.5 185.7 L526.5 185.8 L527.5 185.8 L528.6 185.8 L529.6 185.8 L530.6 185.8 L531.6 185.9 L532.6 185.9 L533.6 185.9 L534.6 186.0 L535.6 186.0 L536.6 186.0 L537.7 186.1 L538.7 186.1 L539.7 186.1 L540.7 186.2 L541.7 186.2 L542.7 186.3 L543.7 186.3 L544.7 186.4 L545.7 186.4 L546.7 186.5 L547.8 186.5 L548.8 186.6 L549.8 186.7 L550.8 186.7 L551.8 186.8 L552.8 186.9 L553.8 186.9 L554.8 187.0 L555.8 187.1 L556.9 187.2 L557.9 187.2 L558.9 187.3 L559.9 187.4 L560.9 187.5 L561.9 187.5 L562.9 187.6 L563.9 187.7 L564.9 187.8 L566.0 187.8 L567.0 187.9 L568.0 188.0 L569.0 188.1 L570.0 188.1 L571.0 188.2 L572.0 188.3 L573.0 188.3 L574.0 188.4 L575.1 188.5 L576.1 188.5 L577.1 188.6 L578.1 188.7 L579.1 188.7 L580.1 188.8 L581.1 188.8 L582.1 188.9 L583.1 189.0 L584.1 189.0 L585.2 189.1 L586.2 189.1 L587.2 189.2 L588.2 189.2 L589.2 189.3 L590.2 189.4 L591.2 189.4 L592.2 189.5 L593.2 189.5 L594.3 189.6 L595.3 189.6 L596.3 189.7 L597.3 189.7 L598.3 189.8 L599.3 189.8 L600.3 189.9 L601.3 189.9 L602.3 190.0 L603.4 190.0 L604.4 190.0 L605.4 190.1 L606.4 190.1 L607.4 190.2 L608.4 190.2 L609.4 190.3 L610.4 190.3 L611.4 190.3 L612.4 190.4 L613.5 190.4 L614.5 190.5 L615.5 190.5 L616.5 190.5 L617.5 190.6 L618.5 190.6 L619.5 190.6 L620.5 190.7 L621.5 190.7 L622.6 190.7 L623.6 190.8 L624.6 190.8 L625.6 190.8" stroke="#e644ee" stroke-width="2.2" stroke-dasharray="9.6 10"/>
<path d="M381.5 174.7 L381.6 175.7 L381.8 176.6 L381.9 177.4 L382.1 178.2 L382.2 178.9 L382.4 179.5 L382.5 180.1 L382.6 180.6 L382.8 181.1 L382.9 181.5 L383.1 181.9 L383.2 182.3 L383.4 182.7 L383.5 183.0 L383.6 183.4 L383.8 183.7 L383.9 184.0 L384.1 184.2 L384.2 184.5 L384.4 184.7 L384.5 185.0 L384.6 185.2 L384.8 185.4 L384.9 185.6 L385.1 185.8 L385.2 185.9 L385.4 186.1 L385.5 186.3 L385.6 186.4 L385.8 186.6 L385.9 186.7 L386.1 186.9 L386.2 187.0 L386.4 187.1 L386.5 187.2 L386.6 187.4 L386.8 187.5 L386.9 187.6 L387.1 187.7 L387.2 187.8 L387.4 187.9 L387.5 188.0 L387.6 188.1 L387.8 188.2 L387.9 188.2 L388.1 188.3 L388.2 188.4 L388.4 188.5 L388.5 188.6 L388.6 188.6 L388.8 188.7 L388.9 188.8 L389.1 188.8 L389.2 188.9 L389.4 189.0 L389.5 189.0 L389.7 189.1 L389.8 189.1 L389.9 189.2 L390.1 189.3 L390.2 189.3 L390.4 189.4 L390.5 189.4 L390.7 189.5 L390.8 189.5 L390.9 189.6 L391.1 189.6 L391.2 189.6 L391.4 189.7 L391.5 189.7 L391.7 189.8 L391.8 189.8 L391.9 189.9 L392.1 189.9 L392.2 189.9 L392.4 190.0 L392.5 190.0 L392.7 190.0 L392.8 190.1 L392.9 190.1 L393.1 190.1 L393.2 190.2 L393.4 190.2 L393.5 190.2 L393.7 190.3 L393.8 190.3 L393.9 190.3 L394.1 190.4 L394.2 190.4 L394.4 190.4 L394.5 190.5 L394.7 190.5 L394.8 190.5 L394.9 190.5 L395.1 190.6 L395.2 190.6 L395.4 190.6 L395.5 190.6 L395.7 190.7 L395.8 190.7 L395.9 190.7 L396.1 190.7 L396.2 190.7 L396.4 190.8 L396.5 190.8 L396.7 190.8 L396.8 190.8 L396.9 190.8 L397.1 190.9 L397.2 190.9 L397.4 190.9 L397.5 190.9 L397.7 190.9 L397.8 191.0 L397.9 191.0 L398.1 191.0 L398.2 191.0 L398.4 191.0 L398.5 191.0 L398.7 191.1 L398.8 191.1 L398.9 191.1 L399.1 191.1 L399.2 191.1 L399.4 191.1 L399.5 191.2 L399.7 191.2 L399.8 191.2 L399.9 191.2 L400.1 191.2 L400.2 191.2 L400.4 191.2 L400.5 191.3 L400.7 191.3 L400.8 191.3 L400.9 191.3 L401.1 191.3 L401.2 191.3 L401.4 191.3 L401.5 191.3 L401.7 191.4 L401.8 191.4 L401.9 191.4 L402.1 191.4 L402.2 191.4 L402.4 191.4 L402.5 191.4 L402.7 191.4 L402.8 191.4 L402.9 191.5 L403.1 191.5 L403.2 191.5 L403.4 191.5 L403.5 191.5 L403.7 191.5 L403.8 191.5 L403.9 191.5 L404.1 191.5 L404.2 191.5 L405.2 191.6 L406.3 191.6 L407.3 191.7 L408.3 191.7 L409.3 191.8 L410.3 191.8 L411.3 191.8 L412.3 191.9 L413.3 191.9 L414.3 191.9 L415.4 191.9 L416.4 191.9 L417.4 192.0 L418.4 192.0 L419.4 192.0 L420.4 192.0 L421.4 192.0 L422.4 192.0 L423.4 192.0 L424.4 192.0 L425.5 192.0 L426.5 192.1 L427.5 192.1 L428.5 192.1 L429.5 192.0 L430.5 192.0 L431.5 192.0 L432.5 192.0 L433.5 192.0 L434.6 192.0 L435.6 192.0 L436.6 192.0 L437.6 192.0 L438.6 192.0 L439.6 191.9 L440.6 191.9 L441.6 191.9 L442.6 191.9 L443.7 191.9 L444.7 191.9 L445.7 191.8 L446.7 191.8 L447.7 191.8 L448.7 191.8 L449.7 191.8 L450.7 191.7 L451.7 191.7 L452.8 191.7 L453.8 191.7 L454.8 191.7 L455.8 191.6 L456.8 191.6 L457.8 191.6 L458.8 191.6 L459.8 191.5 L460.8 191.5 L461.8 191.5 L462.9 191.4 L463.9 191.4 L464.9 191.4 L465.9 191.4 L466.9 191.3 L467.9 191.3 L468.9 191.3 L469.9 191.2 L470.9 191.2 L472.0 191.2 L473.0 191.1 L474.0 191.1 L475.0 191.1 L476.0 191.0 L477.0 191.0 L478.0 191.0 L479.0 190.9 L480.0 190.9 L481.1 190.9 L482.1 190.9 L483.1 190.8 L484.1 190.8 L485.1 190.8 L486.1 190.7 L487.1 190.7 L488.1 190.7 L489.1 190.7 L490.1 190.6 L491.2 190.6 L492.2 190.6 L493.2 190.6 L494.2 190.5 L495.2 190.5 L496.2 190.5 L497.2 190.5 L498.2 190.4 L499.2 190.4 L500.3 190.4 L501.3 190.4 L502.3 190.4 L503.3 190.4 L504.3 190.4 L505.3 190.3 L506.3 190.3 L507.3 190.3 L508.3 190.3 L509.4 190.3 L510.4 190.3 L511.4 190.3 L512.4 190.3 L513.4 190.3 L514.4 190.3 L515.4 190.3 L516.4 190.3 L517.4 190.3 L518.4 190.2 L519.5 190.2 L520.5 190.2 L521.5 190.2 L522.5 190.2 L523.5 190.2 L524.5 190.2 L525.5 190.3 L526.5 190.3 L527.5 190.3 L528.6 190.3 L529.6 190.3 L530.6 190.3 L531.6 190.3 L532.6 190.3 L533.6 190.3 L534.6 190.3 L535.6 190.4 L536.6 190.4 L537.7 190.4 L538.7 190.4 L539.7 190.4 L540.7 190.4 L541.7 190.5 L542.7 190.5 L543.7 190.5 L544.7 190.5 L545.7 190.5 L546.7 190.6 L547.8 190.6 L548.8 190.6 L549.8 190.7 L550.8 190.7 L551.8 190.7 L552.8 190.7 L553.8 190.8 L554.8 190.8 L555.8 190.8 L556.9 190.9 L557.9 190.9 L558.9 190.9 L559.9 191.0 L560.9 191.0 L561.9 191.0 L562.9 191.1 L563.9 191.1 L564.9 191.1 L566.0 191.2 L567.0 191.2 L568.0 191.2 L569.0 191.3 L570.0 191.3 L571.0 191.3 L572.0 191.3 L573.0 191.4 L574.0 191.4 L575.1 191.4 L576.1 191.5 L577.1 191.5 L578.1 191.5 L579.1 191.5 L580.1 191.6 L581.1 191.6 L582.1 191.6 L583.1 191.6 L584.1 191.7 L585.2 191.7 L586.2 191.7 L587.2 191.7 L588.2 191.8 L589.2 191.8 L590.2 191.8 L591.2 191.8 L592.2 191.9 L593.2 191.9 L594.3 191.9 L595.3 191.9 L596.3 192.0 L597.3 192.0 L598.3 192.0 L599.3 192.0 L600.3 192.0 L601.3 192.1 L602.3 192.1 L603.4 192.1 L604.4 192.1 L605.4 192.1 L606.4 192.2 L607.4 192.2 L608.4 192.2 L609.4 192.2 L610.4 192.2 L611.4 192.2 L612.4 192.3 L613.5 192.3 L614.5 192.3 L615.5 192.3 L616.5 192.3 L617.5 192.3 L618.5 192.4 L619.5 192.4 L620.5 192.4 L621.5 192.4 L622.6 192.4 L623.6 192.4 L624.6 192.4 L625.6 192.5" stroke="#e4b658" stroke-width="1.75" stroke-dasharray="5.1 3.7"/>
</g>
<rect x="504" y="30.6" width="114" height="41.8" fill="#fff" stroke="#c4c4c4" stroke-width="0.9"/>
<line x1="505" y1="37.8" x2="535.6" y2="37.8" stroke="#48e848" stroke-width="2.3"/>
<text x="0" y="0" transform="translate(542.2 42.1) scale(1.13 1)" font-family="'Liberation Sans', Arial, Helvetica, sans-serif" font-size="11.7" text-anchor="start" fill="#404040" stroke="#404040">r = 0.8 nm</text>
<line x1="505" y1="51.1" x2="514.49" y2="51.1" stroke="#e644ee" stroke-width="2.2"/>
<line x1="525.61" y1="51.1" x2="535.1" y2="51.1" stroke="#e644ee" stroke-width="2.2"/>
<text x="0" y="0" transform="translate(542.2 55.4) scale(1.13 1)" font-family="'Liberation Sans', Arial, Helvetica, sans-serif" font-size="11.7" text-anchor="start" fill="#404040" stroke="#404040">r = 0.803 nm</text>
<line x1="505" y1="64.8" x2="535.6" y2="64.8" stroke="#e4b658" stroke-width="1.75" stroke-dasharray="5.2 3.4"/>
<text x="0" y="0" transform="translate(542.2 69.1) scale(1.13 1)" font-family="'Liberation Sans', Arial, Helvetica, sans-serif" font-size="11.7" text-anchor="start" fill="#404040" stroke="#404040">r = 0.805 nm</text>
<line x1="379" y1="193.7" x2="379" y2="196.7" stroke="#8e8e8e" stroke-width="1.05"/>
<text x="0" y="0" transform="translate(379 208.5) scale(1.1 1)" font-family="'Liberation Sans', Arial, Helvetica, sans-serif" font-size="11.5" text-anchor="middle" fill="#404040" stroke="#404040">0</text>
<line x1="416.89" y1="193.7" x2="416.89" y2="196.7" stroke="#8e8e8e" stroke-width="1.05"/>
<text x="0" y="0" transform="translate(416.89 208.5) scale(1.1 1)" font-family="'Liberation Sans', Arial, Helvetica, sans-serif" font-size="11.5" text-anchor="middle" fill="#404040" stroke="#404040">50</text>
<line x1="454.78" y1="193.7" x2="454.78" y2="196.7" stroke="#8e8e8e" stroke-width="1.05"/>
<text x="0" y="0" transform="translate(454.78 208.5) scale(1.1 1)" font-family="'Liberation Sans', Arial, Helvetica, sans-serif" font-size="11.5" text-anchor="middle" fill="#404040" stroke="#404040">100</text>
<line x1="492.67" y1="193.7" x2="492.67" y2="196.7" stroke="#8e8e8e" stroke-width="1.05"/>
<text x="0" y="0" transform="translate(492.67 208.5) scale(1.1 1)" font-family="'Liberation Sans', Arial, Helvetica, sans-serif" font-size="11.5" text-anchor="middle" fill="#404040" stroke="#404040">150</text>
<line x1="530.56" y1="193.7" x2="530.56" y2="196.7" stroke="#8e8e8e" stroke-width="1.05"/>
<text x="0" y="0" transform="translate(530.56 208.5) scale(1.1 1)" font-family="'Liberation Sans', Arial, Helvetica, sans-serif" font-size="11.5" text-anchor="middle" fill="#404040" stroke="#404040">200</text>
<line x1="568.45" y1="193.7" x2="568.45" y2="196.7" stroke="#8e8e8e" stroke-width="1.05"/>
<text x="0" y="0" transform="translate(568.45 208.5) scale(1.1 1)" font-family="'Liberation Sans', Arial, Helvetica, sans-serif" font-size="11.5" text-anchor="middle" fill="#404040" stroke="#404040">250</text>
<line x1="606.34" y1="193.7" x2="606.34" y2="196.7" stroke="#8e8e8e" stroke-width="1.05"/>
<text x="0" y="0" transform="translate(606.34 208.5) scale(1.1 1)" font-family="'Liberation Sans', Arial, Helvetica, sans-serif" font-size="11.5" text-anchor="middle" fill="#404040" stroke="#404040">300</text>
<line x1="397.94" y1="193.7" x2="397.94" y2="195.5" stroke="#8e8e8e" stroke-width="0.9"/>
<line x1="435.83" y1="193.7" x2="435.83" y2="195.5" stroke="#8e8e8e" stroke-width="0.9"/>
<line x1="473.73" y1="193.7" x2="473.73" y2="195.5" stroke="#8e8e8e" stroke-width="0.9"/>
<line x1="511.62" y1="193.7" x2="511.62" y2="195.5" stroke="#8e8e8e" stroke-width="0.9"/>
<line x1="549.5" y1="193.7" x2="549.5" y2="195.5" stroke="#8e8e8e" stroke-width="0.9"/>
<line x1="587.39" y1="193.7" x2="587.39" y2="195.5" stroke="#8e8e8e" stroke-width="0.9"/>
<line x1="625.28" y1="193.7" x2="625.28" y2="195.5" stroke="#8e8e8e" stroke-width="0.9"/>
<line x1="374.6" y1="193.7" x2="379" y2="193.7" stroke="#8e8e8e" stroke-width="1.05"/>
<text x="0" y="0" transform="translate(372.6 197.2) scale(1.18 1)" font-family="'Liberation Sans', Arial, Helvetica, sans-serif" font-size="11.5" text-anchor="end" fill="#404040" stroke="#404040">0.00</text>
<line x1="374.6" y1="165.81" x2="379" y2="165.81" stroke="#8e8e8e" stroke-width="1.05"/>
<text x="0" y="0" transform="translate(372.6 169.31) scale(1.18 1)" font-family="'Liberation Sans', Arial, Helvetica, sans-serif" font-size="11.5" text-anchor="end" fill="#404040" stroke="#404040">0.05</text>
<line x1="374.6" y1="137.93" x2="379" y2="137.93" stroke="#8e8e8e" stroke-width="1.05"/>
<text x="0" y="0" transform="translate(372.6 141.43) scale(1.18 1)" font-family="'Liberation Sans', Arial, Helvetica, sans-serif" font-size="11.5" text-anchor="end" fill="#404040" stroke="#404040">0.10</text>
<line x1="374.6" y1="110.04" x2="379" y2="110.04" stroke="#8e8e8e" stroke-width="1.05"/>
<text x="0" y="0" transform="translate(372.6 113.54) scale(1.18 1)" font-family="'Liberation Sans', Arial, Helvetica, sans-serif" font-size="11.5" text-anchor="end" fill="#404040" stroke="#404040">0.15</text>
<line x1="374.6" y1="82.16" x2="379" y2="82.16" stroke="#8e8e8e" stroke-width="1.05"/>
<text x="0" y="0" transform="translate(372.6 85.66) scale(1.18 1)" font-family="'Liberation Sans', Arial, Helvetica, sans-serif" font-size="11.5" text-anchor="end" fill="#404040" stroke="#404040">0.20</text>
<line x1="374.6" y1="54.27" x2="379" y2="54.27" stroke="#8e8e8e" stroke-width="1.05"/>
<text x="0" y="0" transform="translate(372.6 57.77) scale(1.18 1)" font-family="'Liberation Sans', Arial, Helvetica, sans-serif" font-size="11.5" text-anchor="end" fill="#404040" stroke="#404040">0.25</text>
<line x1="374.6" y1="26.39" x2="379" y2="26.39" stroke="#8e8e8e" stroke-width="1.05"/>
<text x="0" y="0" transform="translate(372.6 29.89) scale(1.18 1)" font-family="'Liberation Sans', Arial, Helvetica, sans-serif" font-size="11.5" text-anchor="end" fill="#404040" stroke="#404040">0.30</text>
<line x1="376.6" y1="179.76" x2="379" y2="179.76" stroke="#8e8e8e" stroke-width="0.9"/>
<line x1="376.6" y1="151.87" x2="379" y2="151.87" stroke="#8e8e8e" stroke-width="0.9"/>
<line x1="376.6" y1="123.99" x2="379" y2="123.99" stroke="#8e8e8e" stroke-width="0.9"/>
<line x1="376.6" y1="96.1" x2="379" y2="96.1" stroke="#8e8e8e" stroke-width="0.9"/>
<line x1="376.6" y1="68.22" x2="379" y2="68.22" stroke="#8e8e8e" stroke-width="0.9"/>
<line x1="376.6" y1="40.33" x2="379" y2="40.33" stroke="#8e8e8e" stroke-width="0.9"/>
<text x="0" y="0" transform="translate(395.3 42.6) scale(1.1 1)" font-family="'Liberation Sans', Arial, Helvetica, sans-serif" font-size="11.5" text-anchor="middle" fill="#5c5c5c" stroke="#5c5c5c" font-weight="bold">(a)</text>
<g transform="translate(343.4 171) rotate(-90)">
<text x="0" y="0" font-family="'DejaVu Serif', 'Liberation Serif', serif" font-size="15.5" fill="#6e6e6e" stroke="#6e6e6e">χ</text>
<text transform="translate(11.5 -7.5) scale(1.08 1)" font-family="'Liberation Serif', 'Times New Roman', serif" font-size="9" fill="#6e6e6e" stroke="#6e6e6e">(3)</text>
<text transform="translate(12.5 5.8)" font-family="'Liberation Serif', 'Times New Roman', serif" font-size="9" fill="#909090" stroke="#909090">ωω<tspan font-size="6.5" dy="1.5">1</tspan></text>
<text x="27.5" y="0" font-family="'Liberation Serif', 'Times New Roman', serif" font-size="13.5" font-weight="bold" fill="#555" stroke="#555">(ω)</text>
<text x="48.4" y="0" font-family="'Liberation Sans', Arial, Helvetica, sans-serif" font-size="15.3" fill="#404040" stroke="#404040">(</text>
<text transform="translate(53.8 0) scale(0.985 1)" x="0" y="0" font-family="'Liberation Sans', Arial, Helvetica, sans-serif" font-size="15.3" fill="#404040" stroke="#404040">*10<tspan font-size="9" dy="-7.2">-11</tspan><tspan dy="7.2"> m</tspan><tspan font-size="9" dy="-7.2">2</tspan><tspan dy="7.2">/V</tspan><tspan font-size="9" dy="-7.2">2</tspan><tspan dy="7.2">)</tspan></text>
</g>
</g>
<g>
<rect x="381" y="209.3" width="252.1" height="166.2" fill="#fff"/>
<clipPath id="c6"><rect x="380.3" y="208.6" width="253.5" height="167.6"/></clipPath>
<rect x="381" y="209.3" width="252.1" height="166.2" fill="none" stroke="#8e8e8e" stroke-width="1.35"/>
<g clip-path="url(#c6)" fill="none" stroke-linejoin="round">
<path d="M383.5 347.2 L383.6 348.8 L383.8 350.2 L383.9 351.4 L384.1 352.5 L384.2 353.6 L384.4 354.5 L384.5 355.4 L384.7 356.2 L384.8 356.9 L384.9 357.6 L385.1 358.2 L385.2 358.8 L385.4 359.4 L385.5 359.9 L385.7 360.4 L385.8 360.8 L386.0 361.2 L386.1 361.6 L386.3 362.0 L386.4 362.4 L386.6 362.7 L386.7 363.0 L386.8 363.3 L387.0 363.6 L387.1 363.9 L387.3 364.2 L387.4 364.4 L387.6 364.7 L387.7 364.9 L387.9 365.1 L388.0 365.3 L388.2 365.5 L388.3 365.7 L388.5 365.9 L388.6 366.1 L388.8 366.3 L388.9 366.4 L389.0 366.6 L389.2 366.7 L389.3 366.9 L389.5 367.0 L389.6 367.2 L389.8 367.3 L389.9 367.4 L390.1 367.6 L390.2 367.7 L390.4 367.8 L390.5 367.9 L390.7 368.0 L390.8 368.1 L390.9 368.2 L391.1 368.3 L391.2 368.4 L391.4 368.5 L391.5 368.6 L391.7 368.7 L391.8 368.8 L392.0 368.9 L392.1 369.0 L392.3 369.0 L392.4 369.1 L392.6 369.2 L392.7 369.3 L392.8 369.3 L393.0 369.4 L393.1 369.5 L393.3 369.6 L393.4 369.6 L393.6 369.7 L393.7 369.7 L393.9 369.8 L394.0 369.9 L394.2 369.9 L394.3 370.0 L394.5 370.0 L394.6 370.1 L394.8 370.1 L394.9 370.2 L395.0 370.3 L395.2 370.3 L395.3 370.4 L395.5 370.4 L395.6 370.4 L395.8 370.5 L395.9 370.5 L396.1 370.6 L396.2 370.6 L396.4 370.7 L396.5 370.7 L396.7 370.8 L396.8 370.8 L396.9 370.8 L397.1 370.9 L397.2 370.9 L397.4 370.9 L397.5 371.0 L397.7 371.0 L397.8 371.1 L398.0 371.1 L398.1 371.1 L398.3 371.2 L398.4 371.2 L398.6 371.2 L398.7 371.2 L398.8 371.3 L399.0 371.3 L399.1 371.3 L399.3 371.4 L399.4 371.4 L399.6 371.4 L399.7 371.5 L399.9 371.5 L400.0 371.5 L400.2 371.5 L400.3 371.6 L400.5 371.6 L400.6 371.6 L400.8 371.6 L400.9 371.7 L401.0 371.7 L401.2 371.7 L401.3 371.7 L401.5 371.8 L401.6 371.8 L401.8 371.8 L401.9 371.8 L402.1 371.8 L402.2 371.9 L402.4 371.9 L402.5 371.9 L402.7 371.9 L402.8 371.9 L402.9 372.0 L403.1 372.0 L403.2 372.0 L403.4 372.0 L403.5 372.0 L403.7 372.1 L403.8 372.1 L404.0 372.1 L404.1 372.1 L404.3 372.1 L404.4 372.1 L404.6 372.2 L404.7 372.2 L404.9 372.2 L405.0 372.2 L405.1 372.2 L405.3 372.2 L405.4 372.3 L405.6 372.3 L405.7 372.3 L405.9 372.3 L406.0 372.3 L406.2 372.3 L406.3 372.3 L406.5 372.3 L406.6 372.4 L406.8 372.4 L407.8 372.5 L408.8 372.5 L409.9 372.6 L410.9 372.7 L411.9 372.7 L413.0 372.8 L414.0 372.8 L415.0 372.8 L416.1 372.9 L417.1 372.9 L418.1 372.9 L419.2 373.0 L420.2 373.0 L421.2 373.0 L422.3 373.0 L423.3 373.1 L424.3 373.1 L425.4 373.1 L426.4 373.1 L427.5 373.1 L428.5 373.1 L429.5 373.1 L430.6 373.1 L431.6 373.1 L432.6 373.1 L433.7 373.1 L434.7 373.1 L435.7 373.1 L436.8 373.1 L437.8 373.1 L438.8 373.0 L439.9 373.0 L440.9 373.0 L441.9 373.0 L443.0 373.0 L444.0 372.9 L445.0 372.9 L446.1 372.9 L447.1 372.9 L448.2 372.8 L449.2 372.8 L450.2 372.8 L451.3 372.8 L452.3 372.7 L453.3 372.7 L454.4 372.7 L455.4 372.7 L456.4 372.6 L457.5 372.6 L458.5 372.6 L459.5 372.5 L460.6 372.5 L461.6 372.5 L462.6 372.4 L463.7 372.4 L464.7 372.3 L465.7 372.3 L466.8 372.2 L467.8 372.2 L468.9 372.2 L469.9 372.1 L470.9 372.1 L472.0 372.0 L473.0 372.0 L474.0 371.9 L475.1 371.9 L476.1 371.8 L477.1 371.8 L478.2 371.8 L479.2 371.7 L480.2 371.7 L481.3 371.6 L482.3 371.6 L483.3 371.5 L484.4 371.5 L485.4 371.4 L486.4 371.4 L487.5 371.4 L488.5 371.3 L489.6 371.3 L490.6 371.2 L491.6 371.2 L492.7 371.1 L493.7 371.1 L494.7 371.1 L495.8 371.0 L496.8 371.0 L497.8 371.0 L498.9 370.9 L499.9 370.9 L500.9 370.9 L502.0 370.8 L503.0 370.8 L504.0 370.8 L505.1 370.8 L506.1 370.7 L507.1 370.7 L508.2 370.7 L509.2 370.7 L510.3 370.7 L511.3 370.6 L512.3 370.6 L513.4 370.6 L514.4 370.6 L515.4 370.6 L516.5 370.6 L517.5 370.6 L518.5 370.6 L519.6 370.5 L520.6 370.5 L521.6 370.5 L522.7 370.5 L523.7 370.5 L524.7 370.5 L525.8 370.5 L526.8 370.5 L527.8 370.5 L528.9 370.5 L529.9 370.5 L531.0 370.5 L532.0 370.5 L533.0 370.5 L534.1 370.6 L535.1 370.6 L536.1 370.6 L537.2 370.6 L538.2 370.6 L539.2 370.6 L540.3 370.7 L541.3 370.7 L542.3 370.7 L543.4 370.7 L544.4 370.7 L545.4 370.8 L546.5 370.8 L547.5 370.8 L548.5 370.9 L549.6 370.9 L550.6 370.9 L551.6 371.0 L552.7 371.0 L553.7 371.0 L554.8 371.1 L555.8 371.1 L556.8 371.1 L557.9 371.2 L558.9 371.2 L559.9 371.3 L561.0 371.3 L562.0 371.4 L563.0 371.4 L564.1 371.5 L565.1 371.5 L566.1 371.6 L567.2 371.6 L568.2 371.6 L569.2 371.7 L570.3 371.7 L571.3 371.8 L572.3 371.8 L573.4 371.9 L574.4 371.9 L575.5 372.0 L576.5 372.0 L577.5 372.1 L578.6 372.1 L579.6 372.1 L580.6 372.2 L581.7 372.2 L582.7 372.3 L583.7 372.3 L584.8 372.3 L585.8 372.4 L586.8 372.4 L587.9 372.5 L588.9 372.5 L589.9 372.5 L591.0 372.6 L592.0 372.6 L593.0 372.6 L594.1 372.7 L595.1 372.7 L596.2 372.7 L597.2 372.8 L598.2 372.8 L599.3 372.8 L600.3 372.9 L601.3 372.9 L602.4 372.9 L603.4 373.0 L604.4 373.0 L605.5 373.0 L606.5 373.1 L607.5 373.1 L608.6 373.1 L609.6 373.2 L610.6 373.2 L611.7 373.2 L612.7 373.2 L613.7 373.3 L614.8 373.3 L615.8 373.3 L616.9 373.3 L617.9 373.4 L618.9 373.4 L620.0 373.4 L621.0 373.4 L622.0 373.5 L623.1 373.5 L624.1 373.5 L625.1 373.5 L626.2 373.6 L627.2 373.6 L628.2 373.6 L629.3 373.6 L630.3 373.6 L631.3 373.7 L632.4 373.7 L633.4 373.7" stroke="#48e848" stroke-width="2.3"/>
<path d="M383.5 263.5 L383.6 269.6 L383.8 275.2 L383.9 280.1 L384.1 284.6 L384.2 288.7 L384.4 292.5 L384.5 295.9 L384.7 299.0 L384.8 301.9 L384.9 304.6 L385.1 307.1 L385.2 309.5 L385.4 311.6 L385.5 313.7 L385.7 315.6 L385.8 317.3 L386.0 319.0 L386.1 320.6 L386.3 322.1 L386.4 323.5 L386.6 324.9 L386.7 326.1 L386.8 327.3 L387.0 328.5 L387.1 329.6 L387.3 330.6 L387.4 331.6 L387.6 332.6 L387.7 333.5 L387.9 334.4 L388.0 335.2 L388.2 336.0 L388.3 336.8 L388.5 337.5 L388.6 338.2 L388.8 338.9 L388.9 339.6 L389.0 340.2 L389.2 340.8 L389.3 341.4 L389.5 342.0 L389.6 342.5 L389.8 343.0 L389.9 343.6 L390.1 344.0 L390.2 344.5 L390.4 345.0 L390.5 345.4 L390.7 345.9 L390.8 346.3 L390.9 346.7 L391.1 347.1 L391.2 347.5 L391.4 347.9 L391.5 348.3 L391.7 348.6 L391.8 349.0 L392.0 349.3 L392.1 349.6 L392.3 349.9 L392.4 350.3 L392.6 350.6 L392.7 350.8 L392.8 351.1 L393.0 351.4 L393.1 351.7 L393.3 352.0 L393.4 352.2 L393.6 352.5 L393.7 352.7 L393.9 353.0 L394.0 353.2 L394.2 353.4 L394.3 353.7 L394.5 353.9 L394.6 354.1 L394.8 354.3 L394.9 354.5 L395.0 354.7 L395.2 354.9 L395.3 355.1 L395.5 355.3 L395.6 355.5 L395.8 355.7 L395.9 355.9 L396.1 356.0 L396.2 356.2 L396.4 356.4 L396.5 356.5 L396.7 356.7 L396.8 356.9 L396.9 357.0 L397.1 357.2 L397.2 357.3 L397.4 357.5 L397.5 357.6 L397.7 357.8 L397.8 357.9 L398.0 358.0 L398.1 358.2 L398.3 358.3 L398.4 358.4 L398.6 358.6 L398.7 358.7 L398.8 358.8 L399.0 358.9 L399.1 359.0 L399.3 359.2 L399.4 359.3 L399.6 359.4 L399.7 359.5 L399.9 359.6 L400.0 359.7 L400.2 359.8 L400.3 359.9 L400.5 360.0 L400.6 360.1 L400.8 360.2 L400.9 360.3 L401.0 360.4 L401.2 360.5 L401.3 360.6 L401.5 360.7 L401.6 360.8 L401.8 360.9 L401.9 360.9 L402.1 361.0 L402.2 361.1 L402.4 361.2 L402.5 361.3 L402.7 361.3 L402.8 361.4 L402.9 361.5 L403.1 361.6 L403.2 361.7 L403.4 361.7 L403.5 361.8 L403.7 361.9 L403.8 361.9 L404.0 362.0 L404.1 362.1 L404.3 362.1 L404.4 362.2 L404.6 362.3 L404.7 362.3 L404.9 362.4 L405.0 362.5 L405.1 362.5 L405.3 362.6 L405.4 362.6 L405.6 362.7 L405.7 362.8 L405.9 362.8 L406.0 362.9 L406.2 362.9 L406.3 363.0 L406.5 363.0 L406.6 363.1 L406.8 363.1 L407.8 363.5 L408.8 363.8 L409.9 364.0 L410.9 364.3 L411.9 364.5 L413.0 364.7 L414.0 364.8 L415.0 365.0 L416.1 365.1 L417.1 365.3 L418.1 365.4 L419.2 365.5 L420.2 365.6 L421.2 365.7 L422.3 365.7 L423.3 365.8 L424.3 365.9 L425.4 365.9 L426.4 366.0 L427.5 366.0 L428.5 366.1 L429.5 366.1 L430.6 366.1 L431.6 366.1 L432.6 366.1 L433.7 366.0 L434.7 366.0 L435.7 366.0 L436.8 365.9 L437.8 365.8 L438.8 365.8 L439.9 365.7 L440.9 365.6 L441.9 365.5 L443.0 365.4 L444.0 365.4 L445.0 365.3 L446.1 365.2 L447.1 365.1 L448.2 365.0 L449.2 364.9 L450.2 364.8 L451.3 364.7 L452.3 364.6 L453.3 364.5 L454.4 364.4 L455.4 364.2 L456.4 364.1 L457.5 364.0 L458.5 363.9 L459.5 363.7 L460.6 363.6 L461.6 363.4 L462.6 363.3 L463.7 363.1 L464.7 363.0 L465.7 362.8 L466.8 362.6 L467.8 362.5 L468.9 362.3 L469.9 362.1 L470.9 361.9 L472.0 361.8 L473.0 361.6 L474.0 361.4 L475.1 361.2 L476.1 361.0 L477.1 360.9 L478.2 360.7 L479.2 360.5 L480.2 360.3 L481.3 360.1 L482.3 360.0 L483.3 359.8 L484.4 359.6 L485.4 359.4 L486.4 359.3 L487.5 359.1 L488.5 358.9 L489.6 358.8 L490.6 358.6 L491.6 358.4 L492.7 358.3 L493.7 358.1 L494.7 358.0 L495.8 357.8 L496.8 357.7 L497.8 357.5 L498.9 357.4 L499.9 357.3 L500.9 357.1 L502.0 357.0 L503.0 356.9 L504.0 356.8 L505.1 356.7 L506.1 356.6 L507.1 356.5 L508.2 356.4 L509.2 356.4 L510.3 356.3 L511.3 356.3 L512.3 356.2 L513.4 356.1 L514.4 356.1 L515.4 356.1 L516.5 356.0 L517.5 356.0 L518.5 355.9 L519.6 355.9 L520.6 355.9 L521.6 355.8 L522.7 355.8 L523.7 355.8 L524.7 355.8 L525.8 355.8 L526.8 355.8 L527.8 355.8 L528.9 355.8 L529.9 355.8 L531.0 355.8 L532.0 355.8 L533.0 355.9 L534.1 355.9 L535.1 356.0 L536.1 356.0 L537.2 356.1 L538.2 356.2 L539.2 356.2 L540.3 356.3 L541.3 356.4 L542.3 356.5 L543.4 356.6 L544.4 356.7 L545.4 356.8 L546.5 356.9 L547.5 357.0 L548.5 357.1 L549.6 357.2 L550.6 357.4 L551.6 357.5 L552.7 357.6 L553.7 357.8 L554.8 357.9 L555.8 358.1 L556.8 358.3 L557.9 358.4 L558.9 358.6 L559.9 358.8 L561.0 359.0 L562.0 359.1 L563.0 359.3 L564.1 359.5 L565.1 359.7 L566.1 359.9 L567.2 360.1 L568.2 360.2 L569.2 360.4 L570.3 360.6 L571.3 360.8 L572.3 361.0 L573.4 361.2 L574.4 361.4 L575.5 361.5 L576.5 361.7 L577.5 361.9 L578.6 362.1 L579.6 362.2 L580.6 362.4 L581.7 362.6 L582.7 362.7 L583.7 362.9 L584.8 363.0 L585.8 363.2 L586.8 363.3 L587.9 363.5 L588.9 363.6 L589.9 363.8 L591.0 363.9 L592.0 364.1 L593.0 364.2 L594.1 364.3 L595.1 364.5 L596.2 364.6 L597.2 364.7 L598.2 364.9 L599.3 365.0 L600.3 365.1 L601.3 365.3 L602.4 365.4 L603.4 365.5 L604.4 365.6 L605.5 365.8 L606.5 365.9 L607.5 366.0 L608.6 366.1 L609.6 366.2 L610.6 366.3 L611.7 366.5 L612.7 366.6 L613.7 366.7 L614.8 366.8 L615.8 366.9 L616.9 367.0 L617.9 367.1 L618.9 367.2 L620.0 367.3 L621.0 367.4 L622.0 367.5 L623.1 367.6 L624.1 367.7 L625.1 367.8 L626.2 367.8 L627.2 367.9 L628.2 368.0 L629.3 368.1 L630.3 368.2 L631.3 368.3 L632.4 368.3 L633.4 368.4" stroke="#e644ee" stroke-width="2.2" stroke-dasharray="9.6 10"/>
<path d="M383.5 196.8 L383.6 206.7 L383.8 215.5 L383.9 223.4 L384.1 230.6 L384.2 237.1 L384.4 243.1 L384.5 248.5 L384.7 253.6 L384.8 258.2 L384.9 262.5 L385.1 266.5 L385.2 270.2 L385.4 273.6 L385.5 276.9 L385.7 279.9 L385.8 282.8 L386.0 285.4 L386.1 288.0 L386.3 290.4 L386.4 292.6 L386.6 294.8 L386.7 296.8 L386.8 298.7 L387.0 300.5 L387.1 302.3 L387.3 304.0 L387.4 305.5 L387.6 307.1 L387.7 308.5 L387.9 309.9 L388.0 311.2 L388.2 312.5 L388.3 313.7 L388.5 314.9 L388.6 316.0 L388.8 317.1 L388.9 318.2 L389.0 319.2 L389.2 320.2 L389.3 321.1 L389.5 322.0 L389.6 322.9 L389.8 323.7 L389.9 324.5 L390.1 325.3 L390.2 326.1 L390.4 326.9 L390.5 327.6 L390.7 328.3 L390.8 328.9 L390.9 329.6 L391.1 330.2 L391.2 330.9 L391.4 331.5 L391.5 332.0 L391.7 332.6 L391.8 333.2 L392.0 333.7 L392.1 334.2 L392.3 334.7 L392.4 335.2 L392.6 335.7 L392.7 336.2 L392.8 336.6 L393.0 337.1 L393.1 337.5 L393.3 338.0 L393.4 338.4 L393.6 338.8 L393.7 339.2 L393.9 339.6 L394.0 339.9 L394.2 340.3 L394.3 340.7 L394.5 341.0 L394.6 341.4 L394.8 341.7 L394.9 342.1 L395.0 342.4 L395.2 342.7 L395.3 343.0 L395.5 343.3 L395.6 343.6 L395.8 343.9 L395.9 344.2 L396.1 344.5 L396.2 344.7 L396.4 345.0 L396.5 345.3 L396.7 345.5 L396.8 345.8 L396.9 346.0 L397.1 346.3 L397.2 346.5 L397.4 346.7 L397.5 347.0 L397.7 347.2 L397.8 347.4 L398.0 347.6 L398.1 347.9 L398.3 348.1 L398.4 348.3 L398.6 348.5 L398.7 348.7 L398.8 348.9 L399.0 349.1 L399.1 349.2 L399.3 349.4 L399.4 349.6 L399.6 349.8 L399.7 350.0 L399.9 350.1 L400.0 350.3 L400.2 350.5 L400.3 350.6 L400.5 350.8 L400.6 351.0 L400.8 351.1 L400.9 351.3 L401.0 351.4 L401.2 351.6 L401.3 351.7 L401.5 351.9 L401.6 352.0 L401.8 352.1 L401.9 352.3 L402.1 352.4 L402.2 352.5 L402.4 352.7 L402.5 352.8 L402.7 352.9 L402.8 353.1 L402.9 353.2 L403.1 353.3 L403.2 353.4 L403.4 353.5 L403.5 353.6 L403.7 353.8 L403.8 353.9 L404.0 354.0 L404.1 354.1 L404.3 354.2 L404.4 354.3 L404.6 354.4 L404.7 354.5 L404.9 354.6 L405.0 354.7 L405.1 354.8 L405.3 354.9 L405.4 355.0 L405.6 355.1 L405.7 355.2 L405.9 355.3 L406.0 355.3 L406.2 355.4 L406.3 355.5 L406.5 355.6 L406.6 355.7 L406.8 355.8 L407.8 356.3 L408.8 356.8 L409.9 357.2 L410.9 357.6 L411.9 357.9 L413.0 358.2 L414.0 358.5 L415.0 358.7 L416.1 359.0 L417.1 359.2 L418.1 359.3 L419.2 359.5 L420.2 359.7 L421.2 359.8 L422.3 359.9 L423.3 360.1 L424.3 360.2 L425.4 360.3 L426.4 360.3 L427.5 360.4 L428.5 360.4 L429.5 360.5 L430.6 360.5 L431.6 360.5 L432.6 360.5 L433.7 360.4 L434.7 360.3 L435.7 360.3 L436.8 360.2 L437.8 360.1 L438.8 360.0 L439.9 359.8 L440.9 359.7 L441.9 359.6 L443.0 359.5 L444.0 359.3 L445.0 359.2 L446.1 359.0 L447.1 358.9 L448.2 358.7 L449.2 358.6 L450.2 358.4 L451.3 358.3 L452.3 358.1 L453.3 357.9 L454.4 357.7 L455.4 357.6 L456.4 357.4 L457.5 357.2 L458.5 356.9 L459.5 356.7 L460.6 356.5 L461.6 356.3 L462.6 356.0 L463.7 355.8 L464.7 355.5 L465.7 355.2 L466.8 355.0 L467.8 354.7 L468.9 354.4 L469.9 354.1 L470.9 353.9 L472.0 353.6 L473.0 353.3 L474.0 353.0 L475.1 352.7 L476.1 352.4 L477.1 352.1 L478.2 351.9 L479.2 351.6 L480.2 351.3 L481.3 351.0 L482.3 350.7 L483.3 350.4 L484.4 350.2 L485.4 349.9 L486.4 349.6 L487.5 349.3 L488.5 349.1 L489.6 348.8 L490.6 348.5 L491.6 348.3 L492.7 348.0 L493.7 347.8 L494.7 347.5 L495.8 347.3 L496.8 347.1 L497.8 346.8 L498.9 346.6 L499.9 346.4 L500.9 346.2 L502.0 346.0 L503.0 345.8 L504.0 345.7 L505.1 345.5 L506.1 345.4 L507.1 345.2 L508.2 345.1 L509.2 345.0 L510.3 344.9 L511.3 344.8 L512.3 344.7 L513.4 344.6 L514.4 344.6 L515.4 344.5 L516.5 344.4 L517.5 344.4 L518.5 344.3 L519.6 344.2 L520.6 344.2 L521.6 344.1 L522.7 344.1 L523.7 344.1 L524.7 344.0 L525.8 344.0 L526.8 344.0 L527.8 344.0 L528.9 344.0 L529.9 344.1 L531.0 344.1 L532.0 344.2 L533.0 344.2 L534.1 344.3 L535.1 344.4 L536.1 344.5 L537.2 344.6 L538.2 344.7 L539.2 344.8 L540.3 344.9 L541.3 345.0 L542.3 345.2 L543.4 345.3 L544.4 345.5 L545.4 345.6 L546.5 345.8 L547.5 346.0 L548.5 346.2 L549.6 346.4 L550.6 346.6 L551.6 346.8 L552.7 347.0 L553.7 347.3 L554.8 347.5 L555.8 347.8 L556.8 348.0 L557.9 348.3 L558.9 348.6 L559.9 348.8 L561.0 349.1 L562.0 349.4 L563.0 349.7 L564.1 350.0 L565.1 350.3 L566.1 350.6 L567.2 350.9 L568.2 351.2 L569.2 351.5 L570.3 351.8 L571.3 352.1 L572.3 352.4 L573.4 352.7 L574.4 352.9 L575.5 353.2 L576.5 353.5 L577.5 353.8 L578.6 354.1 L579.6 354.3 L580.6 354.6 L581.7 354.9 L582.7 355.1 L583.7 355.4 L584.8 355.6 L585.8 355.9 L586.8 356.1 L587.9 356.3 L588.9 356.6 L589.9 356.8 L591.0 357.0 L592.0 357.3 L593.0 357.5 L594.1 357.7 L595.1 357.9 L596.2 358.1 L597.2 358.3 L598.2 358.6 L599.3 358.8 L600.3 359.0 L601.3 359.2 L602.4 359.4 L603.4 359.6 L604.4 359.8 L605.5 360.0 L606.5 360.2 L607.5 360.3 L608.6 360.5 L609.6 360.7 L610.6 360.9 L611.7 361.1 L612.7 361.2 L613.7 361.4 L614.8 361.6 L615.8 361.8 L616.9 361.9 L617.9 362.1 L618.9 362.2 L620.0 362.4 L621.0 362.6 L622.0 362.7 L623.1 362.9 L624.1 363.0 L625.1 363.1 L626.2 363.3 L627.2 363.4 L628.2 363.6 L629.3 363.7 L630.3 363.8 L631.3 363.9 L632.4 364.1 L633.4 364.2" stroke="#e4b658" stroke-width="1.75" stroke-dasharray="5.1 3.7"/>
</g>
<rect x="514.3" y="211.9" width="115.5" height="42.2" fill="#fff" stroke="#c4c4c4" stroke-width="0.9"/>
<line x1="515.5" y1="219.4" x2="547" y2="219.4" stroke="#48e848" stroke-width="2.3"/>
<text x="0" y="0" transform="translate(553.7 223.7) scale(1.13 1)" font-family="'Liberation Sans', Arial, Helvetica, sans-serif" font-size="11.7" text-anchor="start" fill="#404040" stroke="#404040">R = 8 nm</text>
<line x1="515.5" y1="232.7" x2="525.26" y2="232.7" stroke="#e644ee" stroke-width="2.2"/>
<line x1="536.74" y1="232.7" x2="546.5" y2="232.7" stroke="#e644ee" stroke-width="2.2"/>
<text x="0" y="0" transform="translate(553.7 237) scale(1.13 1)" font-family="'Liberation Sans', Arial, Helvetica, sans-serif" font-size="11.7" text-anchor="start" fill="#404040" stroke="#404040">R = 8.03 nm</text>
<line x1="515.5" y1="245.8" x2="547" y2="245.8" stroke="#e4b658" stroke-width="1.75" stroke-dasharray="5.2 3.4"/>
<text x="0" y="0" transform="translate(553.7 250.1) scale(1.13 1)" font-family="'Liberation Sans', Arial, Helvetica, sans-serif" font-size="11.7" text-anchor="start" fill="#404040" stroke="#404040">R = 8.04 nm</text>
<text x="0" y="0" transform="translate(381 390.3) scale(1.1 1)" font-family="'Liberation Sans', Arial, Helvetica, sans-serif" font-size="11.5" text-anchor="middle" fill="#404040" stroke="#404040">0</text>
<text x="0" y="0" transform="translate(419.78 390.3) scale(1.1 1)" font-family="'Liberation Sans', Arial, Helvetica, sans-serif" font-size="11.5" text-anchor="middle" fill="#404040" stroke="#404040">50</text>
<text x="0" y="0" transform="translate(458.57 390.3) scale(1.1 1)" font-family="'Liberation Sans', Arial, Helvetica, sans-serif" font-size="11.5" text-anchor="middle" fill="#404040" stroke="#404040">100</text>
<text x="0" y="0" transform="translate(497.36 390.3) scale(1.1 1)" font-family="'Liberation Sans', Arial, Helvetica, sans-serif" font-size="11.5" text-anchor="middle" fill="#404040" stroke="#404040">150</text>
<text x="0" y="0" transform="translate(536.14 390.3) scale(1.1 1)" font-family="'Liberation Sans', Arial, Helvetica, sans-serif" font-size="11.5" text-anchor="middle" fill="#404040" stroke="#404040">200</text>
<text x="0" y="0" transform="translate(574.92 390.3) scale(1.1 1)" font-family="'Liberation Sans', Arial, Helvetica, sans-serif" font-size="11.5" text-anchor="middle" fill="#404040" stroke="#404040">250</text>
<text x="0" y="0" transform="translate(613.71 390.3) scale(1.1 1)" font-family="'Liberation Sans', Arial, Helvetica, sans-serif" font-size="11.5" text-anchor="middle" fill="#404040" stroke="#404040">300</text>
<text x="0" y="0" transform="translate(374.6 379) scale(1.18 1)" font-family="'Liberation Sans', Arial, Helvetica, sans-serif" font-size="11.5" text-anchor="end" fill="#404040" stroke="#404040">0.0</text>
<text x="0" y="0" transform="translate(374.6 358.22) scale(1.18 1)" font-family="'Liberation Sans', Arial, Helvetica, sans-serif" font-size="11.5" text-anchor="end" fill="#404040" stroke="#404040">0.2</text>
<text x="0" y="0" transform="translate(374.6 337.44) scale(1.18 1)" font-family="'Liberation Sans', Arial, Helvetica, sans-serif" font-size="11.5" text-anchor="end" fill="#404040" stroke="#404040">0.4</text>
<text x="0" y="0" transform="translate(374.6 316.66) scale(1.18 1)" font-family="'Liberation Sans', Arial, Helvetica, sans-serif" font-size="11.5" text-anchor="end" fill="#404040" stroke="#404040">0.6</text>
<text x="0" y="0" transform="translate(374.6 295.88) scale(1.18 1)" font-family="'Liberation Sans', Arial, Helvetica, sans-serif" font-size="11.5" text-anchor="end" fill="#404040" stroke="#404040">0.8</text>
<text x="0" y="0" transform="translate(374.6 275.1) scale(1.18 1)" font-family="'Liberation Sans', Arial, Helvetica, sans-serif" font-size="11.5" text-anchor="end" fill="#404040" stroke="#404040">1.0</text>
<text x="0" y="0" transform="translate(374.6 254.32) scale(1.18 1)" font-family="'Liberation Sans', Arial, Helvetica, sans-serif" font-size="11.5" text-anchor="end" fill="#404040" stroke="#404040">1.2</text>
<text x="0" y="0" transform="translate(374.6 233.54) scale(1.18 1)" font-family="'Liberation Sans', Arial, Helvetica, sans-serif" font-size="11.5" text-anchor="end" fill="#404040" stroke="#404040">1.4</text>
<text x="0" y="0" transform="translate(374.6 212.76) scale(1.18 1)" font-family="'Liberation Sans', Arial, Helvetica, sans-serif" font-size="11.5" text-anchor="end" fill="#404040" stroke="#404040">1.6</text>
<text x="0" y="0" transform="translate(397.6 222.9) scale(1.1 1)" font-family="'Liberation Sans', Arial, Helvetica, sans-serif" font-size="11.5" text-anchor="middle" fill="#5c5c5c" stroke="#5c5c5c" font-weight="bold">(b)</text>
<g transform="translate(346 348.2) rotate(-90)">
<text x="0" y="0" font-family="'DejaVu Serif', 'Liberation Serif', serif" font-size="15.5" fill="#6e6e6e" stroke="#6e6e6e">χ</text>
<text transform="translate(11.5 -8.5) scale(1.08 1)" font-family="'Liberation Serif', 'Times New Roman', serif" font-size="9" fill="#6e6e6e" stroke="#6e6e6e">(3)</text>
<text transform="translate(12.5 5.8)" font-family="'Liberation Serif', 'Times New Roman', serif" font-size="9" fill="#909090" stroke="#909090">ωω<tspan font-size="6.5" dy="1.5">1</tspan></text>
<text x="21" y="-6" font-family="'Liberation Sans', Arial, Helvetica, sans-serif" font-size="6.5" font-style="italic" fill="#555" stroke="#555">(</text>
<text x="25.5" y="-6" font-family="'Liberation Serif', 'Times New Roman', serif" font-size="7" fill="#555" stroke="#555" font-weight="bold">ωω</text>
<text x="36.5" y="-5.6" font-family="'Liberation Sans', Arial, Helvetica, sans-serif" font-size="9" font-style="italic" fill="#444" stroke="#444">)(</text>
<text transform="translate(29.8 4.8) scale(0.64 1)" font-family="'Liberation Sans', Arial, Helvetica, sans-serif" font-size="20" fill="#383838" stroke="#383838">ω</text>
<text transform="translate(47 0) scale(0.95 1)" x="0" y="0" font-family="'Liberation Sans', Arial, Helvetica, sans-serif" font-size="15.3" fill="#404040" stroke="#404040">*10<tspan font-size="9" dy="-7.2">-11</tspan><tspan dy="7.2"> m</tspan><tspan font-size="9" dy="-7.2">2</tspan><tspan dy="7.2">/V</tspan><tspan font-size="9" dy="-7.2">2</tspan><tspan dy="7.2">)</tspan></text>
</g>
</g>
<g>
<rect x="381" y="392.2" width="252.1" height="160.7" fill="#fff"/>
<clipPath id="c7"><rect x="380.3" y="391.5" width="253.5" height="162.1"/></clipPath>
<rect x="381" y="392.2" width="252.1" height="160.7" fill="none" stroke="#8e8e8e" stroke-width="1.35"/>
<g clip-path="url(#c7)" fill="none" stroke-linejoin="round">
<path d="M381.0 520.6 L381.1 522.4 L381.3 523.9 L381.4 525.3 L381.6 526.6 L381.7 527.7 L381.8 528.8 L382.0 529.8 L382.1 530.7 L382.3 531.5 L382.4 532.3 L382.6 533.0 L382.7 533.6 L382.9 534.3 L383.0 534.8 L383.2 535.4 L383.3 535.9 L383.5 536.4 L383.6 536.8 L383.8 537.3 L383.9 537.7 L384.0 538.1 L384.2 538.4 L384.3 538.8 L384.5 539.1 L384.6 539.4 L384.8 539.7 L384.9 540.0 L385.1 540.3 L385.2 540.6 L385.4 540.8 L385.5 541.1 L385.7 541.3 L385.8 541.5 L386.0 541.7 L386.1 541.9 L386.2 542.1 L386.4 542.3 L386.5 542.5 L386.7 542.7 L386.8 542.9 L387.0 543.0 L387.1 543.2 L387.3 543.3 L387.4 543.5 L387.6 543.6 L387.7 543.8 L387.9 543.9 L388.0 544.0 L388.2 544.2 L388.3 544.3 L388.4 544.4 L388.6 544.5 L388.7 544.7 L388.9 544.8 L389.0 544.9 L389.2 545.0 L389.3 545.1 L389.5 545.2 L389.6 545.3 L389.8 545.4 L389.9 545.5 L390.1 545.5 L390.2 545.6 L390.3 545.7 L390.5 545.8 L390.6 545.9 L390.8 546.0 L390.9 546.0 L391.1 546.1 L391.2 546.2 L391.4 546.2 L391.5 546.3 L391.7 546.4 L391.8 546.5 L392.0 546.5 L392.1 546.6 L392.3 546.6 L392.4 546.7 L392.5 546.8 L392.7 546.8 L392.8 546.9 L393.0 546.9 L393.1 547.0 L393.3 547.0 L393.4 547.1 L393.6 547.1 L393.7 547.2 L393.9 547.2 L394.0 547.3 L394.2 547.3 L394.3 547.4 L394.5 547.4 L394.6 547.5 L394.7 547.5 L394.9 547.6 L395.0 547.6 L395.2 547.7 L395.3 547.7 L395.5 547.7 L395.6 547.8 L395.8 547.8 L395.9 547.9 L396.1 547.9 L396.2 547.9 L396.4 548.0 L396.5 548.0 L396.7 548.0 L396.8 548.1 L396.9 548.1 L397.1 548.1 L397.2 548.2 L397.4 548.2 L397.5 548.2 L397.7 548.3 L397.8 548.3 L398.0 548.3 L398.1 548.3 L398.3 548.4 L398.4 548.4 L398.6 548.4 L398.7 548.5 L398.9 548.5 L399.0 548.5 L399.1 548.5 L399.3 548.6 L399.4 548.6 L399.6 548.6 L399.7 548.6 L399.9 548.7 L400.0 548.7 L400.2 548.7 L400.3 548.7 L400.5 548.8 L400.6 548.8 L400.8 548.8 L400.9 548.8 L401.1 548.8 L401.2 548.9 L401.3 548.9 L401.5 548.9 L401.6 548.9 L401.8 548.9 L401.9 549.0 L402.1 549.0 L402.2 549.0 L402.4 549.0 L402.5 549.0 L402.7 549.1 L402.8 549.1 L403.0 549.1 L403.1 549.1 L403.3 549.1 L403.4 549.1 L403.5 549.2 L403.7 549.2 L403.8 549.2 L404.0 549.2 L404.1 549.2 L404.3 549.2 L405.3 549.3 L406.4 549.4 L407.4 549.5 L408.5 549.6 L409.5 549.6 L410.6 549.7 L411.6 549.7 L412.7 549.8 L413.7 549.8 L414.8 549.9 L415.8 549.9 L416.9 549.9 L417.9 550.0 L419.0 550.0 L420.0 550.0 L421.1 550.0 L422.1 550.1 L423.2 550.1 L424.2 550.1 L425.3 550.1 L426.3 550.1 L427.4 550.1 L428.4 550.1 L429.5 550.1 L430.5 550.1 L431.6 550.1 L432.6 550.1 L433.7 550.1 L434.7 550.0 L435.8 550.0 L436.8 550.0 L437.9 550.0 L438.9 550.0 L440.0 549.9 L441.0 549.9 L442.1 549.9 L443.1 549.8 L444.2 549.8 L445.2 549.8 L446.3 549.8 L447.3 549.7 L448.4 549.7 L449.4 549.7 L450.5 549.6 L451.5 549.6 L452.6 549.6 L453.6 549.5 L454.7 549.5 L455.7 549.5 L456.8 549.4 L457.8 549.4 L458.8 549.3 L459.9 549.3 L460.9 549.2 L462.0 549.2 L463.0 549.1 L464.1 549.1 L465.1 549.0 L466.2 549.0 L467.2 548.9 L468.3 548.9 L469.3 548.8 L470.4 548.8 L471.4 548.7 L472.5 548.7 L473.5 548.6 L474.6 548.6 L475.6 548.5 L476.7 548.5 L477.7 548.4 L478.8 548.3 L479.8 548.3 L480.9 548.2 L481.9 548.2 L483.0 548.1 L484.0 548.1 L485.1 548.0 L486.1 548.0 L487.2 547.9 L488.2 547.9 L489.3 547.8 L490.3 547.8 L491.4 547.7 L492.4 547.7 L493.5 547.6 L494.5 547.6 L495.6 547.6 L496.6 547.5 L497.7 547.5 L498.7 547.4 L499.8 547.4 L500.8 547.4 L501.9 547.3 L502.9 547.3 L504.0 547.3 L505.0 547.3 L506.1 547.2 L507.1 547.2 L508.2 547.2 L509.2 547.2 L510.3 547.2 L511.3 547.2 L512.4 547.1 L513.4 547.1 L514.5 547.1 L515.5 547.1 L516.6 547.1 L517.6 547.1 L518.7 547.1 L519.7 547.1 L520.8 547.1 L521.8 547.0 L522.9 547.0 L523.9 547.0 L525.0 547.0 L526.0 547.0 L527.1 547.0 L528.1 547.1 L529.2 547.1 L530.2 547.1 L531.3 547.1 L532.3 547.1 L533.4 547.1 L534.4 547.1 L535.5 547.2 L536.5 547.2 L537.6 547.2 L538.6 547.2 L539.7 547.2 L540.7 547.3 L541.8 547.3 L542.8 547.3 L543.9 547.4 L544.9 547.4 L545.9 547.4 L547.0 547.5 L548.0 547.5 L549.1 547.5 L550.1 547.6 L551.2 547.6 L552.2 547.7 L553.3 547.7 L554.3 547.8 L555.4 547.8 L556.4 547.9 L557.5 547.9 L558.5 548.0 L559.6 548.0 L560.6 548.1 L561.7 548.1 L562.7 548.2 L563.8 548.3 L564.8 548.3 L565.9 548.4 L566.9 548.4 L568.0 548.5 L569.0 548.5 L570.1 548.6 L571.1 548.6 L572.2 548.7 L573.2 548.8 L574.3 548.8 L575.3 548.9 L576.4 548.9 L577.4 549.0 L578.5 549.0 L579.5 549.1 L580.6 549.1 L581.6 549.2 L582.7 549.2 L583.7 549.2 L584.8 549.3 L585.8 549.3 L586.9 549.4 L587.9 549.4 L589.0 549.5 L590.0 549.5 L591.1 549.6 L592.1 549.6 L593.2 549.6 L594.2 549.7 L595.3 549.7 L596.3 549.8 L597.4 549.8 L598.4 549.8 L599.5 549.9 L600.5 549.9 L601.6 549.9 L602.6 550.0 L603.7 550.0 L604.7 550.1 L605.8 550.1 L606.8 550.1 L607.9 550.2 L608.9 550.2 L610.0 550.2 L611.0 550.3 L612.1 550.3 L613.1 550.3 L614.2 550.4 L615.2 550.4 L616.3 550.4 L617.3 550.4 L618.4 550.5 L619.4 550.5 L620.5 550.5 L621.5 550.6 L622.6 550.6 L623.6 550.6 L624.7 550.6 L625.7 550.7 L626.8 550.7 L627.8 550.7 L628.9 550.7 L629.9 550.8 L631.0 550.8 L632.0 550.8 L633.0 550.8 L634.1 550.9" stroke="#48e848" stroke-width="2.3"/>
<path d="M381.0 472.2 L381.1 476.6 L381.3 480.4 L381.4 483.9 L381.6 487.1 L381.7 490.0 L381.8 492.7 L382.0 495.1 L382.1 497.3 L382.3 499.4 L382.4 501.3 L382.6 503.1 L382.7 504.8 L382.9 506.3 L383.0 507.8 L383.2 509.1 L383.3 510.4 L383.5 511.6 L383.6 512.8 L383.8 513.8 L383.9 514.9 L384.0 515.8 L384.2 516.7 L384.3 517.6 L384.5 518.5 L384.6 519.2 L384.8 520.0 L384.9 520.7 L385.1 521.4 L385.2 522.1 L385.4 522.7 L385.5 523.3 L385.7 523.9 L385.8 524.4 L386.0 525.0 L386.1 525.5 L386.2 526.0 L386.4 526.5 L386.5 526.9 L386.7 527.4 L386.8 527.8 L387.0 528.2 L387.1 528.6 L387.3 529.0 L387.4 529.4 L387.6 529.7 L387.7 530.1 L387.9 530.4 L388.0 530.8 L388.2 531.1 L388.3 531.4 L388.4 531.7 L388.6 532.0 L388.7 532.3 L388.9 532.6 L389.0 532.8 L389.2 533.1 L389.3 533.3 L389.5 533.6 L389.6 533.8 L389.8 534.1 L389.9 534.3 L390.1 534.5 L390.2 534.7 L390.3 534.9 L390.5 535.1 L390.6 535.3 L390.8 535.5 L390.9 535.7 L391.1 535.9 L391.2 536.1 L391.4 536.3 L391.5 536.4 L391.7 536.6 L391.8 536.8 L392.0 536.9 L392.1 537.1 L392.3 537.3 L392.4 537.4 L392.5 537.6 L392.7 537.7 L392.8 537.9 L393.0 538.0 L393.1 538.1 L393.3 538.3 L393.4 538.4 L393.6 538.5 L393.7 538.7 L393.9 538.8 L394.0 538.9 L394.2 539.0 L394.3 539.1 L394.5 539.2 L394.6 539.4 L394.7 539.5 L394.9 539.6 L395.0 539.7 L395.2 539.8 L395.3 539.9 L395.5 540.0 L395.6 540.1 L395.8 540.2 L395.9 540.3 L396.1 540.4 L396.2 540.5 L396.4 540.6 L396.5 540.6 L396.7 540.7 L396.8 540.8 L396.9 540.9 L397.1 541.0 L397.2 541.1 L397.4 541.1 L397.5 541.2 L397.7 541.3 L397.8 541.4 L398.0 541.4 L398.1 541.5 L398.3 541.6 L398.4 541.7 L398.6 541.7 L398.7 541.8 L398.9 541.9 L399.0 541.9 L399.1 542.0 L399.3 542.1 L399.4 542.1 L399.6 542.2 L399.7 542.3 L399.9 542.3 L400.0 542.4 L400.2 542.4 L400.3 542.5 L400.5 542.5 L400.6 542.6 L400.8 542.7 L400.9 542.7 L401.1 542.8 L401.2 542.8 L401.3 542.9 L401.5 542.9 L401.6 543.0 L401.8 543.0 L401.9 543.1 L402.1 543.1 L402.2 543.2 L402.4 543.2 L402.5 543.2 L402.7 543.3 L402.8 543.3 L403.0 543.4 L403.1 543.4 L403.3 543.5 L403.4 543.5 L403.5 543.5 L403.7 543.6 L403.8 543.6 L404.0 543.7 L404.1 543.7 L404.3 543.7 L405.3 544.0 L406.4 544.2 L407.4 544.4 L408.5 544.6 L409.5 544.7 L410.6 544.9 L411.6 545.0 L412.7 545.1 L413.7 545.2 L414.8 545.3 L415.8 545.4 L416.9 545.5 L417.9 545.5 L419.0 545.6 L420.0 545.7 L421.1 545.7 L422.1 545.8 L423.2 545.8 L424.2 545.9 L425.3 545.9 L426.3 545.9 L427.4 545.9 L428.4 545.9 L429.5 545.9 L430.5 545.9 L431.6 545.9 L432.6 545.8 L433.7 545.8 L434.7 545.8 L435.8 545.7 L436.8 545.6 L437.9 545.6 L438.9 545.5 L440.0 545.5 L441.0 545.4 L442.1 545.3 L443.1 545.3 L444.2 545.2 L445.2 545.1 L446.3 545.1 L447.3 545.0 L448.4 544.9 L449.4 544.8 L450.5 544.8 L451.5 544.7 L452.6 544.6 L453.6 544.5 L454.7 544.4 L455.7 544.3 L456.8 544.2 L457.8 544.1 L458.8 544.0 L459.9 543.9 L460.9 543.7 L462.0 543.6 L463.0 543.5 L464.1 543.4 L465.1 543.2 L466.2 543.1 L467.2 543.0 L468.3 542.9 L469.3 542.7 L470.4 542.6 L471.4 542.5 L472.5 542.3 L473.5 542.2 L474.6 542.0 L475.6 541.9 L476.7 541.8 L477.7 541.6 L478.8 541.5 L479.8 541.4 L480.9 541.2 L481.9 541.1 L483.0 541.0 L484.0 540.9 L485.1 540.7 L486.1 540.6 L487.2 540.5 L488.2 540.3 L489.3 540.2 L490.3 540.1 L491.4 540.0 L492.4 539.9 L493.5 539.8 L494.5 539.7 L495.6 539.5 L496.6 539.4 L497.7 539.3 L498.7 539.3 L499.8 539.2 L500.8 539.1 L501.9 539.0 L502.9 538.9 L504.0 538.9 L505.0 538.8 L506.1 538.7 L507.1 538.7 L508.2 538.6 L509.2 538.6 L510.3 538.6 L511.3 538.5 L512.4 538.5 L513.4 538.5 L514.5 538.4 L515.5 538.4 L516.6 538.4 L517.6 538.3 L518.7 538.3 L519.7 538.3 L520.8 538.3 L521.8 538.3 L522.9 538.3 L523.9 538.2 L525.0 538.2 L526.0 538.3 L527.1 538.3 L528.1 538.3 L529.2 538.3 L530.2 538.3 L531.3 538.4 L532.3 538.4 L533.4 538.4 L534.4 538.5 L535.5 538.5 L536.5 538.6 L537.6 538.6 L538.6 538.7 L539.7 538.8 L540.7 538.8 L541.8 538.9 L542.8 539.0 L543.9 539.1 L544.9 539.1 L545.9 539.2 L547.0 539.3 L548.0 539.4 L549.1 539.5 L550.1 539.6 L551.2 539.7 L552.2 539.8 L553.3 540.0 L554.3 540.1 L555.4 540.2 L556.4 540.3 L557.5 540.5 L558.5 540.6 L559.6 540.7 L560.6 540.9 L561.7 541.0 L562.7 541.1 L563.8 541.3 L564.8 541.4 L565.9 541.6 L566.9 541.7 L568.0 541.9 L569.0 542.0 L570.1 542.1 L571.1 542.3 L572.2 542.4 L573.2 542.5 L574.3 542.7 L575.3 542.8 L576.4 542.9 L577.4 543.1 L578.5 543.2 L579.5 543.3 L580.6 543.4 L581.6 543.5 L582.7 543.7 L583.7 543.8 L584.8 543.9 L585.8 544.0 L586.9 544.1 L587.9 544.2 L589.0 544.3 L590.0 544.4 L591.1 544.5 L592.1 544.6 L593.2 544.7 L594.2 544.8 L595.3 544.9 L596.3 545.0 L597.4 545.1 L598.4 545.2 L599.5 545.3 L600.5 545.4 L601.6 545.5 L602.6 545.6 L603.7 545.7 L604.7 545.8 L605.8 545.9 L606.8 546.0 L607.9 546.1 L608.9 546.1 L610.0 546.2 L611.0 546.3 L612.1 546.4 L613.1 546.5 L614.2 546.5 L615.2 546.6 L616.3 546.7 L617.3 546.8 L618.4 546.8 L619.4 546.9 L620.5 547.0 L621.5 547.1 L622.6 547.1 L623.6 547.2 L624.7 547.3 L625.7 547.3 L626.8 547.4 L627.8 547.4 L628.9 547.5 L629.9 547.6 L631.0 547.6 L632.0 547.7 L633.0 547.7 L634.1 547.8" stroke="#e644ee" stroke-width="2.2" stroke-dasharray="9.6 10"/>
<path d="M381.0 390.0 L381.1 398.7 L381.3 406.5 L381.4 413.6 L381.6 420.0 L381.7 425.9 L381.8 431.2 L382.0 436.1 L382.1 440.6 L382.3 444.8 L382.4 448.7 L382.6 452.3 L382.7 455.6 L382.9 458.8 L383.0 461.7 L383.2 464.5 L383.3 467.1 L383.5 469.5 L383.6 471.8 L383.8 474.0 L383.9 476.1 L384.0 478.0 L384.2 479.9 L384.3 481.6 L384.5 483.3 L384.6 484.9 L384.8 486.4 L384.9 487.9 L385.1 489.3 L385.2 490.6 L385.4 491.9 L385.5 493.1 L385.7 494.3 L385.8 495.4 L386.0 496.5 L386.1 497.6 L386.2 498.6 L386.4 499.5 L386.5 500.5 L386.7 501.4 L386.8 502.2 L387.0 503.1 L387.1 503.9 L387.3 504.6 L387.4 505.4 L387.6 506.1 L387.7 506.8 L387.9 507.5 L388.0 508.2 L388.2 508.8 L388.3 509.5 L388.4 510.1 L388.6 510.7 L388.7 511.2 L388.9 511.8 L389.0 512.3 L389.2 512.9 L389.3 513.4 L389.5 513.9 L389.6 514.4 L389.8 514.8 L389.9 515.3 L390.1 515.7 L390.2 516.2 L390.3 516.6 L390.5 517.0 L390.6 517.4 L390.8 517.8 L390.9 518.2 L391.1 518.6 L391.2 519.0 L391.4 519.3 L391.5 519.7 L391.7 520.0 L391.8 520.3 L392.0 520.7 L392.1 521.0 L392.3 521.3 L392.4 521.6 L392.5 521.9 L392.7 522.2 L392.8 522.5 L393.0 522.8 L393.1 523.1 L393.3 523.3 L393.4 523.6 L393.6 523.9 L393.7 524.1 L393.9 524.4 L394.0 524.6 L394.2 524.9 L394.3 525.1 L394.5 525.3 L394.6 525.5 L394.7 525.8 L394.9 526.0 L395.0 526.2 L395.2 526.4 L395.3 526.6 L395.5 526.8 L395.6 527.0 L395.8 527.2 L395.9 527.4 L396.1 527.6 L396.2 527.8 L396.4 528.0 L396.5 528.1 L396.7 528.3 L396.8 528.5 L396.9 528.7 L397.1 528.8 L397.2 529.0 L397.4 529.1 L397.5 529.3 L397.7 529.5 L397.8 529.6 L398.0 529.8 L398.1 529.9 L398.3 530.1 L398.4 530.2 L398.6 530.3 L398.7 530.5 L398.9 530.6 L399.0 530.7 L399.1 530.9 L399.3 531.0 L399.4 531.1 L399.6 531.3 L399.7 531.4 L399.9 531.5 L400.0 531.6 L400.2 531.7 L400.3 531.9 L400.5 532.0 L400.6 532.1 L400.8 532.2 L400.9 532.3 L401.1 532.4 L401.2 532.5 L401.3 532.6 L401.5 532.7 L401.6 532.8 L401.8 532.9 L401.9 533.0 L402.1 533.1 L402.2 533.2 L402.4 533.3 L402.5 533.4 L402.7 533.5 L402.8 533.6 L403.0 533.7 L403.1 533.7 L403.3 533.8 L403.4 533.9 L403.5 534.0 L403.7 534.1 L403.8 534.2 L404.0 534.2 L404.1 534.3 L404.3 534.4 L405.3 534.9 L406.4 535.3 L407.4 535.7 L408.5 536.1 L409.5 536.4 L410.6 536.7 L411.6 537.0 L412.7 537.2 L413.7 537.4 L414.8 537.6 L415.8 537.7 L416.9 537.9 L417.9 538.0 L419.0 538.2 L420.0 538.3 L421.1 538.4 L422.1 538.5 L423.2 538.6 L424.2 538.7 L425.3 538.7 L426.3 538.8 L427.4 538.8 L428.4 538.8 L429.5 538.8 L430.5 538.7 L431.6 538.7 L432.6 538.6 L433.7 538.6 L434.7 538.5 L435.8 538.4 L436.8 538.3 L437.9 538.1 L438.9 538.0 L440.0 537.9 L441.0 537.8 L442.1 537.6 L443.1 537.5 L444.2 537.3 L445.2 537.2 L446.3 537.1 L447.3 536.9 L448.4 536.8 L449.4 536.6 L450.5 536.4 L451.5 536.3 L452.6 536.1 L453.6 535.9 L454.7 535.7 L455.7 535.5 L456.8 535.3 L457.8 535.1 L458.8 534.9 L459.9 534.6 L460.9 534.4 L462.0 534.2 L463.0 533.9 L464.1 533.7 L465.1 533.4 L466.2 533.1 L467.2 532.9 L468.3 532.6 L469.3 532.3 L470.4 532.1 L471.4 531.8 L472.5 531.5 L473.5 531.3 L474.6 531.0 L475.6 530.7 L476.7 530.4 L477.7 530.2 L478.8 529.9 L479.8 529.6 L480.9 529.4 L481.9 529.1 L483.0 528.8 L484.0 528.6 L485.1 528.3 L486.1 528.0 L487.2 527.8 L488.2 527.5 L489.3 527.3 L490.3 527.1 L491.4 526.8 L492.4 526.6 L493.5 526.4 L494.5 526.1 L495.6 525.9 L496.6 525.7 L497.7 525.5 L498.7 525.3 L499.8 525.2 L500.8 525.0 L501.9 524.8 L502.9 524.7 L504.0 524.6 L505.0 524.4 L506.1 524.3 L507.1 524.2 L508.2 524.1 L509.2 524.0 L510.3 523.9 L511.3 523.9 L512.4 523.8 L513.4 523.7 L514.5 523.7 L515.5 523.6 L516.6 523.5 L517.6 523.5 L518.7 523.4 L519.7 523.4 L520.8 523.4 L521.8 523.3 L522.9 523.3 L523.9 523.3 L525.0 523.3 L526.0 523.3 L527.1 523.3 L528.1 523.4 L529.2 523.4 L530.2 523.5 L531.3 523.5 L532.3 523.6 L533.4 523.7 L534.4 523.8 L535.5 523.9 L536.5 524.0 L537.6 524.1 L538.6 524.2 L539.7 524.3 L540.7 524.5 L541.8 524.6 L542.8 524.8 L543.9 524.9 L544.9 525.1 L545.9 525.3 L547.0 525.5 L548.0 525.7 L549.1 525.9 L550.1 526.1 L551.2 526.3 L552.2 526.5 L553.3 526.8 L554.3 527.0 L555.4 527.3 L556.4 527.5 L557.5 527.8 L558.5 528.1 L559.6 528.3 L560.6 528.6 L561.7 528.9 L562.7 529.2 L563.8 529.4 L564.8 529.7 L565.9 530.0 L566.9 530.3 L568.0 530.6 L569.0 530.9 L570.1 531.1 L571.1 531.4 L572.2 531.7 L573.2 532.0 L574.3 532.2 L575.3 532.5 L576.4 532.8 L577.4 533.0 L578.5 533.3 L579.5 533.5 L580.6 533.8 L581.6 534.0 L582.7 534.2 L583.7 534.5 L584.8 534.7 L585.8 534.9 L586.9 535.1 L587.9 535.4 L589.0 535.6 L590.0 535.8 L591.1 536.0 L592.1 536.2 L593.2 536.4 L594.2 536.6 L595.3 536.8 L596.3 537.0 L597.4 537.2 L598.4 537.4 L599.5 537.6 L600.5 537.8 L601.6 538.0 L602.6 538.2 L603.7 538.4 L604.7 538.5 L605.8 538.7 L606.8 538.9 L607.9 539.1 L608.9 539.2 L610.0 539.4 L611.0 539.6 L612.1 539.7 L613.1 539.9 L614.2 540.1 L615.2 540.2 L616.3 540.4 L617.3 540.5 L618.4 540.7 L619.4 540.8 L620.5 541.0 L621.5 541.1 L622.6 541.2 L623.6 541.4 L624.7 541.5 L625.7 541.6 L626.8 541.8 L627.8 541.9 L628.9 542.0 L629.9 542.1 L631.0 542.2 L632.0 542.3 L633.0 542.5 L634.1 542.6" stroke="#e4b658" stroke-width="1.75" stroke-dasharray="5.1 3.7"/>
</g>
<rect x="534.4" y="394.3" width="93.8" height="44.2" fill="#fff" stroke="#c4c4c4" stroke-width="0.9"/>
<line x1="535.6" y1="403.1" x2="567" y2="403.1" stroke="#48e848" stroke-width="2.3"/>
<text x="0" y="0" transform="translate(573.2 407.4) scale(1.13 1)" font-family="'Liberation Sans', Arial, Helvetica, sans-serif" font-size="11.7" text-anchor="start" fill="#404040" stroke="#404040"><tspan font-family="'Liberation Serif', 'Times New Roman', serif" fill="#707070" stroke="#707070">τ =</tspan> 6 ps</text>
<line x1="535.6" y1="417.7" x2="545.33" y2="417.7" stroke="#e644ee" stroke-width="2.2"/>
<line x1="556.77" y1="417.7" x2="566.5" y2="417.7" stroke="#e644ee" stroke-width="2.2"/>
<text x="0" y="0" transform="translate(573.2 422) scale(1.13 1)" font-family="'Liberation Sans', Arial, Helvetica, sans-serif" font-size="11.7" text-anchor="start" fill="#404040" stroke="#404040"><tspan font-family="'Liberation Serif', 'Times New Roman', serif" fill="#707070" stroke="#707070">τ =</tspan> 8 ps</text>
<line x1="535.6" y1="432" x2="567" y2="432" stroke="#e4b658" stroke-width="1.75" stroke-dasharray="5.2 3.4"/>
<text x="0" y="0" transform="translate(573.2 436.3) scale(1.13 1)" font-family="'Liberation Sans', Arial, Helvetica, sans-serif" font-size="11.7" text-anchor="start" fill="#404040" stroke="#404040"><tspan font-family="'Liberation Serif', 'Times New Roman', serif" fill="#707070" stroke="#707070">τ =</tspan> 10 ps</text>
<text x="0" y="0" transform="translate(419.16 567.7) scale(1.1 1)" font-family="'Liberation Sans', Arial, Helvetica, sans-serif" font-size="11.5" text-anchor="middle" fill="#404040" stroke="#404040">50</text>
<text x="0" y="0" transform="translate(458.02 567.7) scale(1.1 1)" font-family="'Liberation Sans', Arial, Helvetica, sans-serif" font-size="11.5" text-anchor="middle" fill="#404040" stroke="#404040">100</text>
<text x="0" y="0" transform="translate(496.88 567.7) scale(1.1 1)" font-family="'Liberation Sans', Arial, Helvetica, sans-serif" font-size="11.5" text-anchor="middle" fill="#404040" stroke="#404040">150</text>
<text x="0" y="0" transform="translate(535.74 567.7) scale(1.1 1)" font-family="'Liberation Sans', Arial, Helvetica, sans-serif" font-size="11.5" text-anchor="middle" fill="#404040" stroke="#404040">200</text>
<text x="0" y="0" transform="translate(574.6 567.7) scale(1.1 1)" font-family="'Liberation Sans', Arial, Helvetica, sans-serif" font-size="11.5" text-anchor="middle" fill="#404040" stroke="#404040">250</text>
<text x="0" y="0" transform="translate(613.46 567.7) scale(1.1 1)" font-family="'Liberation Sans', Arial, Helvetica, sans-serif" font-size="11.5" text-anchor="middle" fill="#404040" stroke="#404040">300</text>
<text x="0" y="0" transform="translate(374.6 556.4) scale(1.18 1)" font-family="'Liberation Sans', Arial, Helvetica, sans-serif" font-size="11.5" text-anchor="end" fill="#404040" stroke="#404040">0.0</text>
<text x="0" y="0" transform="translate(374.6 527.1) scale(1.18 1)" font-family="'Liberation Sans', Arial, Helvetica, sans-serif" font-size="11.5" text-anchor="end" fill="#404040" stroke="#404040">0.1</text>
<text x="0" y="0" transform="translate(374.6 497.8) scale(1.18 1)" font-family="'Liberation Sans', Arial, Helvetica, sans-serif" font-size="11.5" text-anchor="end" fill="#404040" stroke="#404040">0.2</text>
<text x="0" y="0" transform="translate(374.6 468.5) scale(1.18 1)" font-family="'Liberation Sans', Arial, Helvetica, sans-serif" font-size="11.5" text-anchor="end" fill="#404040" stroke="#404040">0.3</text>
<text x="0" y="0" transform="translate(374.6 439.2) scale(1.18 1)" font-family="'Liberation Sans', Arial, Helvetica, sans-serif" font-size="11.5" text-anchor="end" fill="#404040" stroke="#404040">0.4</text>
<text x="0" y="0" transform="translate(374.6 409.9) scale(1.18 1)" font-family="'Liberation Sans', Arial, Helvetica, sans-serif" font-size="11.5" text-anchor="end" fill="#404040" stroke="#404040">0.5</text>
<text x="0" y="0" transform="translate(393.3 403.7) scale(1.1 1)" font-family="'Liberation Sans', Arial, Helvetica, sans-serif" font-size="11.5" text-anchor="middle" fill="#5c5c5c" stroke="#5c5c5c" font-weight="bold">(c)</text>
<g transform="translate(340.5 526.8) rotate(-90)">
<text x="0" y="0" font-family="'DejaVu Serif', 'Liberation Serif', serif" font-size="15.5" fill="#6e6e6e" stroke="#6e6e6e">χ</text>
<text transform="translate(11.5 -9.5) scale(1.08 1)" font-family="'Liberation Serif', 'Times New Roman', serif" font-size="9" fill="#6e6e6e" stroke="#6e6e6e">(3)</text>
<text transform="translate(12.5 5.8)" font-family="'Liberation Serif', 'Times New Roman', serif" font-size="9" fill="#909090" stroke="#909090">ωω<tspan font-size="6.5" dy="1.5">1</tspan></text>
<text x="18" y="-6" font-family="'Liberation Sans', Arial, Helvetica, sans-serif" font-size="6.5" font-style="italic" fill="#555" stroke="#555">(</text>
<text x="22.5" y="-6" font-family="'Liberation Serif', 'Times New Roman', serif" font-size="7" fill="#555" stroke="#555" font-weight="bold">ωω</text>
<text x="33.5" y="-5.6" font-family="'Liberation Sans', Arial, Helvetica, sans-serif" font-size="9" font-style="italic" fill="#444" stroke="#444">)(</text>
<text transform="translate(26.8 6.3) scale(0.64 1)" font-family="'Liberation Sans', Arial, Helvetica, sans-serif" font-size="20" fill="#383838" stroke="#383838">ω</text>
<text transform="translate(44 0) scale(0.95 1)" x="0" y="0" font-family="'Liberation Sans', Arial, Helvetica, sans-serif" font-size="15.3" fill="#404040" stroke="#404040">*10<tspan font-size="9" dy="-7.2">-11</tspan><tspan dy="7.2"> m</tspan><tspan font-size="9" dy="-7.2">2</tspan><tspan dy="7.2">/V</tspan><tspan font-size="9" dy="-7.2">2</tspan><tspan dy="7.2">)</tspan></text>
</g>
</g>
<g>
<rect x="381" y="567.2" width="252.1" height="166.3" fill="#fff"/>
<clipPath id="c8"><rect x="380.3" y="566.5" width="253.5" height="167.7"/></clipPath>
<rect x="381" y="567.2" width="252.1" height="166.3" fill="none" stroke="#8e8e8e" stroke-width="1.35"/>
<g clip-path="url(#c8)" fill="none" stroke-linejoin="round">
<path d="M381.5 568.9 L381.7 578.3 L381.8 586.7 L382.0 594.3 L382.1 601.1 L382.2 607.3 L382.4 612.9 L382.5 618.0 L382.7 622.8 L382.8 627.1 L383.0 631.1 L383.1 634.9 L383.3 638.3 L383.4 641.6 L383.6 644.6 L383.7 647.4 L383.9 650.1 L384.0 652.6 L384.2 654.9 L384.3 657.1 L384.5 659.2 L384.6 661.2 L384.7 663.1 L384.9 664.9 L385.0 666.6 L385.2 668.2 L385.3 669.7 L385.5 671.2 L385.6 672.6 L385.8 674.0 L385.9 675.2 L386.1 676.5 L386.2 677.6 L386.4 678.8 L386.5 679.9 L386.7 680.9 L386.8 681.9 L387.0 682.9 L387.1 683.8 L387.2 684.7 L387.4 685.6 L387.5 686.4 L387.7 687.2 L387.8 688.0 L388.0 688.7 L388.1 689.5 L388.3 690.2 L388.4 690.9 L388.6 691.5 L388.7 692.2 L388.9 692.8 L389.0 693.4 L389.2 694.0 L389.3 694.5 L389.4 695.1 L389.6 695.6 L389.7 696.2 L389.9 696.7 L390.0 697.2 L390.2 697.6 L390.3 698.1 L390.5 698.6 L390.6 699.0 L390.8 699.4 L390.9 699.9 L391.1 700.3 L391.2 700.7 L391.4 701.1 L391.5 701.5 L391.7 701.8 L391.8 702.2 L391.9 702.6 L392.1 702.9 L392.2 703.3 L392.4 703.6 L392.5 703.9 L392.7 704.2 L392.8 704.5 L393.0 704.9 L393.1 705.2 L393.3 705.4 L393.4 705.7 L393.6 706.0 L393.7 706.3 L393.9 706.6 L394.0 706.8 L394.2 707.1 L394.3 707.3 L394.4 707.6 L394.6 707.8 L394.7 708.1 L394.9 708.3 L395.0 708.6 L395.2 708.8 L395.3 709.0 L395.5 709.2 L395.6 709.4 L395.8 709.7 L395.9 709.9 L396.1 710.1 L396.2 710.3 L396.4 710.5 L396.5 710.7 L396.6 710.8 L396.8 711.0 L396.9 711.2 L397.1 711.4 L397.2 711.6 L397.4 711.8 L397.5 711.9 L397.7 712.1 L397.8 712.3 L398.0 712.4 L398.1 712.6 L398.3 712.8 L398.4 712.9 L398.6 713.1 L398.7 713.2 L398.9 713.4 L399.0 713.5 L399.1 713.7 L399.3 713.8 L399.4 714.0 L399.6 714.1 L399.7 714.2 L399.9 714.4 L400.0 714.5 L400.2 714.6 L400.3 714.8 L400.5 714.9 L400.6 715.0 L400.8 715.2 L400.9 715.3 L401.1 715.4 L401.2 715.5 L401.4 715.6 L401.5 715.8 L401.6 715.9 L401.8 716.0 L401.9 716.1 L402.1 716.2 L402.2 716.3 L402.4 716.4 L402.5 716.5 L402.7 716.6 L402.8 716.7 L403.0 716.8 L403.1 716.9 L403.3 717.0 L403.4 717.1 L403.6 717.2 L403.7 717.3 L403.8 717.4 L404.0 717.5 L404.1 717.6 L404.3 717.7 L404.4 717.8 L404.6 717.9 L404.7 718.0 L404.9 718.1 L405.9 718.7 L407.0 719.2 L408.0 719.7 L409.0 720.2 L410.1 720.7 L411.1 721.1 L412.2 721.5 L413.2 721.9 L414.2 722.3 L415.3 722.7 L416.3 723.1 L417.4 723.4 L418.4 723.8 L419.4 724.1 L420.5 724.5 L421.5 724.8 L422.5 725.0 L423.6 725.3 L424.6 725.6 L425.7 725.8 L426.7 726.0 L427.7 726.2 L428.8 726.4 L429.8 726.6 L430.9 726.8 L431.9 727.0 L432.9 727.2 L434.0 727.3 L435.0 727.5 L436.1 727.6 L437.1 727.8 L438.1 727.9 L439.2 728.1 L440.2 728.2 L441.3 728.3 L442.3 728.5 L443.3 728.6 L444.4 728.7 L445.4 728.8 L446.5 729.0 L447.5 729.1 L448.5 729.2 L449.6 729.3 L450.6 729.4 L451.7 729.5 L452.7 729.6 L453.7 729.7 L454.8 729.8 L455.8 729.9 L456.9 729.9 L457.9 730.0 L458.9 730.1 L460.0 730.2 L461.0 730.3 L462.0 730.4 L463.1 730.4 L464.1 730.5 L465.2 730.6 L466.2 730.7 L467.2 730.7 L468.3 730.8 L469.3 730.9 L470.4 730.9 L471.4 731.0 L472.4 731.1 L473.5 731.1 L474.5 731.2 L475.6 731.2 L476.6 731.3 L477.6 731.3 L478.7 731.4 L479.7 731.5 L480.8 731.5 L481.8 731.6 L482.8 731.6 L483.9 731.7 L484.9 731.7 L486.0 731.8 L487.0 731.8 L488.0 731.8 L489.1 731.9 L490.1 731.9 L491.2 732.0 L492.2 732.0 L493.2 732.0 L494.3 732.1 L495.3 732.1 L496.4 732.2 L497.4 732.2 L498.4 732.2 L499.5 732.2 L500.5 732.3 L501.5 732.3 L502.6 732.3 L503.6 732.4 L504.7 732.4 L505.7 732.4 L506.7 732.4 L507.8 732.5 L508.8 732.5 L509.9 732.5 L510.9 732.5 L511.9 732.6 L513.0 732.6 L514.0 732.6 L515.1 732.6 L516.1 732.7 L517.1 732.7 L518.2 732.7 L519.2 732.7 L520.3 732.8 L521.3 732.8 L522.3 732.8 L523.4 732.8 L524.4 732.8 L525.5 732.9 L526.5 732.9 L527.5 732.9 L528.6 732.9 L529.6 733.0 L530.7 733.0 L531.7 733.0 L532.7 733.0 L533.8 733.0 L534.8 733.0 L535.9 733.1 L536.9 733.1 L537.9 733.1 L539.0 733.1 L540.0 733.1 L541.0 733.1 L542.1 733.1 L543.1 733.2 L544.2 733.2 L545.2 733.2 L546.2 733.2 L547.3 733.2 L548.3 733.2 L549.4 733.2 L550.4 733.2 L551.4 733.2 L552.5 733.3 L553.5 733.3 L554.6 733.3 L555.6 733.3 L556.6 733.3 L557.7 733.3 L558.7 733.3 L559.8 733.3 L560.8 733.3 L561.8 733.3 L562.9 733.3 L563.9 733.3 L565.0 733.3 L566.0 733.4 L567.0 733.4 L568.1 733.4 L569.1 733.4 L570.2 733.4 L571.2 733.4 L572.2 733.4 L573.3 733.4 L574.3 733.4 L575.4 733.4 L576.4 733.4 L577.4 733.4 L578.5 733.4 L579.5 733.4 L580.5 733.4 L581.6 733.4 L582.6 733.4 L583.7 733.4 L584.7 733.4 L585.7 733.4 L586.8 733.4 L587.8 733.4 L588.9 733.4 L589.9 733.4 L590.9 733.4 L592.0 733.4 L593.0 733.4 L594.1 733.4 L595.1 733.5 L596.1 733.5 L597.2 733.5 L598.2 733.5 L599.3 733.5 L600.3 733.5 L601.3 733.5 L602.4 733.5 L603.4 733.5 L604.5 733.5 L605.5 733.5 L606.5 733.5 L607.6 733.5 L608.6 733.5 L609.7 733.5 L610.7 733.5 L611.7 733.5 L612.8 733.5 L613.8 733.5 L614.9 733.5 L615.9 733.5 L616.9 733.5 L618.0 733.5 L619.0 733.5 L620.0 733.5 L621.1 733.5 L622.1 733.5 L623.2 733.5 L624.2 733.5 L625.2 733.5 L626.3 733.5 L627.3 733.5 L628.4 733.5 L629.4 733.5 L630.4 733.5 L631.5 733.5 L632.5 733.5" stroke="#48e848" stroke-width="2.3"/>
<path d="M381.5 705.9 L381.7 707.5 L381.8 708.9 L382.0 710.2 L382.1 711.3 L382.2 712.4 L382.4 713.3 L382.5 714.2 L382.7 715.0 L382.8 715.7 L383.0 716.4 L383.1 717.0 L383.3 717.6 L383.4 718.1 L383.6 718.6 L383.7 719.1 L383.9 719.5 L384.0 720.0 L384.2 720.3 L384.3 720.7 L384.5 721.1 L384.6 721.4 L384.7 721.7 L384.9 722.0 L385.0 722.3 L385.2 722.6 L385.3 722.8 L385.5 723.1 L385.6 723.3 L385.8 723.6 L385.9 723.8 L386.1 724.1 L386.2 724.3 L386.4 724.6 L386.5 724.8 L386.7 725.0 L386.8 725.2 L387.0 725.5 L387.1 725.7 L387.2 725.9 L387.4 726.1 L387.5 726.3 L387.7 726.5 L387.8 726.6 L388.0 726.8 L388.1 727.0 L388.3 727.1 L388.4 727.3 L388.6 727.4 L388.7 727.6 L388.9 727.7 L389.0 727.8 L389.2 727.9 L389.3 728.0 L389.4 728.1 L389.6 728.2 L389.7 728.3 L389.9 728.4 L390.0 728.5 L390.2 728.6 L390.3 728.7 L390.5 728.7 L390.6 728.8 L390.8 728.9 L390.9 729.0 L391.1 729.0 L391.2 729.1 L391.4 729.2 L391.5 729.2 L391.7 729.3 L391.8 729.4 L391.9 729.4 L392.1 729.5 L392.2 729.6 L392.4 729.6 L392.5 729.7 L392.7 729.7 L392.8 729.8 L393.0 729.8 L393.1 729.9 L393.3 729.9 L393.4 730.0 L393.6 730.0 L393.7 730.1 L393.9 730.1 L394.0 730.2 L394.2 730.2 L394.3 730.2 L394.4 730.3 L394.6 730.3 L394.7 730.4 L394.9 730.4 L395.0 730.4 L395.2 730.5 L395.3 730.5 L395.5 730.5 L395.6 730.6 L395.8 730.6 L395.9 730.6 L396.1 730.7 L396.2 730.7 L396.4 730.7 L396.5 730.8 L396.6 730.8 L396.8 730.8 L396.9 730.9 L397.1 730.9 L397.2 730.9 L397.4 730.9 L397.5 731.0 L397.7 731.0 L397.8 731.0 L398.0 731.1 L398.1 731.1 L398.3 731.1 L398.4 731.1 L398.6 731.2 L398.7 731.2 L398.9 731.2 L399.0 731.2 L399.1 731.2 L399.3 731.3 L399.4 731.3 L399.6 731.3 L399.7 731.3 L399.9 731.4 L400.0 731.4 L400.2 731.4 L400.3 731.4 L400.5 731.4 L400.6 731.5 L400.8 731.5 L400.9 731.5 L401.1 731.5 L401.2 731.5 L401.4 731.5 L401.5 731.6 L401.6 731.6 L401.8 731.6 L401.9 731.6 L402.1 731.6 L402.2 731.6 L402.4 731.7 L402.5 731.7 L402.7 731.7 L402.8 731.7 L403.0 731.7 L403.1 731.7 L403.3 731.7 L403.4 731.8 L403.6 731.8 L403.7 731.8 L403.8 731.8 L404.0 731.8 L404.1 731.8 L404.3 731.8 L404.4 731.9 L404.6 731.9 L404.7 731.9 L404.9 731.9 L405.9 732.0 L407.0 732.0 L408.0 732.1 L409.0 732.2 L410.1 732.2 L411.1 732.3 L412.2 732.3 L413.2 732.4 L414.2 732.4 L415.3 732.5 L416.3 732.5 L417.4 732.5 L418.4 732.6 L419.4 732.6 L420.5 732.6 L421.5 732.7 L422.5 732.7 L423.6 732.7 L424.6 732.7 L425.7 732.8 L426.7 732.8 L427.7 732.8 L428.8 732.8 L429.8 732.8 L430.9 732.9 L431.9 732.9 L432.9 732.9 L434.0 732.9 L435.0 732.9 L436.1 732.9 L437.1 733.0 L438.1 733.0 L439.2 733.0 L440.2 733.0 L441.3 733.0 L442.3 733.0 L443.3 733.0 L444.4 733.0 L445.4 733.1 L446.5 733.1 L447.5 733.1 L448.5 733.1 L449.6 733.1 L450.6 733.1 L451.7 733.1 L452.7 733.1 L453.7 733.1 L454.8 733.1 L455.8 733.1 L456.9 733.2 L457.9 733.2 L458.9 733.2 L460.0 733.2 L461.0 733.2 L462.0 733.2 L463.1 733.2 L464.1 733.2 L465.2 733.2 L466.2 733.2 L467.2 733.2 L468.3 733.2 L469.3 733.2 L470.4 733.2 L471.4 733.3 L472.4 733.3 L473.5 733.3 L474.5 733.3 L475.6 733.3 L476.6 733.3 L477.6 733.3 L478.7 733.3 L479.7 733.3 L480.8 733.3 L481.8 733.3 L482.8 733.3 L483.9 733.3 L484.9 733.3 L486.0 733.3 L487.0 733.3 L488.0 733.3 L489.1 733.3 L490.1 733.3 L491.2 733.4 L492.2 733.4 L493.2 733.4 L494.3 733.4 L495.3 733.4 L496.4 733.4 L497.4 733.4 L498.4 733.4 L499.5 733.4 L500.5 733.4 L501.5 733.4 L502.6 733.4 L503.6 733.4 L504.7 733.4 L505.7 733.4 L506.7 733.4 L507.8 733.4 L508.8 733.4 L509.9 733.4 L510.9 733.4 L511.9 733.4 L513.0 733.4 L514.0 733.4 L515.1 733.4 L516.1 733.4 L517.1 733.4 L518.2 733.4 L519.2 733.4 L520.3 733.4 L521.3 733.4 L522.3 733.4 L523.4 733.4 L524.4 733.4 L525.5 733.4 L526.5 733.4 L527.5 733.4 L528.6 733.5 L529.6 733.5 L530.7 733.5 L531.7 733.5 L532.7 733.5 L533.8 733.5 L534.8 733.5 L535.9 733.5 L536.9 733.5 L537.9 733.5 L539.0 733.5 L540.0 733.5 L541.0 733.5 L542.1 733.5 L543.1 733.5 L544.2 733.5 L545.2 733.5 L546.2 733.5 L547.3 733.5 L548.3 733.5 L549.4 733.5 L550.4 733.5 L551.4 733.5 L552.5 733.5 L553.5 733.5 L554.6 733.5 L555.6 733.5 L556.6 733.5 L557.7 733.5 L558.7 733.5 L559.8 733.5 L560.8 733.5 L561.8 733.5 L562.9 733.5 L563.9 733.5 L565.0 733.5 L566.0 733.5 L567.0 733.5 L568.1 733.5 L569.1 733.5 L570.2 733.5 L571.2 733.5 L572.2 733.5 L573.3 733.5 L574.3 733.5 L575.4 733.5 L576.4 733.5 L577.4 733.5 L578.5 733.5 L579.5 733.5 L580.5 733.5 L581.6 733.5 L582.6 733.5 L583.7 733.5 L584.7 733.5 L585.7 733.5 L586.8 733.5 L587.8 733.5 L588.9 733.5 L589.9 733.5 L590.9 733.5 L592.0 733.5 L593.0 733.5 L594.1 733.5 L595.1 733.5 L596.1 733.5 L597.2 733.5 L598.2 733.5 L599.3 733.5 L600.3 733.5 L601.3 733.5 L602.4 733.5 L603.4 733.5 L604.5 733.5 L605.5 733.5 L606.5 733.5 L607.6 733.5 L608.6 733.5 L609.7 733.5 L610.7 733.5 L611.7 733.5 L612.8 733.5 L613.8 733.5 L614.9 733.5 L615.9 733.5 L616.9 733.5 L618.0 733.5 L619.0 733.5 L620.0 733.5 L621.1 733.5 L622.1 733.5 L623.2 733.5 L624.2 733.5 L625.2 733.5 L626.3 733.5 L627.3 733.5 L628.4 733.5 L629.4 733.5 L630.4 733.5 L631.5 733.5 L632.5 733.5" stroke="#e644ee" stroke-width="2.2" stroke-dasharray="9.6 10"/>
<path d="M381.5 731.2 L381.7 731.3 L381.8 731.5 L382.0 731.6 L382.1 731.7 L382.2 731.7 L382.4 731.8 L382.5 731.9 L382.7 732.0 L382.8 732.0 L383.0 732.1 L383.1 732.1 L383.3 732.2 L383.4 732.2 L383.6 732.3 L383.7 732.3 L383.9 732.3 L384.0 732.4 L384.2 732.4 L384.3 732.4 L384.5 732.5 L384.6 732.5 L384.7 732.5 L384.9 732.5 L385.0 732.6 L385.2 732.6 L385.3 732.6 L385.5 732.6 L385.6 732.7 L385.8 732.7 L385.9 732.7 L386.1 732.7 L386.2 732.7 L386.4 732.8 L386.5 732.8 L386.7 732.8 L386.8 732.8 L387.0 732.8 L387.1 732.8 L387.2 732.9 L387.4 732.9 L387.5 732.9 L387.7 732.9 L387.8 732.9 L388.0 732.9 L388.1 733.0 L388.3 733.0 L388.4 733.0 L388.6 733.0 L388.7 733.0 L388.9 733.0 L389.0 733.0 L389.2 733.0 L389.3 733.0 L389.4 733.1 L389.6 733.1 L389.7 733.1 L389.9 733.1 L390.0 733.1 L390.2 733.1 L390.3 733.1 L390.5 733.1 L390.6 733.1 L390.8 733.1 L390.9 733.1 L391.1 733.1 L391.2 733.1 L391.4 733.1 L391.5 733.1 L391.7 733.2 L391.8 733.2 L391.9 733.2 L392.1 733.2 L392.2 733.2 L392.4 733.2 L392.5 733.2 L392.7 733.2 L392.8 733.2 L393.0 733.2 L393.1 733.2 L393.3 733.2 L393.4 733.2 L393.6 733.2 L393.7 733.2 L393.9 733.2 L394.0 733.2 L394.2 733.2 L394.3 733.2 L394.4 733.2 L394.6 733.2 L394.7 733.2 L394.9 733.2 L395.0 733.2 L395.2 733.2 L395.3 733.3 L395.5 733.3 L395.6 733.3 L395.8 733.3 L395.9 733.3 L396.1 733.3 L396.2 733.3 L396.4 733.3 L396.5 733.3 L396.6 733.3 L396.8 733.3 L396.9 733.3 L397.1 733.3 L397.2 733.3 L397.4 733.3 L397.5 733.3 L397.7 733.3 L397.8 733.3 L398.0 733.3 L398.1 733.3 L398.3 733.3 L398.4 733.3 L398.6 733.3 L398.7 733.3 L398.9 733.3 L399.0 733.3 L399.1 733.3 L399.3 733.3 L399.4 733.3 L399.6 733.3 L399.7 733.3 L399.9 733.3 L400.0 733.3 L400.2 733.3 L400.3 733.3 L400.5 733.3 L400.6 733.3 L400.8 733.3 L400.9 733.3 L401.1 733.3 L401.2 733.3 L401.4 733.3 L401.5 733.3 L401.6 733.3 L401.8 733.3 L401.9 733.3 L402.1 733.3 L402.2 733.3 L402.4 733.3 L402.5 733.3 L402.7 733.3 L402.8 733.4 L403.0 733.4 L403.1 733.4 L403.3 733.4 L403.4 733.4 L403.6 733.4 L403.7 733.4 L403.8 733.4 L404.0 733.4 L404.1 733.4 L404.3 733.4 L404.4 733.4 L404.6 733.4 L404.7 733.4 L404.9 733.4 L405.9 733.4 L407.0 733.4 L408.0 733.4 L409.0 733.4 L410.1 733.4 L411.1 733.4 L412.2 733.4 L413.2 733.4 L414.2 733.4 L415.3 733.4 L416.3 733.4 L417.4 733.4 L418.4 733.4 L419.4 733.4 L420.5 733.4 L421.5 733.4 L422.5 733.4 L423.6 733.4 L424.6 733.4 L425.7 733.4 L426.7 733.4 L427.7 733.4 L428.8 733.4 L429.8 733.4 L430.9 733.4 L431.9 733.4 L432.9 733.4 L434.0 733.5 L435.0 733.5 L436.1 733.5 L437.1 733.5 L438.1 733.5 L439.2 733.5 L440.2 733.5 L441.3 733.5 L442.3 733.5 L443.3 733.5 L444.4 733.5 L445.4 733.5 L446.5 733.5 L447.5 733.5 L448.5 733.5 L449.6 733.5 L450.6 733.5 L451.7 733.5 L452.7 733.5 L453.7 733.5 L454.8 733.5 L455.8 733.5 L456.9 733.5 L457.9 733.5 L458.9 733.5 L460.0 733.5 L461.0 733.5 L462.0 733.5 L463.1 733.5 L464.1 733.5 L465.2 733.5 L466.2 733.5 L467.2 733.5 L468.3 733.5 L469.3 733.5 L470.4 733.5 L471.4 733.5 L472.4 733.5 L473.5 733.5 L474.5 733.5 L475.6 733.5 L476.6 733.5 L477.6 733.5 L478.7 733.5 L479.7 733.5 L480.8 733.5 L481.8 733.5 L482.8 733.5 L483.9 733.5 L484.9 733.5 L486.0 733.5 L487.0 733.5 L488.0 733.5 L489.1 733.5 L490.1 733.5 L491.2 733.5 L492.2 733.5 L493.2 733.5 L494.3 733.5 L495.3 733.5 L496.4 733.5 L497.4 733.5 L498.4 733.5 L499.5 733.5 L500.5 733.5 L501.5 733.5 L502.6 733.5 L503.6 733.5 L504.7 733.5 L505.7 733.5 L506.7 733.5 L507.8 733.5 L508.8 733.5 L509.9 733.5 L510.9 733.5 L511.9 733.5 L513.0 733.5 L514.0 733.5 L515.1 733.5 L516.1 733.5 L517.1 733.5 L518.2 733.5 L519.2 733.5 L520.3 733.5 L521.3 733.5 L522.3 733.5 L523.4 733.5 L524.4 733.5 L525.5 733.5 L526.5 733.5 L527.5 733.5 L528.6 733.5 L529.6 733.5 L530.7 733.5 L531.7 733.5 L532.7 733.5 L533.8 733.5 L534.8 733.5 L535.9 733.5 L536.9 733.5 L537.9 733.5 L539.0 733.5 L540.0 733.5 L541.0 733.5 L542.1 733.5 L543.1 733.5 L544.2 733.5 L545.2 733.5 L546.2 733.5 L547.3 733.5 L548.3 733.5 L549.4 733.5 L550.4 733.5 L551.4 733.5 L552.5 733.5 L553.5 733.5 L554.6 733.5 L555.6 733.5 L556.6 733.5 L557.7 733.5 L558.7 733.5 L559.8 733.5 L560.8 733.5 L561.8 733.5 L562.9 733.5 L563.9 733.5 L565.0 733.5 L566.0 733.5 L567.0 733.5 L568.1 733.5 L569.1 733.5 L570.2 733.5 L571.2 733.5 L572.2 733.5 L573.3 733.5 L574.3 733.5 L575.4 733.5 L576.4 733.5 L577.4 733.5 L578.5 733.5 L579.5 733.5 L580.5 733.5 L581.6 733.5 L582.6 733.5 L583.7 733.5 L584.7 733.5 L585.7 733.5 L586.8 733.5 L587.8 733.5 L588.9 733.5 L589.9 733.5 L590.9 733.5 L592.0 733.5 L593.0 733.5 L594.1 733.5 L595.1 733.5 L596.1 733.5 L597.2 733.5 L598.2 733.5 L599.3 733.5 L600.3 733.5 L601.3 733.5 L602.4 733.5 L603.4 733.5 L604.5 733.5 L605.5 733.5 L606.5 733.5 L607.6 733.5 L608.6 733.5 L609.7 733.5 L610.7 733.5 L611.7 733.5 L612.8 733.5 L613.8 733.5 L614.9 733.5 L615.9 733.5 L616.9 733.5 L618.0 733.5 L619.0 733.5 L620.0 733.5 L621.1 733.5 L622.1 733.5 L623.2 733.5 L624.2 733.5 L625.2 733.5 L626.3 733.5 L627.3 733.5 L628.4 733.5 L629.4 733.5 L630.4 733.5 L631.5 733.5 L632.5 733.5" stroke="#e4b658" stroke-width="1.75" stroke-dasharray="5.1 3.7"/>
</g>
<rect x="518" y="568.8" width="109.3" height="46" fill="#fff" stroke="#c4c4c4" stroke-width="0.9"/>
<line x1="519.3" y1="578.1" x2="550.7" y2="578.1" stroke="#48e848" stroke-width="2.3"/>
<text x="0" y="0" transform="translate(557.4 582.4) scale(1.13 1)" font-family="'Liberation Sans', Arial, Helvetica, sans-serif" font-size="11.7" text-anchor="start" fill="#404040" stroke="#404040"><tspan font-family="'Liberation Serif', 'Times New Roman', serif" fill="#707070" stroke="#707070">μ =</tspan> 40 meV</text>
<line x1="519.3" y1="592.7" x2="529.03" y2="592.7" stroke="#e644ee" stroke-width="2.2"/>
<line x1="540.47" y1="592.7" x2="550.2" y2="592.7" stroke="#e644ee" stroke-width="2.2"/>
<text x="0" y="0" transform="translate(557.4 597) scale(1.13 1)" font-family="'Liberation Sans', Arial, Helvetica, sans-serif" font-size="11.7" text-anchor="start" fill="#404040" stroke="#404040"><tspan font-family="'Liberation Serif', 'Times New Roman', serif" fill="#707070" stroke="#707070">μ =</tspan> 60 meV</text>
<line x1="519.3" y1="607.2" x2="550.7" y2="607.2" stroke="#e4b658" stroke-width="1.75" stroke-dasharray="5.2 3.4"/>
<text x="0" y="0" transform="translate(557.4 611.5) scale(1.13 1)" font-family="'Liberation Sans', Arial, Helvetica, sans-serif" font-size="11.7" text-anchor="start" fill="#404040" stroke="#404040"><tspan font-family="'Liberation Serif', 'Times New Roman', serif" fill="#707070" stroke="#707070">μ =</tspan> 80 meV</text>
<text x="0" y="0" transform="translate(418.04 748.3) scale(1.1 1)" font-family="'Liberation Sans', Arial, Helvetica, sans-serif" font-size="11.5" text-anchor="middle" fill="#404040" stroke="#404040">50</text>
<text x="0" y="0" transform="translate(456.98 748.3) scale(1.1 1)" font-family="'Liberation Sans', Arial, Helvetica, sans-serif" font-size="11.5" text-anchor="middle" fill="#404040" stroke="#404040">100</text>
<text x="0" y="0" transform="translate(495.92 748.3) scale(1.1 1)" font-family="'Liberation Sans', Arial, Helvetica, sans-serif" font-size="11.5" text-anchor="middle" fill="#404040" stroke="#404040">150</text>
<text x="0" y="0" transform="translate(534.86 748.3) scale(1.1 1)" font-family="'Liberation Sans', Arial, Helvetica, sans-serif" font-size="11.5" text-anchor="middle" fill="#404040" stroke="#404040">200</text>
<text x="0" y="0" transform="translate(573.8 748.3) scale(1.1 1)" font-family="'Liberation Sans', Arial, Helvetica, sans-serif" font-size="11.5" text-anchor="middle" fill="#404040" stroke="#404040">250</text>
<text x="0" y="0" transform="translate(612.74 748.3) scale(1.1 1)" font-family="'Liberation Sans', Arial, Helvetica, sans-serif" font-size="11.5" text-anchor="middle" fill="#404040" stroke="#404040">300</text>
<text x="0" y="0" transform="translate(374.6 737) scale(1.18 1)" font-family="'Liberation Sans', Arial, Helvetica, sans-serif" font-size="11.5" text-anchor="end" fill="#404040" stroke="#404040">0</text>
<text x="0" y="0" transform="translate(374.6 713.26) scale(1.18 1)" font-family="'Liberation Sans', Arial, Helvetica, sans-serif" font-size="11.5" text-anchor="end" fill="#404040" stroke="#404040">2</text>
<text x="0" y="0" transform="translate(374.6 689.52) scale(1.18 1)" font-family="'Liberation Sans', Arial, Helvetica, sans-serif" font-size="11.5" text-anchor="end" fill="#404040" stroke="#404040">4</text>
<text x="0" y="0" transform="translate(374.6 665.78) scale(1.18 1)" font-family="'Liberation Sans', Arial, Helvetica, sans-serif" font-size="11.5" text-anchor="end" fill="#404040" stroke="#404040">6</text>
<text x="0" y="0" transform="translate(374.6 642.04) scale(1.18 1)" font-family="'Liberation Sans', Arial, Helvetica, sans-serif" font-size="11.5" text-anchor="end" fill="#404040" stroke="#404040">8</text>
<text x="0" y="0" transform="translate(374.6 618.3) scale(1.18 1)" font-family="'Liberation Sans', Arial, Helvetica, sans-serif" font-size="11.5" text-anchor="end" fill="#404040" stroke="#404040">10</text>
<text x="0" y="0" transform="translate(374.6 594.56) scale(1.18 1)" font-family="'Liberation Sans', Arial, Helvetica, sans-serif" font-size="11.5" text-anchor="end" fill="#404040" stroke="#404040">12</text>
<text x="0" y="0" transform="translate(374.6 570.82) scale(1.18 1)" font-family="'Liberation Sans', Arial, Helvetica, sans-serif" font-size="11.5" text-anchor="end" fill="#404040" stroke="#404040">14</text>
<text x="0" y="0" transform="translate(393.6 579.2) scale(1.1 1)" font-family="'Liberation Sans', Arial, Helvetica, sans-serif" font-size="11.5" text-anchor="middle" fill="#5c5c5c" stroke="#5c5c5c" font-weight="bold">(d)</text>
<g transform="translate(348 705.4) rotate(-90)">
<text x="0" y="0" font-family="'DejaVu Serif', 'Liberation Serif', serif" font-size="15.5" fill="#6e6e6e" stroke="#6e6e6e">χ</text>
<text transform="translate(11.5 -7.5) scale(1.08 1)" font-family="'Liberation Serif', 'Times New Roman', serif" font-size="9" fill="#6e6e6e" stroke="#6e6e6e">(3)</text>
<text transform="translate(12.5 5.8)" font-family="'Liberation Serif', 'Times New Roman', serif" font-size="9" fill="#909090" stroke="#909090">ωω<tspan font-size="6.5" dy="1.5">1</tspan></text>
<text x="22.2" y="-6" font-family="'Liberation Sans', Arial, Helvetica, sans-serif" font-size="6.5" font-style="italic" fill="#555" stroke="#555">(</text>
<text x="26.7" y="-6" font-family="'Liberation Serif', 'Times New Roman', serif" font-size="7" fill="#555" stroke="#555" font-weight="bold">ωω</text>
<text x="37.7" y="-5.6" font-family="'Liberation Sans', Arial, Helvetica, sans-serif" font-size="9" font-style="italic" fill="#444" stroke="#444">)(</text>
<text transform="translate(31 8.5) scale(0.64 1)" font-family="'Liberation Sans', Arial, Helvetica, sans-serif" font-size="20" fill="#383838" stroke="#383838">ω</text>
<text transform="translate(48.2 0) scale(0.95 1)" x="0" y="0" font-family="'Liberation Sans', Arial, Helvetica, sans-serif" font-size="15.3" fill="#404040" stroke="#404040">*10<tspan font-size="9" dy="-7.2">-11</tspan><tspan dy="7.2"> m</tspan><tspan font-size="9" dy="-7.2">2</tspan><tspan dy="7.2">/V</tspan><tspan font-size="9" dy="-7.2">2</tspan><tspan dy="7.2">)</tspan></text>
</g>
<text transform="translate(499.3 763.4) scale(1.22 1)" x="0" y="0" text-anchor="middle" font-family="'Liberation Sans', Arial, Helvetica, sans-serif" font-size="14.5" fill="#404040" stroke="#404040">h<tspan font-family="'Liberation Serif', 'Times New Roman', serif" fill="#666" stroke="#666">ω</tspan>(eV)</text>
</g>
</svg>
</body></html>
